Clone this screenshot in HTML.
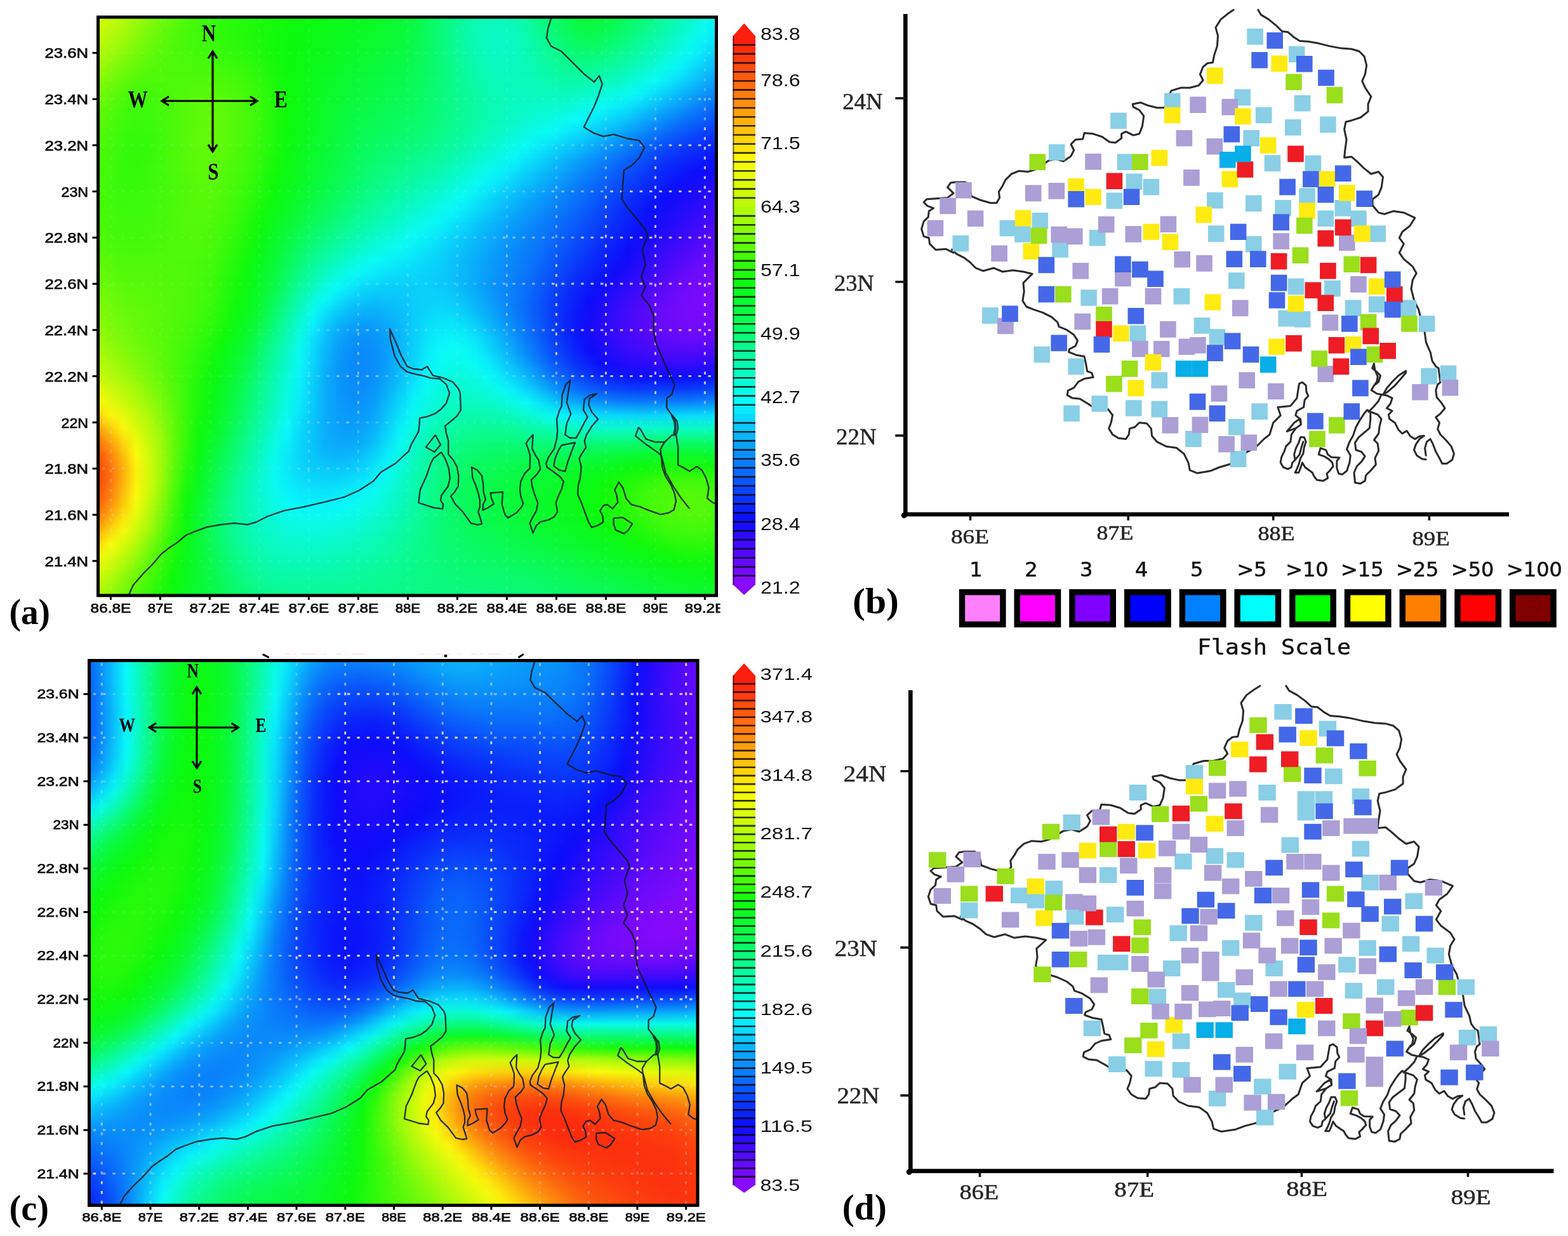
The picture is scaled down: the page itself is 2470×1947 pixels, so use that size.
<!DOCTYPE html>
<html lang="en"><head><meta charset="utf-8"><title>Figure</title>
<style>html,body{margin:0;padding:0;background:#fff}svg{display:block}</style></head>
<body>
<svg width="2470" height="1947" viewBox="0 0 2470 1947" role="img" aria-label="Four-panel figure: two shaded maps with colour bars and two flash-count maps">
<defs>
<linearGradient id="vg" x1="0" y1="0" x2="0" y2="1"><stop offset="0" stop-color="#000"/><stop offset="1" stop-color="#fff"/></linearGradient>
<mask id="vm" maskContentUnits="objectBoundingBox" x="0" y="0" width="1" height="1"><rect x="0" y="0" width="1" height="1" fill="url(#vg)"/></mask>
<linearGradient id="a0"><stop offset="0" stop-color="#d6fa0a"/><stop offset="0.061" stop-color="#a0fa0a"/><stop offset="0.102" stop-color="#70fa0a"/><stop offset="0.143" stop-color="#4efa0a"/><stop offset="0.204" stop-color="#2dfa0b"/><stop offset="0.306" stop-color="#10fa0c"/><stop offset="0.347" stop-color="#0cfa0f"/><stop offset="0.449" stop-color="#0bfa24"/><stop offset="0.49" stop-color="#0afa35"/><stop offset="0.51" stop-color="#0afa43"/><stop offset="0.592" stop-color="#0afaa0"/><stop offset="0.612" stop-color="#0afab1"/><stop offset="0.633" stop-color="#0afaba"/><stop offset="0.653" stop-color="#0afabb"/><stop offset="0.673" stop-color="#0afab1"/><stop offset="0.694" stop-color="#0afa9f"/><stop offset="0.755" stop-color="#0afa52"/><stop offset="0.776" stop-color="#0afa3f"/><stop offset="0.796" stop-color="#0afa39"/><stop offset="0.816" stop-color="#0afa3d"/><stop offset="0.837" stop-color="#0afa4b"/><stop offset="0.918" stop-color="#0afa9d"/><stop offset="1" stop-color="#0afaf9"/></linearGradient>
<linearGradient id="a1"><stop offset="0" stop-color="#cbfa0a"/><stop offset="0.041" stop-color="#a8fa0a"/><stop offset="0.102" stop-color="#65fa0a"/><stop offset="0.143" stop-color="#49fa0a"/><stop offset="0.224" stop-color="#26fa0b"/><stop offset="0.306" stop-color="#0dfa0c"/><stop offset="0.449" stop-color="#0bfa29"/><stop offset="0.49" stop-color="#0afa38"/><stop offset="0.51" stop-color="#0afa46"/><stop offset="0.551" stop-color="#0afa74"/><stop offset="0.592" stop-color="#0afaa5"/><stop offset="0.612" stop-color="#0afab7"/><stop offset="0.633" stop-color="#0afac2"/><stop offset="0.653" stop-color="#0afac4"/><stop offset="0.673" stop-color="#0afabc"/><stop offset="0.694" stop-color="#0afaaa"/><stop offset="0.755" stop-color="#0afa5f"/><stop offset="0.776" stop-color="#0afa4d"/><stop offset="0.796" stop-color="#0afa46"/><stop offset="0.816" stop-color="#0afa4c"/><stop offset="0.857" stop-color="#0afa6f"/><stop offset="0.939" stop-color="#0afac4"/><stop offset="0.98" stop-color="#0afaf4"/><stop offset="1" stop-color="#0aecfa"/></linearGradient>
<linearGradient id="a2"><stop offset="0" stop-color="#bcfa0a"/><stop offset="0.041" stop-color="#99fa0a"/><stop offset="0.082" stop-color="#6dfa0a"/><stop offset="0.122" stop-color="#50fa0a"/><stop offset="0.306" stop-color="#0cfa0c"/><stop offset="0.469" stop-color="#0afa35"/><stop offset="0.49" stop-color="#0afa3d"/><stop offset="0.51" stop-color="#0afa4a"/><stop offset="0.551" stop-color="#0afa75"/><stop offset="0.592" stop-color="#0afaa5"/><stop offset="0.612" stop-color="#0afab7"/><stop offset="0.633" stop-color="#0afac3"/><stop offset="0.653" stop-color="#0afac7"/><stop offset="0.673" stop-color="#0afac1"/><stop offset="0.694" stop-color="#0afab2"/><stop offset="0.755" stop-color="#0afa71"/><stop offset="0.776" stop-color="#0afa62"/><stop offset="0.796" stop-color="#0afa5e"/><stop offset="0.816" stop-color="#0afa64"/><stop offset="0.857" stop-color="#0afa85"/><stop offset="0.918" stop-color="#0afabf"/><stop offset="0.959" stop-color="#0afaed"/><stop offset="0.98" stop-color="#0af0fa"/><stop offset="1" stop-color="#0adcfa"/></linearGradient>
<linearGradient id="a3"><stop offset="0" stop-color="#acfa0a"/><stop offset="0.02" stop-color="#9cfa0a"/><stop offset="0.061" stop-color="#71fa0a"/><stop offset="0.102" stop-color="#55fa0a"/><stop offset="0.224" stop-color="#32fa0b"/><stop offset="0.306" stop-color="#0cfa0c"/><stop offset="0.49" stop-color="#0afa42"/><stop offset="0.531" stop-color="#0afa60"/><stop offset="0.592" stop-color="#0afaa2"/><stop offset="0.612" stop-color="#0afab4"/><stop offset="0.633" stop-color="#0afac0"/><stop offset="0.653" stop-color="#0afac5"/><stop offset="0.673" stop-color="#0afac2"/><stop offset="0.694" stop-color="#0afab6"/><stop offset="0.755" stop-color="#0afa84"/><stop offset="0.776" stop-color="#0afa7a"/><stop offset="0.796" stop-color="#0afa79"/><stop offset="0.816" stop-color="#0afa80"/><stop offset="0.857" stop-color="#0afa9c"/><stop offset="0.918" stop-color="#0afad4"/><stop offset="0.939" stop-color="#0afaea"/><stop offset="0.959" stop-color="#0af4fa"/><stop offset="1" stop-color="#0acbfa"/></linearGradient>
<linearGradient id="a4"><stop offset="0" stop-color="#9cfa0a"/><stop offset="0.041" stop-color="#72fa0a"/><stop offset="0.082" stop-color="#56fa0a"/><stop offset="0.122" stop-color="#4dfa0a"/><stop offset="0.184" stop-color="#47fa0a"/><stop offset="0.245" stop-color="#32fa0b"/><stop offset="0.306" stop-color="#0dfa0c"/><stop offset="0.429" stop-color="#0afa36"/><stop offset="0.49" stop-color="#0afa48"/><stop offset="0.531" stop-color="#0afa62"/><stop offset="0.612" stop-color="#0afaaf"/><stop offset="0.633" stop-color="#0afabb"/><stop offset="0.653" stop-color="#0afac1"/><stop offset="0.673" stop-color="#0afac0"/><stop offset="0.714" stop-color="#0afaad"/><stop offset="0.755" stop-color="#0afa97"/><stop offset="0.776" stop-color="#0afa92"/><stop offset="0.796" stop-color="#0afa93"/><stop offset="0.837" stop-color="#0afaa7"/><stop offset="0.898" stop-color="#0afad8"/><stop offset="0.918" stop-color="#0afaec"/><stop offset="0.939" stop-color="#0af3fa"/><stop offset="1" stop-color="#0ab5fa"/></linearGradient>
<linearGradient id="a5"><stop offset="0" stop-color="#87fa0a"/><stop offset="0.041" stop-color="#60fa0a"/><stop offset="0.061" stop-color="#53fa0a"/><stop offset="0.082" stop-color="#4cfa0a"/><stop offset="0.122" stop-color="#4dfa0a"/><stop offset="0.184" stop-color="#51fa0a"/><stop offset="0.224" stop-color="#45fa0a"/><stop offset="0.265" stop-color="#2dfa0b"/><stop offset="0.306" stop-color="#0efa0c"/><stop offset="0.408" stop-color="#0afa35"/><stop offset="0.49" stop-color="#0afa4d"/><stop offset="0.531" stop-color="#0afa65"/><stop offset="0.612" stop-color="#0afaaa"/><stop offset="0.653" stop-color="#0afabd"/><stop offset="0.694" stop-color="#0afabb"/><stop offset="0.755" stop-color="#0afaaa"/><stop offset="0.796" stop-color="#0afaae"/><stop offset="0.837" stop-color="#0afac3"/><stop offset="0.898" stop-color="#0afaf5"/><stop offset="0.918" stop-color="#0aedfa"/><stop offset="1" stop-color="#0a9dfa"/></linearGradient>
<linearGradient id="a6"><stop offset="0" stop-color="#75fa0a"/><stop offset="0.041" stop-color="#51fa0a"/><stop offset="0.061" stop-color="#47fa0a"/><stop offset="0.082" stop-color="#43fa0a"/><stop offset="0.163" stop-color="#59fa0a"/><stop offset="0.204" stop-color="#55fa0a"/><stop offset="0.245" stop-color="#43fa0b"/><stop offset="0.306" stop-color="#0ffa0c"/><stop offset="0.408" stop-color="#0afa39"/><stop offset="0.51" stop-color="#0afa5b"/><stop offset="0.571" stop-color="#0afa87"/><stop offset="0.633" stop-color="#0afab2"/><stop offset="0.673" stop-color="#0afabf"/><stop offset="0.755" stop-color="#0afabe"/><stop offset="0.796" stop-color="#0afacb"/><stop offset="0.857" stop-color="#0afaf2"/><stop offset="0.878" stop-color="#0af2fa"/><stop offset="0.959" stop-color="#0aa8fa"/><stop offset="1" stop-color="#0a83fa"/></linearGradient>
<linearGradient id="a7"><stop offset="0" stop-color="#67fa0a"/><stop offset="0.041" stop-color="#46fa0a"/><stop offset="0.061" stop-color="#3efa0b"/><stop offset="0.082" stop-color="#3dfa0b"/><stop offset="0.163" stop-color="#5dfa0a"/><stop offset="0.184" stop-color="#5ffa0a"/><stop offset="0.224" stop-color="#53fa0a"/><stop offset="0.265" stop-color="#35fa0b"/><stop offset="0.306" stop-color="#0ffa0c"/><stop offset="0.408" stop-color="#0afa3e"/><stop offset="0.51" stop-color="#0afa60"/><stop offset="0.571" stop-color="#0afa88"/><stop offset="0.633" stop-color="#0afab1"/><stop offset="0.673" stop-color="#0afac3"/><stop offset="0.755" stop-color="#0afad5"/><stop offset="0.816" stop-color="#0afaf6"/><stop offset="0.857" stop-color="#0ae2fa"/><stop offset="0.918" stop-color="#0aadfa"/><stop offset="0.98" stop-color="#0a78fa"/><stop offset="1" stop-color="#0a69fa"/></linearGradient>
<linearGradient id="a8"><stop offset="0" stop-color="#5dfa0a"/><stop offset="0.041" stop-color="#3ffa0b"/><stop offset="0.061" stop-color="#39fa0b"/><stop offset="0.082" stop-color="#3afa0b"/><stop offset="0.163" stop-color="#5ffa0a"/><stop offset="0.184" stop-color="#61fa0a"/><stop offset="0.204" stop-color="#5efa0a"/><stop offset="0.245" stop-color="#46fa0a"/><stop offset="0.306" stop-color="#0efa0c"/><stop offset="0.408" stop-color="#0afa44"/><stop offset="0.531" stop-color="#0afa71"/><stop offset="0.653" stop-color="#0afac0"/><stop offset="0.755" stop-color="#0afaee"/><stop offset="0.776" stop-color="#0afafa"/><stop offset="0.857" stop-color="#0ac1fa"/><stop offset="0.939" stop-color="#0a79fa"/><stop offset="1" stop-color="#0a4ffa"/></linearGradient>
<linearGradient id="a9"><stop offset="0" stop-color="#55fa0a"/><stop offset="0.041" stop-color="#3afa0b"/><stop offset="0.061" stop-color="#35fa0b"/><stop offset="0.082" stop-color="#37fa0b"/><stop offset="0.163" stop-color="#60fa0a"/><stop offset="0.184" stop-color="#62fa0a"/><stop offset="0.204" stop-color="#5efa0a"/><stop offset="0.245" stop-color="#45fa0a"/><stop offset="0.306" stop-color="#0cfa0c"/><stop offset="0.408" stop-color="#0afa4a"/><stop offset="0.469" stop-color="#0afa63"/><stop offset="0.531" stop-color="#0afa79"/><stop offset="0.612" stop-color="#0afaae"/><stop offset="0.714" stop-color="#0afaf0"/><stop offset="0.735" stop-color="#0af8fa"/><stop offset="0.816" stop-color="#0ac0fa"/><stop offset="0.918" stop-color="#0a6afa"/><stop offset="0.98" stop-color="#0a42fa"/><stop offset="1" stop-color="#0a38fa"/></linearGradient>
<linearGradient id="a10"><stop offset="0" stop-color="#50fa0a"/><stop offset="0.041" stop-color="#37fa0b"/><stop offset="0.061" stop-color="#32fa0b"/><stop offset="0.082" stop-color="#35fa0b"/><stop offset="0.143" stop-color="#58fa0a"/><stop offset="0.163" stop-color="#60fa0a"/><stop offset="0.184" stop-color="#62fa0a"/><stop offset="0.204" stop-color="#5cfa0a"/><stop offset="0.245" stop-color="#42fa0b"/><stop offset="0.306" stop-color="#0cfa0f"/><stop offset="0.429" stop-color="#0afa5c"/><stop offset="0.531" stop-color="#0afa84"/><stop offset="0.592" stop-color="#0afaab"/><stop offset="0.694" stop-color="#0afaf8"/><stop offset="0.776" stop-color="#0ac2fa"/><stop offset="0.918" stop-color="#0a4dfa"/><stop offset="0.98" stop-color="#0b2cfa"/><stop offset="1" stop-color="#0b23fa"/></linearGradient>
<linearGradient id="a11"><stop offset="0" stop-color="#4cfa0a"/><stop offset="0.041" stop-color="#36fa0b"/><stop offset="0.061" stop-color="#32fa0b"/><stop offset="0.082" stop-color="#36fa0b"/><stop offset="0.143" stop-color="#57fa0a"/><stop offset="0.163" stop-color="#5efa0a"/><stop offset="0.184" stop-color="#5ffa0a"/><stop offset="0.204" stop-color="#5afa0a"/><stop offset="0.245" stop-color="#3ffa0b"/><stop offset="0.286" stop-color="#19fa0c"/><stop offset="0.306" stop-color="#0cfa11"/><stop offset="0.429" stop-color="#0afa64"/><stop offset="0.551" stop-color="#0afa9e"/><stop offset="0.633" stop-color="#0afadc"/><stop offset="0.673" stop-color="#0af6fa"/><stop offset="0.837" stop-color="#0a75fa"/><stop offset="0.918" stop-color="#0b36fa"/><stop offset="1" stop-color="#0c12fa"/></linearGradient>
<linearGradient id="a12"><stop offset="0" stop-color="#49fa0a"/><stop offset="0.041" stop-color="#36fa0b"/><stop offset="0.061" stop-color="#34fa0b"/><stop offset="0.102" stop-color="#40fa0b"/><stop offset="0.143" stop-color="#55fa0a"/><stop offset="0.163" stop-color="#5cfa0a"/><stop offset="0.184" stop-color="#5cfa0a"/><stop offset="0.204" stop-color="#56fa0a"/><stop offset="0.245" stop-color="#3bfa0b"/><stop offset="0.286" stop-color="#15fa0c"/><stop offset="0.306" stop-color="#0cfa14"/><stop offset="0.449" stop-color="#0afa78"/><stop offset="0.551" stop-color="#0afaaf"/><stop offset="0.612" stop-color="#0afadf"/><stop offset="0.633" stop-color="#0afaf1"/><stop offset="0.653" stop-color="#0af1fa"/><stop offset="0.898" stop-color="#0b30fa"/><stop offset="0.959" stop-color="#0c12fa"/><stop offset="0.98" stop-color="#0d0cfa"/><stop offset="1" stop-color="#150cfa"/></linearGradient>
<linearGradient id="a13"><stop offset="0" stop-color="#48fa0a"/><stop offset="0.041" stop-color="#36fa0b"/><stop offset="0.061" stop-color="#35fa0b"/><stop offset="0.102" stop-color="#41fa0b"/><stop offset="0.163" stop-color="#5afa0a"/><stop offset="0.184" stop-color="#5afa0a"/><stop offset="0.204" stop-color="#52fa0a"/><stop offset="0.245" stop-color="#36fa0b"/><stop offset="0.286" stop-color="#0ffa0c"/><stop offset="0.347" stop-color="#0afa36"/><stop offset="0.449" stop-color="#0afa84"/><stop offset="0.551" stop-color="#0afac1"/><stop offset="0.612" stop-color="#0afaf4"/><stop offset="0.633" stop-color="#0aeefa"/><stop offset="0.878" stop-color="#0b30fa"/><stop offset="0.939" stop-color="#0c0ffa"/><stop offset="1" stop-color="#220bfa"/></linearGradient>
<linearGradient id="a14"><stop offset="0" stop-color="#48fa0a"/><stop offset="0.041" stop-color="#38fa0b"/><stop offset="0.082" stop-color="#3bfa0b"/><stop offset="0.143" stop-color="#53fa0a"/><stop offset="0.163" stop-color="#57fa0a"/><stop offset="0.184" stop-color="#56fa0a"/><stop offset="0.204" stop-color="#4efa0a"/><stop offset="0.245" stop-color="#30fa0b"/><stop offset="0.286" stop-color="#0cfa0f"/><stop offset="0.367" stop-color="#0afa4f"/><stop offset="0.449" stop-color="#0afa91"/><stop offset="0.571" stop-color="#0afae6"/><stop offset="0.592" stop-color="#0afaf7"/><stop offset="0.673" stop-color="#0abbfa"/><stop offset="0.796" stop-color="#0a63fa"/><stop offset="0.878" stop-color="#0b24fa"/><stop offset="0.918" stop-color="#0c0dfa"/><stop offset="1" stop-color="#2f0bfa"/></linearGradient>
<linearGradient id="a15"><stop offset="0" stop-color="#4afa0a"/><stop offset="0.041" stop-color="#3afa0b"/><stop offset="0.082" stop-color="#3efa0b"/><stop offset="0.143" stop-color="#52fa0a"/><stop offset="0.163" stop-color="#55fa0a"/><stop offset="0.184" stop-color="#52fa0a"/><stop offset="0.204" stop-color="#4afa0a"/><stop offset="0.245" stop-color="#2afa0b"/><stop offset="0.265" stop-color="#15fa0c"/><stop offset="0.286" stop-color="#0cfa16"/><stop offset="0.429" stop-color="#0afa92"/><stop offset="0.571" stop-color="#0af9fa"/><stop offset="0.694" stop-color="#0a9dfa"/><stop offset="0.776" stop-color="#0a66fa"/><stop offset="0.857" stop-color="#0b27fa"/><stop offset="0.898" stop-color="#0c0ffa"/><stop offset="1" stop-color="#3d0afa"/></linearGradient>
<linearGradient id="a16"><stop offset="0" stop-color="#4cfa0a"/><stop offset="0.041" stop-color="#3dfa0b"/><stop offset="0.082" stop-color="#41fa0b"/><stop offset="0.143" stop-color="#52fa0a"/><stop offset="0.163" stop-color="#53fa0a"/><stop offset="0.184" stop-color="#4ffa0a"/><stop offset="0.224" stop-color="#36fa0b"/><stop offset="0.265" stop-color="#0dfa0c"/><stop offset="0.429" stop-color="#0afaa4"/><stop offset="0.531" stop-color="#0afaf0"/><stop offset="0.551" stop-color="#0af6fa"/><stop offset="0.673" stop-color="#0a9dfa"/><stop offset="0.776" stop-color="#0a5afa"/><stop offset="0.857" stop-color="#0b1ffa"/><stop offset="0.878" stop-color="#0c12fa"/><stop offset="0.898" stop-color="#120cfa"/><stop offset="0.98" stop-color="#420afa"/><stop offset="1" stop-color="#4b0afa"/></linearGradient>
<linearGradient id="a17"><stop offset="0" stop-color="#50fa0a"/><stop offset="0.02" stop-color="#46fa0a"/><stop offset="0.061" stop-color="#41fa0b"/><stop offset="0.143" stop-color="#52fa0a"/><stop offset="0.163" stop-color="#51fa0a"/><stop offset="0.184" stop-color="#4cfa0a"/><stop offset="0.224" stop-color="#30fa0b"/><stop offset="0.245" stop-color="#1cfa0c"/><stop offset="0.265" stop-color="#0cfa12"/><stop offset="0.367" stop-color="#0afa80"/><stop offset="0.449" stop-color="#0afac9"/><stop offset="0.51" stop-color="#0afaf4"/><stop offset="0.531" stop-color="#0af3fa"/><stop offset="0.673" stop-color="#0a93fa"/><stop offset="0.735" stop-color="#0a6cfa"/><stop offset="0.857" stop-color="#0c17fa"/><stop offset="0.878" stop-color="#0e0cfa"/><stop offset="0.98" stop-color="#500afa"/><stop offset="1" stop-color="#590afa"/></linearGradient>
<linearGradient id="a18"><stop offset="0" stop-color="#56fa0a"/><stop offset="0.041" stop-color="#47fa0a"/><stop offset="0.082" stop-color="#48fa0a"/><stop offset="0.143" stop-color="#51fa0a"/><stop offset="0.163" stop-color="#4ffa0a"/><stop offset="0.184" stop-color="#48fa0a"/><stop offset="0.224" stop-color="#29fa0b"/><stop offset="0.245" stop-color="#14fa0c"/><stop offset="0.265" stop-color="#0cfa19"/><stop offset="0.306" stop-color="#0afa49"/><stop offset="0.347" stop-color="#0afa7f"/><stop offset="0.429" stop-color="#0afad0"/><stop offset="0.49" stop-color="#0afaf9"/><stop offset="0.592" stop-color="#0ac0fa"/><stop offset="0.673" stop-color="#0a8bfa"/><stop offset="0.714" stop-color="#0a73fa"/><stop offset="0.796" stop-color="#0b36fa"/><stop offset="0.857" stop-color="#0c0efa"/><stop offset="0.959" stop-color="#530afa"/><stop offset="1" stop-color="#650afa"/></linearGradient>
<linearGradient id="a19"><stop offset="0" stop-color="#5efa0a"/><stop offset="0.041" stop-color="#4efa0a"/><stop offset="0.102" stop-color="#4ffa0a"/><stop offset="0.143" stop-color="#50fa0a"/><stop offset="0.184" stop-color="#43fa0a"/><stop offset="0.224" stop-color="#23fa0b"/><stop offset="0.245" stop-color="#0cfa0c"/><stop offset="0.286" stop-color="#0afa38"/><stop offset="0.347" stop-color="#0afa93"/><stop offset="0.408" stop-color="#0afad8"/><stop offset="0.449" stop-color="#0afaf8"/><stop offset="0.551" stop-color="#0ad1fa"/><stop offset="0.714" stop-color="#0a6cfa"/><stop offset="0.776" stop-color="#0a3afa"/><stop offset="0.837" stop-color="#0c12fa"/><stop offset="0.857" stop-color="#140cfa"/><stop offset="0.939" stop-color="#540afa"/><stop offset="0.98" stop-color="#690afa"/><stop offset="1" stop-color="#6f0afa"/></linearGradient>
<linearGradient id="a20"><stop offset="0" stop-color="#67fa0a"/><stop offset="0.041" stop-color="#54fa0a"/><stop offset="0.102" stop-color="#52fa0a"/><stop offset="0.143" stop-color="#50fa0a"/><stop offset="0.184" stop-color="#3ffa0b"/><stop offset="0.224" stop-color="#1dfa0c"/><stop offset="0.245" stop-color="#0cfa11"/><stop offset="0.286" stop-color="#0afa41"/><stop offset="0.327" stop-color="#0afa88"/><stop offset="0.367" stop-color="#0afac5"/><stop offset="0.408" stop-color="#0afaf3"/><stop offset="0.429" stop-color="#0af2fa"/><stop offset="0.469" stop-color="#0adffa"/><stop offset="0.551" stop-color="#0acdfa"/><stop offset="0.592" stop-color="#0ab6fa"/><stop offset="0.694" stop-color="#0a74fa"/><stop offset="0.776" stop-color="#0b2ffa"/><stop offset="0.816" stop-color="#0c15fa"/><stop offset="0.837" stop-color="#110cfa"/><stop offset="0.939" stop-color="#600afa"/><stop offset="0.98" stop-color="#730afa"/><stop offset="1" stop-color="#770afa"/></linearGradient>
<linearGradient id="a21"><stop offset="0" stop-color="#70fa0a"/><stop offset="0.041" stop-color="#5bfa0a"/><stop offset="0.143" stop-color="#50fa0a"/><stop offset="0.184" stop-color="#3cfa0b"/><stop offset="0.224" stop-color="#17fa0c"/><stop offset="0.245" stop-color="#0cfa16"/><stop offset="0.265" stop-color="#0bfa2d"/><stop offset="0.286" stop-color="#0afa4c"/><stop offset="0.327" stop-color="#0afa9c"/><stop offset="0.367" stop-color="#0afadf"/><stop offset="0.388" stop-color="#0afaf9"/><stop offset="0.429" stop-color="#0adafa"/><stop offset="0.469" stop-color="#0acefa"/><stop offset="0.531" stop-color="#0ad0fa"/><stop offset="0.571" stop-color="#0ac5fa"/><stop offset="0.694" stop-color="#0a6efa"/><stop offset="0.755" stop-color="#0b35fa"/><stop offset="0.796" stop-color="#0c17fa"/><stop offset="0.816" stop-color="#0f0cfa"/><stop offset="0.918" stop-color="#5e0afa"/><stop offset="0.959" stop-color="#730afa"/><stop offset="1" stop-color="#7c0afa"/></linearGradient>
<linearGradient id="a22"><stop offset="0" stop-color="#7afa0a"/><stop offset="0.041" stop-color="#62fa0a"/><stop offset="0.143" stop-color="#4ffa0a"/><stop offset="0.184" stop-color="#39fa0b"/><stop offset="0.224" stop-color="#12fa0c"/><stop offset="0.245" stop-color="#0bfa1b"/><stop offset="0.265" stop-color="#0afa35"/><stop offset="0.286" stop-color="#0afa5a"/><stop offset="0.327" stop-color="#0afab1"/><stop offset="0.347" stop-color="#0afad9"/><stop offset="0.367" stop-color="#0af9fa"/><stop offset="0.388" stop-color="#0ae1fa"/><stop offset="0.408" stop-color="#0acffa"/><stop offset="0.429" stop-color="#0ac5fa"/><stop offset="0.449" stop-color="#0ac0fa"/><stop offset="0.49" stop-color="#0ac6fa"/><stop offset="0.531" stop-color="#0ad2fa"/><stop offset="0.551" stop-color="#0ad2fa"/><stop offset="0.571" stop-color="#0accfa"/><stop offset="0.592" stop-color="#0ac1fa"/><stop offset="0.694" stop-color="#0a6bfa"/><stop offset="0.755" stop-color="#0b2dfa"/><stop offset="0.796" stop-color="#0c0dfa"/><stop offset="0.898" stop-color="#5b0afa"/><stop offset="0.939" stop-color="#710afa"/><stop offset="0.98" stop-color="#7c0afa"/><stop offset="1" stop-color="#7d0afa"/></linearGradient>
<linearGradient id="a23"><stop offset="0" stop-color="#84fa0a"/><stop offset="0.041" stop-color="#69fa0a"/><stop offset="0.143" stop-color="#4dfa0a"/><stop offset="0.184" stop-color="#34fa0b"/><stop offset="0.224" stop-color="#0cfa0d"/><stop offset="0.245" stop-color="#0bfa23"/><stop offset="0.265" stop-color="#0afa3f"/><stop offset="0.347" stop-color="#0afaf1"/><stop offset="0.367" stop-color="#0ae1fa"/><stop offset="0.388" stop-color="#0ac9fa"/><stop offset="0.408" stop-color="#0ab8fa"/><stop offset="0.429" stop-color="#0aaefa"/><stop offset="0.449" stop-color="#0aaefa"/><stop offset="0.469" stop-color="#0ab4fa"/><stop offset="0.531" stop-color="#0ad6fa"/><stop offset="0.551" stop-color="#0adbfa"/><stop offset="0.571" stop-color="#0ad9fa"/><stop offset="0.592" stop-color="#0acffa"/><stop offset="0.633" stop-color="#0aa9fa"/><stop offset="0.714" stop-color="#0a55fa"/><stop offset="0.755" stop-color="#0b29fa"/><stop offset="0.776" stop-color="#0c17fa"/><stop offset="0.796" stop-color="#130cfa"/><stop offset="0.878" stop-color="#550afa"/><stop offset="0.918" stop-color="#6c0afa"/><stop offset="0.959" stop-color="#790afa"/><stop offset="1" stop-color="#7a0afa"/></linearGradient>
<linearGradient id="a24"><stop offset="0" stop-color="#8ffa0a"/><stop offset="0.02" stop-color="#7cfa0a"/><stop offset="0.061" stop-color="#67fa0a"/><stop offset="0.143" stop-color="#49fa0a"/><stop offset="0.184" stop-color="#2efa0b"/><stop offset="0.204" stop-color="#1afa0c"/><stop offset="0.224" stop-color="#0cfa15"/><stop offset="0.245" stop-color="#0bfa2d"/><stop offset="0.265" stop-color="#0afa4f"/><stop offset="0.327" stop-color="#0afada"/><stop offset="0.347" stop-color="#0aeffa"/><stop offset="0.367" stop-color="#0acefa"/><stop offset="0.388" stop-color="#0ab4fa"/><stop offset="0.408" stop-color="#0aa3fa"/><stop offset="0.429" stop-color="#0a9cfa"/><stop offset="0.449" stop-color="#0a9ffa"/><stop offset="0.469" stop-color="#0aa9fa"/><stop offset="0.531" stop-color="#0adcfa"/><stop offset="0.551" stop-color="#0ae6fa"/><stop offset="0.571" stop-color="#0ae8fa"/><stop offset="0.592" stop-color="#0ae0fa"/><stop offset="0.612" stop-color="#0ad0fa"/><stop offset="0.755" stop-color="#0b28fa"/><stop offset="0.776" stop-color="#0c15fa"/><stop offset="0.796" stop-color="#160cfa"/><stop offset="0.857" stop-color="#490afa"/><stop offset="0.918" stop-color="#6a0afa"/><stop offset="0.959" stop-color="#740afa"/><stop offset="1" stop-color="#720afa"/></linearGradient>
<linearGradient id="a25"><stop offset="0" stop-color="#9dfa0a"/><stop offset="0.02" stop-color="#87fa0a"/><stop offset="0.061" stop-color="#6dfa0a"/><stop offset="0.143" stop-color="#45fa0a"/><stop offset="0.184" stop-color="#25fa0b"/><stop offset="0.204" stop-color="#0ffa0c"/><stop offset="0.224" stop-color="#0bfa1f"/><stop offset="0.245" stop-color="#0afa3a"/><stop offset="0.265" stop-color="#0afa60"/><stop offset="0.327" stop-color="#0afae9"/><stop offset="0.347" stop-color="#0ae2fa"/><stop offset="0.367" stop-color="#0ac0fa"/><stop offset="0.388" stop-color="#0aa5fa"/><stop offset="0.408" stop-color="#0a95fa"/><stop offset="0.429" stop-color="#0a90fa"/><stop offset="0.449" stop-color="#0a95fa"/><stop offset="0.469" stop-color="#0aa2fa"/><stop offset="0.531" stop-color="#0ae2fa"/><stop offset="0.551" stop-color="#0af0fa"/><stop offset="0.571" stop-color="#0af6fa"/><stop offset="0.592" stop-color="#0af0fa"/><stop offset="0.612" stop-color="#0ae1fa"/><stop offset="0.633" stop-color="#0acbfa"/><stop offset="0.735" stop-color="#0a44fa"/><stop offset="0.776" stop-color="#0c18fa"/><stop offset="0.796" stop-color="#130cfa"/><stop offset="0.857" stop-color="#440afa"/><stop offset="0.918" stop-color="#600afa"/><stop offset="0.959" stop-color="#680afa"/><stop offset="1" stop-color="#620afa"/></linearGradient>
<linearGradient id="a26"><stop offset="0" stop-color="#a9fa0a"/><stop offset="0.041" stop-color="#83fa0a"/><stop offset="0.143" stop-color="#40fa0b"/><stop offset="0.184" stop-color="#1bfa0c"/><stop offset="0.204" stop-color="#0cfa13"/><stop offset="0.224" stop-color="#0bfa2a"/><stop offset="0.245" stop-color="#0afa47"/><stop offset="0.306" stop-color="#0afac8"/><stop offset="0.327" stop-color="#0afaf4"/><stop offset="0.347" stop-color="#0ad9fa"/><stop offset="0.367" stop-color="#0ab8fa"/><stop offset="0.388" stop-color="#0a9dfa"/><stop offset="0.408" stop-color="#0a8ffa"/><stop offset="0.429" stop-color="#0a8bfa"/><stop offset="0.449" stop-color="#0a90fa"/><stop offset="0.469" stop-color="#0aa0fa"/><stop offset="0.531" stop-color="#0ae8fa"/><stop offset="0.551" stop-color="#0af9fa"/><stop offset="0.571" stop-color="#0afaf3"/><stop offset="0.592" stop-color="#0afaf6"/><stop offset="0.612" stop-color="#0af0fa"/><stop offset="0.653" stop-color="#0ac1fa"/><stop offset="0.735" stop-color="#0a4efa"/><stop offset="0.776" stop-color="#0b20fa"/><stop offset="0.796" stop-color="#0c0dfa"/><stop offset="0.857" stop-color="#370bfa"/><stop offset="0.918" stop-color="#4f0afa"/><stop offset="0.959" stop-color="#530afa"/><stop offset="1" stop-color="#4b0afa"/></linearGradient>
<linearGradient id="a27"><stop offset="0" stop-color="#b8fa0a"/><stop offset="0.082" stop-color="#70fa0a"/><stop offset="0.163" stop-color="#28fa0b"/><stop offset="0.184" stop-color="#11fa0c"/><stop offset="0.204" stop-color="#0bfa1c"/><stop offset="0.224" stop-color="#0bfa33"/><stop offset="0.245" stop-color="#0afa54"/><stop offset="0.327" stop-color="#0af7fa"/><stop offset="0.367" stop-color="#0ab3fa"/><stop offset="0.388" stop-color="#0a9afa"/><stop offset="0.408" stop-color="#0a8cfa"/><stop offset="0.429" stop-color="#0a89fa"/><stop offset="0.449" stop-color="#0a90fa"/><stop offset="0.469" stop-color="#0aa1fa"/><stop offset="0.531" stop-color="#0aeefa"/><stop offset="0.551" stop-color="#0afaf3"/><stop offset="0.571" stop-color="#0afae9"/><stop offset="0.592" stop-color="#0afaea"/><stop offset="0.612" stop-color="#0afaf6"/><stop offset="0.633" stop-color="#0aebfa"/><stop offset="0.673" stop-color="#0abafa"/><stop offset="0.735" stop-color="#0a5ffa"/><stop offset="0.755" stop-color="#0a45fa"/><stop offset="0.796" stop-color="#0b1dfa"/><stop offset="0.816" stop-color="#0c0dfa"/><stop offset="0.857" stop-color="#230bfa"/><stop offset="0.918" stop-color="#330bfa"/><stop offset="0.959" stop-color="#350bfa"/><stop offset="1" stop-color="#2a0bfa"/></linearGradient>
<linearGradient id="a28"><stop offset="0" stop-color="#cbfa0a"/><stop offset="0.102" stop-color="#65fa0a"/><stop offset="0.184" stop-color="#0cfa0e"/><stop offset="0.224" stop-color="#0afa3c"/><stop offset="0.245" stop-color="#0afa5f"/><stop offset="0.306" stop-color="#0afadb"/><stop offset="0.327" stop-color="#0af1fa"/><stop offset="0.367" stop-color="#0ab0fa"/><stop offset="0.388" stop-color="#0a99fa"/><stop offset="0.408" stop-color="#0a8dfa"/><stop offset="0.429" stop-color="#0a8afa"/><stop offset="0.449" stop-color="#0a93fa"/><stop offset="0.469" stop-color="#0aa7fa"/><stop offset="0.531" stop-color="#0af6fa"/><stop offset="0.571" stop-color="#0afadf"/><stop offset="0.592" stop-color="#0afade"/><stop offset="0.612" stop-color="#0afae6"/><stop offset="0.633" stop-color="#0afaf7"/><stop offset="0.673" stop-color="#0ad1fa"/><stop offset="0.694" stop-color="#0ab8fa"/><stop offset="0.735" stop-color="#0a78fa"/><stop offset="0.776" stop-color="#0a49fa"/><stop offset="0.816" stop-color="#0b28fa"/><stop offset="0.857" stop-color="#0c14fa"/><stop offset="0.918" stop-color="#0c0cfa"/><stop offset="0.98" stop-color="#0c11fa"/><stop offset="1" stop-color="#0c18fa"/></linearGradient>
<linearGradient id="a29"><stop offset="0" stop-color="#e3fa0b"/><stop offset="0.061" stop-color="#a4fa0a"/><stop offset="0.163" stop-color="#1efa0c"/><stop offset="0.184" stop-color="#0cfa13"/><stop offset="0.224" stop-color="#0afa44"/><stop offset="0.306" stop-color="#0afae0"/><stop offset="0.327" stop-color="#0aedfa"/><stop offset="0.367" stop-color="#0aaefa"/><stop offset="0.388" stop-color="#0a99fa"/><stop offset="0.408" stop-color="#0a8efa"/><stop offset="0.429" stop-color="#0a8efa"/><stop offset="0.449" stop-color="#0a99fa"/><stop offset="0.469" stop-color="#0ab0fa"/><stop offset="0.51" stop-color="#0ae8fa"/><stop offset="0.531" stop-color="#0afaf4"/><stop offset="0.551" stop-color="#0afae0"/><stop offset="0.571" stop-color="#0afad4"/><stop offset="0.592" stop-color="#0afad1"/><stop offset="0.612" stop-color="#0afad5"/><stop offset="0.633" stop-color="#0afae2"/><stop offset="0.653" stop-color="#0afaf3"/><stop offset="0.673" stop-color="#0aedfa"/><stop offset="0.714" stop-color="#0abdfa"/><stop offset="0.735" stop-color="#0a9efa"/><stop offset="0.755" stop-color="#0a84fa"/><stop offset="0.796" stop-color="#0a60fa"/><stop offset="0.837" stop-color="#0a48fa"/><stop offset="0.878" stop-color="#0a3ffa"/><stop offset="0.959" stop-color="#0a40fa"/><stop offset="1" stop-color="#0a4cfa"/></linearGradient>
<linearGradient id="a30"><stop offset="0" stop-color="#fcf70c"/><stop offset="0.061" stop-color="#b5fa0a"/><stop offset="0.082" stop-color="#9bfa0a"/><stop offset="0.143" stop-color="#38fa0b"/><stop offset="0.163" stop-color="#1bfa0c"/><stop offset="0.184" stop-color="#0cfa18"/><stop offset="0.204" stop-color="#0bfa30"/><stop offset="0.224" stop-color="#0afa4d"/><stop offset="0.306" stop-color="#0afae6"/><stop offset="0.327" stop-color="#0ae8fa"/><stop offset="0.367" stop-color="#0aaefa"/><stop offset="0.388" stop-color="#0a9bfa"/><stop offset="0.408" stop-color="#0a92fa"/><stop offset="0.429" stop-color="#0a93fa"/><stop offset="0.449" stop-color="#0aa0fa"/><stop offset="0.51" stop-color="#0af5fa"/><stop offset="0.551" stop-color="#0afad3"/><stop offset="0.571" stop-color="#0afac6"/><stop offset="0.592" stop-color="#0afac1"/><stop offset="0.612" stop-color="#0afac2"/><stop offset="0.653" stop-color="#0afad5"/><stop offset="0.694" stop-color="#0afaf8"/><stop offset="0.755" stop-color="#0abafa"/><stop offset="0.796" stop-color="#0a9bfa"/><stop offset="0.837" stop-color="#0a86fa"/><stop offset="0.878" stop-color="#0a80fa"/><stop offset="0.959" stop-color="#0a85fa"/><stop offset="1" stop-color="#0a8ffa"/></linearGradient>
<linearGradient id="a31"><stop offset="0" stop-color="#fcd00c"/><stop offset="0.02" stop-color="#fcf30c"/><stop offset="0.041" stop-color="#e6fa0b"/><stop offset="0.082" stop-color="#abfa0a"/><stop offset="0.143" stop-color="#39fa0b"/><stop offset="0.163" stop-color="#17fa0c"/><stop offset="0.184" stop-color="#0bfa1c"/><stop offset="0.204" stop-color="#0afa36"/><stop offset="0.224" stop-color="#0afa56"/><stop offset="0.306" stop-color="#0afaf2"/><stop offset="0.327" stop-color="#0ae1fa"/><stop offset="0.367" stop-color="#0aaefa"/><stop offset="0.388" stop-color="#0a9ffa"/><stop offset="0.408" stop-color="#0a98fa"/><stop offset="0.429" stop-color="#0a9bfa"/><stop offset="0.449" stop-color="#0aaafa"/><stop offset="0.49" stop-color="#0ae5fa"/><stop offset="0.51" stop-color="#0afaf0"/><stop offset="0.531" stop-color="#0afad6"/><stop offset="0.551" stop-color="#0afac3"/><stop offset="0.571" stop-color="#0afab6"/><stop offset="0.592" stop-color="#0afaae"/><stop offset="0.612" stop-color="#0afaac"/><stop offset="0.653" stop-color="#0afab6"/><stop offset="0.694" stop-color="#0aface"/><stop offset="0.735" stop-color="#0afaf2"/><stop offset="0.755" stop-color="#0af3fa"/><stop offset="0.816" stop-color="#0adbfa"/><stop offset="0.878" stop-color="#0ad5fa"/><stop offset="1" stop-color="#0adffa"/></linearGradient>
<linearGradient id="a32"><stop offset="0" stop-color="#fca30d"/><stop offset="0.041" stop-color="#fcf70c"/><stop offset="0.082" stop-color="#b9fa0a"/><stop offset="0.102" stop-color="#92fa0a"/><stop offset="0.122" stop-color="#62fa0a"/><stop offset="0.163" stop-color="#12fa0c"/><stop offset="0.184" stop-color="#0bfa22"/><stop offset="0.204" stop-color="#0afa3e"/><stop offset="0.286" stop-color="#0afad8"/><stop offset="0.306" stop-color="#0af8fa"/><stop offset="0.327" stop-color="#0adafa"/><stop offset="0.367" stop-color="#0aaffa"/><stop offset="0.388" stop-color="#0aa2fa"/><stop offset="0.408" stop-color="#0a9efa"/><stop offset="0.429" stop-color="#0aa4fa"/><stop offset="0.449" stop-color="#0ab5fa"/><stop offset="0.469" stop-color="#0ad1fa"/><stop offset="0.49" stop-color="#0af2fa"/><stop offset="0.51" stop-color="#0afae1"/><stop offset="0.531" stop-color="#0afac6"/><stop offset="0.551" stop-color="#0afab1"/><stop offset="0.571" stop-color="#0afaa3"/><stop offset="0.612" stop-color="#0afa95"/><stop offset="0.653" stop-color="#0afa97"/><stop offset="0.714" stop-color="#0afaad"/><stop offset="0.755" stop-color="#0afac1"/><stop offset="0.796" stop-color="#0afaca"/><stop offset="0.857" stop-color="#0afacc"/><stop offset="0.939" stop-color="#0afac4"/><stop offset="1" stop-color="#0afac4"/></linearGradient>
<linearGradient id="a33"><stop offset="0" stop-color="#fc770e"/><stop offset="0.02" stop-color="#fca30d"/><stop offset="0.041" stop-color="#fcd80c"/><stop offset="0.061" stop-color="#eefa0b"/><stop offset="0.102" stop-color="#9dfa0a"/><stop offset="0.122" stop-color="#65fa0a"/><stop offset="0.143" stop-color="#35fa0b"/><stop offset="0.163" stop-color="#0cfa0d"/><stop offset="0.204" stop-color="#0afa49"/><stop offset="0.286" stop-color="#0afae3"/><stop offset="0.306" stop-color="#0af0fa"/><stop offset="0.327" stop-color="#0ad6fa"/><stop offset="0.367" stop-color="#0ab0fa"/><stop offset="0.388" stop-color="#0aa7fa"/><stop offset="0.408" stop-color="#0aa6fa"/><stop offset="0.429" stop-color="#0aaffa"/><stop offset="0.449" stop-color="#0ac3fa"/><stop offset="0.469" stop-color="#0adefa"/><stop offset="0.49" stop-color="#0afaf3"/><stop offset="0.51" stop-color="#0afad1"/><stop offset="0.531" stop-color="#0afab6"/><stop offset="0.551" stop-color="#0afaa1"/><stop offset="0.592" stop-color="#0afa86"/><stop offset="0.633" stop-color="#0afa7b"/><stop offset="0.694" stop-color="#0afa7e"/><stop offset="0.776" stop-color="#0afa88"/><stop offset="0.878" stop-color="#0afa77"/><stop offset="0.898" stop-color="#0afa70"/><stop offset="0.98" stop-color="#0afa6f"/><stop offset="1" stop-color="#0afa76"/></linearGradient>
<linearGradient id="a34"><stop offset="0" stop-color="#fc570e"/><stop offset="0.02" stop-color="#fc830e"/><stop offset="0.061" stop-color="#fcfa0c"/><stop offset="0.102" stop-color="#a2fa0a"/><stop offset="0.122" stop-color="#65fa0a"/><stop offset="0.143" stop-color="#30fa0b"/><stop offset="0.163" stop-color="#0cfa13"/><stop offset="0.204" stop-color="#0afa56"/><stop offset="0.286" stop-color="#0afaec"/><stop offset="0.306" stop-color="#0aeafa"/><stop offset="0.327" stop-color="#0ad4fa"/><stop offset="0.367" stop-color="#0ab8fa"/><stop offset="0.388" stop-color="#0ab3fa"/><stop offset="0.408" stop-color="#0ab5fa"/><stop offset="0.429" stop-color="#0ac0fa"/><stop offset="0.449" stop-color="#0ad3fa"/><stop offset="0.469" stop-color="#0aedfa"/><stop offset="0.49" stop-color="#0afae5"/><stop offset="0.51" stop-color="#0afac4"/><stop offset="0.531" stop-color="#0afaa9"/><stop offset="0.551" stop-color="#0afa93"/><stop offset="0.592" stop-color="#0afa75"/><stop offset="0.633" stop-color="#0afa66"/><stop offset="0.776" stop-color="#0afa53"/><stop offset="0.837" stop-color="#0afa3f"/><stop offset="0.918" stop-color="#0bfa2c"/><stop offset="0.98" stop-color="#0bfa2e"/><stop offset="1" stop-color="#0afa36"/></linearGradient>
<linearGradient id="a35"><stop offset="0" stop-color="#fc470e"/><stop offset="0.02" stop-color="#fc720e"/><stop offset="0.061" stop-color="#fcf00c"/><stop offset="0.082" stop-color="#d5fa0a"/><stop offset="0.102" stop-color="#a2fa0a"/><stop offset="0.122" stop-color="#60fa0a"/><stop offset="0.143" stop-color="#28fa0b"/><stop offset="0.163" stop-color="#0bfa1b"/><stop offset="0.184" stop-color="#0afa3c"/><stop offset="0.265" stop-color="#0afad1"/><stop offset="0.286" stop-color="#0afaf2"/><stop offset="0.306" stop-color="#0ae8fa"/><stop offset="0.327" stop-color="#0ad6fa"/><stop offset="0.347" stop-color="#0acbfa"/><stop offset="0.388" stop-color="#0ac5fa"/><stop offset="0.408" stop-color="#0ac9fa"/><stop offset="0.429" stop-color="#0ad3fa"/><stop offset="0.469" stop-color="#0afaf7"/><stop offset="0.531" stop-color="#0afaa0"/><stop offset="0.571" stop-color="#0afa76"/><stop offset="0.612" stop-color="#0afa5e"/><stop offset="0.735" stop-color="#0afa3d"/><stop offset="0.816" stop-color="#0bfa22"/><stop offset="0.878" stop-color="#0cfa0e"/><stop offset="0.918" stop-color="#19fa0c"/><stop offset="0.959" stop-color="#1bfa0c"/><stop offset="0.98" stop-color="#16fa0c"/><stop offset="1" stop-color="#0cfa0e"/></linearGradient>
<linearGradient id="a36"><stop offset="0" stop-color="#fc470e"/><stop offset="0.02" stop-color="#fc720e"/><stop offset="0.061" stop-color="#fcf00c"/><stop offset="0.082" stop-color="#d3fa0a"/><stop offset="0.102" stop-color="#9efa0a"/><stop offset="0.122" stop-color="#59fa0a"/><stop offset="0.143" stop-color="#20fa0b"/><stop offset="0.163" stop-color="#0bfa22"/><stop offset="0.184" stop-color="#0afa45"/><stop offset="0.224" stop-color="#0afa92"/><stop offset="0.265" stop-color="#0afad6"/><stop offset="0.286" stop-color="#0afaf3"/><stop offset="0.306" stop-color="#0aecfa"/><stop offset="0.327" stop-color="#0adefa"/><stop offset="0.347" stop-color="#0ad6fa"/><stop offset="0.388" stop-color="#0ad5fa"/><stop offset="0.429" stop-color="#0ae5fa"/><stop offset="0.449" stop-color="#0af5fa"/><stop offset="0.469" stop-color="#0afae9"/><stop offset="0.531" stop-color="#0afa99"/><stop offset="0.571" stop-color="#0afa6f"/><stop offset="0.612" stop-color="#0afa55"/><stop offset="0.714" stop-color="#0afa35"/><stop offset="0.816" stop-color="#0cfa10"/><stop offset="0.857" stop-color="#1efa0b"/><stop offset="0.918" stop-color="#3bfa0b"/><stop offset="0.959" stop-color="#40fa0b"/><stop offset="0.98" stop-color="#3bfa0b"/><stop offset="1" stop-color="#2efa0b"/></linearGradient>
<linearGradient id="a37"><stop offset="0" stop-color="#fc520e"/><stop offset="0.02" stop-color="#fc7e0e"/><stop offset="0.061" stop-color="#fcf90c"/><stop offset="0.082" stop-color="#ccfa0a"/><stop offset="0.102" stop-color="#94fa0a"/><stop offset="0.122" stop-color="#50fa0a"/><stop offset="0.143" stop-color="#17fa0c"/><stop offset="0.163" stop-color="#0bfa29"/><stop offset="0.224" stop-color="#0afa9a"/><stop offset="0.265" stop-color="#0afad6"/><stop offset="0.286" stop-color="#0afaee"/><stop offset="0.306" stop-color="#0af4fa"/><stop offset="0.327" stop-color="#0ae9fa"/><stop offset="0.367" stop-color="#0ae3fa"/><stop offset="0.408" stop-color="#0aedfa"/><stop offset="0.429" stop-color="#0af6fa"/><stop offset="0.449" stop-color="#0afaef"/><stop offset="0.49" stop-color="#0afac4"/><stop offset="0.551" stop-color="#0afa7e"/><stop offset="0.592" stop-color="#0afa5c"/><stop offset="0.653" stop-color="#0afa41"/><stop offset="0.776" stop-color="#0cfa19"/><stop offset="0.796" stop-color="#0cfa11"/><stop offset="0.816" stop-color="#11fa0c"/><stop offset="0.898" stop-color="#43fa0a"/><stop offset="0.939" stop-color="#52fa0a"/><stop offset="0.959" stop-color="#54fa0a"/><stop offset="0.98" stop-color="#50fa0a"/><stop offset="1" stop-color="#44fa0a"/></linearGradient>
<linearGradient id="a38"><stop offset="0" stop-color="#fc670e"/><stop offset="0.02" stop-color="#fc930e"/><stop offset="0.041" stop-color="#fccd0c"/><stop offset="0.061" stop-color="#f1fa0b"/><stop offset="0.082" stop-color="#c1fa0a"/><stop offset="0.102" stop-color="#86fa0a"/><stop offset="0.122" stop-color="#45fa0a"/><stop offset="0.143" stop-color="#0efa0c"/><stop offset="0.184" stop-color="#0afa55"/><stop offset="0.204" stop-color="#0afa7c"/><stop offset="0.245" stop-color="#0afaba"/><stop offset="0.286" stop-color="#0afae6"/><stop offset="0.306" stop-color="#0afaf5"/><stop offset="0.327" stop-color="#0af7fa"/><stop offset="0.367" stop-color="#0af4fa"/><stop offset="0.408" stop-color="#0afaf6"/><stop offset="0.449" stop-color="#0afae0"/><stop offset="0.49" stop-color="#0afabb"/><stop offset="0.551" stop-color="#0afa7c"/><stop offset="0.592" stop-color="#0afa5c"/><stop offset="0.653" stop-color="#0afa41"/><stop offset="0.776" stop-color="#0cfa18"/><stop offset="0.796" stop-color="#0cfa10"/><stop offset="0.816" stop-color="#12fa0c"/><stop offset="0.898" stop-color="#45fa0a"/><stop offset="0.939" stop-color="#56fa0a"/><stop offset="0.959" stop-color="#59fa0a"/><stop offset="0.98" stop-color="#55fa0a"/><stop offset="1" stop-color="#4bfa0a"/></linearGradient>
<linearGradient id="a39"><stop offset="0" stop-color="#fc840e"/><stop offset="0.02" stop-color="#fcb20d"/><stop offset="0.041" stop-color="#fce70c"/><stop offset="0.061" stop-color="#e1fa0b"/><stop offset="0.082" stop-color="#b2fa0a"/><stop offset="0.122" stop-color="#3bfa0b"/><stop offset="0.143" stop-color="#0cfa10"/><stop offset="0.204" stop-color="#0afa7d"/><stop offset="0.245" stop-color="#0afab7"/><stop offset="0.265" stop-color="#0afacc"/><stop offset="0.306" stop-color="#0afae7"/><stop offset="0.347" stop-color="#0afaef"/><stop offset="0.388" stop-color="#0afaeb"/><stop offset="0.429" stop-color="#0afadc"/><stop offset="0.469" stop-color="#0afac2"/><stop offset="0.571" stop-color="#0afa6a"/><stop offset="0.633" stop-color="#0afa4c"/><stop offset="0.816" stop-color="#0cfa0d"/><stop offset="0.918" stop-color="#47fa0a"/><stop offset="0.959" stop-color="#51fa0a"/><stop offset="0.98" stop-color="#4ffa0a"/><stop offset="1" stop-color="#47fa0a"/></linearGradient>
<linearGradient id="a40"><stop offset="0" stop-color="#fcad0d"/><stop offset="0.02" stop-color="#fcd80c"/><stop offset="0.041" stop-color="#f2fa0c"/><stop offset="0.061" stop-color="#ccfa0a"/><stop offset="0.082" stop-color="#a0fa0a"/><stop offset="0.102" stop-color="#64fa0a"/><stop offset="0.122" stop-color="#2ffa0b"/><stop offset="0.143" stop-color="#0cfa14"/><stop offset="0.204" stop-color="#0afa7c"/><stop offset="0.224" stop-color="#0afa99"/><stop offset="0.245" stop-color="#0afab1"/><stop offset="0.265" stop-color="#0afac4"/><stop offset="0.306" stop-color="#0afada"/><stop offset="0.347" stop-color="#0afadf"/><stop offset="0.408" stop-color="#0afad3"/><stop offset="0.449" stop-color="#0afac1"/><stop offset="0.571" stop-color="#0afa6c"/><stop offset="0.633" stop-color="#0afa52"/><stop offset="0.816" stop-color="#0cfa16"/><stop offset="0.837" stop-color="#0cfa0d"/><stop offset="0.918" stop-color="#38fa0b"/><stop offset="0.959" stop-color="#42fa0b"/><stop offset="1" stop-color="#3bfa0b"/></linearGradient>
<linearGradient id="a41"><stop offset="0" stop-color="#fcd80c"/><stop offset="0.02" stop-color="#f8fa0c"/><stop offset="0.041" stop-color="#d8fa0a"/><stop offset="0.061" stop-color="#b3fa0a"/><stop offset="0.102" stop-color="#51fa0a"/><stop offset="0.122" stop-color="#24fa0b"/><stop offset="0.143" stop-color="#0cfa18"/><stop offset="0.204" stop-color="#0afa76"/><stop offset="0.224" stop-color="#0afa92"/><stop offset="0.245" stop-color="#0afaa9"/><stop offset="0.265" stop-color="#0afaba"/><stop offset="0.306" stop-color="#0afacc"/><stop offset="0.347" stop-color="#0afacf"/><stop offset="0.408" stop-color="#0afac4"/><stop offset="0.469" stop-color="#0afaa8"/><stop offset="0.571" stop-color="#0afa6f"/><stop offset="0.837" stop-color="#0bfa1a"/><stop offset="0.878" stop-color="#10fa0c"/><stop offset="0.939" stop-color="#2afa0b"/><stop offset="0.98" stop-color="#2dfa0b"/><stop offset="1" stop-color="#2afa0b"/></linearGradient>
<linearGradient id="a42"><stop offset="0" stop-color="#f8fa0c"/><stop offset="0.041" stop-color="#bcfa0a"/><stop offset="0.061" stop-color="#97fa0a"/><stop offset="0.102" stop-color="#3ffa0b"/><stop offset="0.122" stop-color="#1bfa0c"/><stop offset="0.143" stop-color="#0bfa1a"/><stop offset="0.184" stop-color="#0afa50"/><stop offset="0.224" stop-color="#0afa89"/><stop offset="0.265" stop-color="#0afaaf"/><stop offset="0.306" stop-color="#0afabf"/><stop offset="0.367" stop-color="#0afabe"/><stop offset="0.429" stop-color="#0afaae"/><stop offset="0.571" stop-color="#0afa72"/><stop offset="0.735" stop-color="#0afa49"/><stop offset="0.918" stop-color="#0cfa0c"/><stop offset="0.959" stop-color="#17fa0c"/><stop offset="1" stop-color="#16fa0c"/></linearGradient>
<linearGradient id="a43"><stop offset="0" stop-color="#dcfa0a"/><stop offset="0.041" stop-color="#a2fa0a"/><stop offset="0.082" stop-color="#53fa0a"/><stop offset="0.122" stop-color="#13fa0c"/><stop offset="0.143" stop-color="#0bfa1c"/><stop offset="0.224" stop-color="#0afa80"/><stop offset="0.265" stop-color="#0afaa1"/><stop offset="0.306" stop-color="#0afab0"/><stop offset="0.367" stop-color="#0afaaf"/><stop offset="0.449" stop-color="#0afa9c"/><stop offset="0.571" stop-color="#0afa77"/><stop offset="0.714" stop-color="#0afa5d"/><stop offset="0.939" stop-color="#0cfa18"/><stop offset="1" stop-color="#0cfa14"/></linearGradient>
<linearGradient id="a44"><stop offset="0" stop-color="#c3fa0a"/><stop offset="0.02" stop-color="#a7fa0a"/><stop offset="0.082" stop-color="#42fa0b"/><stop offset="0.122" stop-color="#0cfa0c"/><stop offset="0.184" stop-color="#0afa48"/><stop offset="0.224" stop-color="#0afa76"/><stop offset="0.265" stop-color="#0afa94"/><stop offset="0.306" stop-color="#0afaa1"/><stop offset="0.388" stop-color="#0afa9f"/><stop offset="0.571" stop-color="#0afa7c"/><stop offset="0.694" stop-color="#0afa6e"/><stop offset="0.816" stop-color="#0afa4f"/><stop offset="0.918" stop-color="#0bfa2e"/><stop offset="0.98" stop-color="#0bfa23"/><stop offset="1" stop-color="#0bfa22"/></linearGradient>
<linearGradient id="a45"><stop offset="0" stop-color="#adfa0a"/><stop offset="0.061" stop-color="#4ffa0a"/><stop offset="0.102" stop-color="#1cfa0c"/><stop offset="0.122" stop-color="#0cfa11"/><stop offset="0.184" stop-color="#0afa45"/><stop offset="0.224" stop-color="#0afa6d"/><stop offset="0.265" stop-color="#0afa87"/><stop offset="0.306" stop-color="#0afa94"/><stop offset="0.388" stop-color="#0afa94"/><stop offset="0.551" stop-color="#0afa81"/><stop offset="0.673" stop-color="#0afa7d"/><stop offset="0.816" stop-color="#0afa5f"/><stop offset="0.939" stop-color="#0afa38"/><stop offset="1" stop-color="#0bfa30"/></linearGradient>
<clipPath id="cxa"><rect x="0" y="0" width="1134.5" height="1947"/></clipPath>
<linearGradient id="c0"><stop offset="0" stop-color="#0a67fa"/><stop offset="0.02" stop-color="#0a92fa"/><stop offset="0.061" stop-color="#0afafa"/><stop offset="0.102" stop-color="#0afa86"/><stop offset="0.122" stop-color="#0afa52"/><stop offset="0.143" stop-color="#0bfa31"/><stop offset="0.163" stop-color="#0bfa20"/><stop offset="0.184" stop-color="#0bfa1d"/><stop offset="0.204" stop-color="#0bfa25"/><stop offset="0.224" stop-color="#0afa37"/><stop offset="0.245" stop-color="#0afa56"/><stop offset="0.286" stop-color="#0afaae"/><stop offset="0.306" stop-color="#0afae0"/><stop offset="0.327" stop-color="#0ae6fa"/><stop offset="0.347" stop-color="#0ac0fa"/><stop offset="0.367" stop-color="#0aa2fa"/><stop offset="0.388" stop-color="#0a8ffa"/><stop offset="0.408" stop-color="#0a84fa"/><stop offset="0.449" stop-color="#0a80fa"/><stop offset="0.51" stop-color="#0a91fa"/><stop offset="0.592" stop-color="#0ab1fa"/><stop offset="0.633" stop-color="#0ab2fa"/><stop offset="0.776" stop-color="#0a8ffa"/><stop offset="0.816" stop-color="#0a77fa"/><stop offset="0.857" stop-color="#0a4afa"/><stop offset="0.898" stop-color="#0c16fa"/><stop offset="0.918" stop-color="#1b0cfa"/><stop offset="0.959" stop-color="#460afa"/><stop offset="1" stop-color="#630afa"/></linearGradient>
<linearGradient id="c1"><stop offset="0" stop-color="#0a63fa"/><stop offset="0.02" stop-color="#0a8ffa"/><stop offset="0.061" stop-color="#0afafa"/><stop offset="0.102" stop-color="#0afa81"/><stop offset="0.122" stop-color="#0afa4a"/><stop offset="0.143" stop-color="#0bfa29"/><stop offset="0.163" stop-color="#0cfa17"/><stop offset="0.184" stop-color="#0cfa15"/><stop offset="0.204" stop-color="#0bfa1e"/><stop offset="0.224" stop-color="#0bfa32"/><stop offset="0.245" stop-color="#0afa52"/><stop offset="0.286" stop-color="#0afab2"/><stop offset="0.306" stop-color="#0afae7"/><stop offset="0.327" stop-color="#0adcfa"/><stop offset="0.347" stop-color="#0ab1fa"/><stop offset="0.367" stop-color="#0a90fa"/><stop offset="0.388" stop-color="#0a7cfa"/><stop offset="0.408" stop-color="#0a71fa"/><stop offset="0.449" stop-color="#0a6cfa"/><stop offset="0.49" stop-color="#0a75fa"/><stop offset="0.592" stop-color="#0aa5fa"/><stop offset="0.633" stop-color="#0aa7fa"/><stop offset="0.776" stop-color="#0a8bfa"/><stop offset="0.816" stop-color="#0a75fa"/><stop offset="0.857" stop-color="#0a47fa"/><stop offset="0.898" stop-color="#0c13fa"/><stop offset="0.918" stop-color="#1f0bfa"/><stop offset="0.959" stop-color="#480afa"/><stop offset="1" stop-color="#640afa"/></linearGradient>
<linearGradient id="c2"><stop offset="0" stop-color="#0a60fa"/><stop offset="0.02" stop-color="#0a8dfa"/><stop offset="0.061" stop-color="#0af9fa"/><stop offset="0.102" stop-color="#0afa7f"/><stop offset="0.122" stop-color="#0afa47"/><stop offset="0.143" stop-color="#0bfa25"/><stop offset="0.163" stop-color="#0cfa13"/><stop offset="0.184" stop-color="#0cfa10"/><stop offset="0.204" stop-color="#0bfa1b"/><stop offset="0.224" stop-color="#0bfa30"/><stop offset="0.245" stop-color="#0afa52"/><stop offset="0.286" stop-color="#0afab7"/><stop offset="0.306" stop-color="#0afaef"/><stop offset="0.327" stop-color="#0ad3fa"/><stop offset="0.347" stop-color="#0aa5fa"/><stop offset="0.367" stop-color="#0a81fa"/><stop offset="0.388" stop-color="#0a6bfa"/><stop offset="0.408" stop-color="#0a5ffa"/><stop offset="0.449" stop-color="#0a57fa"/><stop offset="0.49" stop-color="#0a60fa"/><stop offset="0.592" stop-color="#0a95fa"/><stop offset="0.633" stop-color="#0a9afa"/><stop offset="0.776" stop-color="#0a86fa"/><stop offset="0.796" stop-color="#0a7efa"/><stop offset="0.816" stop-color="#0a70fa"/><stop offset="0.857" stop-color="#0a43fa"/><stop offset="0.898" stop-color="#0c0ffa"/><stop offset="0.959" stop-color="#480afa"/><stop offset="1" stop-color="#630afa"/></linearGradient>
<linearGradient id="c3"><stop offset="0" stop-color="#0a5ffa"/><stop offset="0.02" stop-color="#0a8afa"/><stop offset="0.061" stop-color="#0af7fa"/><stop offset="0.102" stop-color="#0afa7f"/><stop offset="0.122" stop-color="#0afa45"/><stop offset="0.143" stop-color="#0bfa23"/><stop offset="0.163" stop-color="#0cfa11"/><stop offset="0.184" stop-color="#0cfa0f"/><stop offset="0.204" stop-color="#0bfa1a"/><stop offset="0.224" stop-color="#0bfa30"/><stop offset="0.245" stop-color="#0afa54"/><stop offset="0.286" stop-color="#0afabd"/><stop offset="0.306" stop-color="#0afaf7"/><stop offset="0.347" stop-color="#0a98fa"/><stop offset="0.367" stop-color="#0a73fa"/><stop offset="0.388" stop-color="#0a5cfa"/><stop offset="0.408" stop-color="#0a4dfa"/><stop offset="0.429" stop-color="#0a46fa"/><stop offset="0.469" stop-color="#0a44fa"/><stop offset="0.51" stop-color="#0a53fa"/><stop offset="0.571" stop-color="#0a79fa"/><stop offset="0.612" stop-color="#0a88fa"/><stop offset="0.673" stop-color="#0a89fa"/><stop offset="0.776" stop-color="#0a7efa"/><stop offset="0.796" stop-color="#0a77fa"/><stop offset="0.816" stop-color="#0a6afa"/><stop offset="0.857" stop-color="#0a3ffa"/><stop offset="0.898" stop-color="#0c0dfa"/><stop offset="0.939" stop-color="#370bfa"/><stop offset="0.98" stop-color="#560afa"/><stop offset="1" stop-color="#620afa"/></linearGradient>
<linearGradient id="c4"><stop offset="0" stop-color="#0a5dfa"/><stop offset="0.02" stop-color="#0a88fa"/><stop offset="0.061" stop-color="#0af5fa"/><stop offset="0.082" stop-color="#0afabf"/><stop offset="0.102" stop-color="#0afa7f"/><stop offset="0.122" stop-color="#0afa45"/><stop offset="0.143" stop-color="#0bfa22"/><stop offset="0.163" stop-color="#0cfa10"/><stop offset="0.184" stop-color="#0cfa0e"/><stop offset="0.204" stop-color="#0bfa1a"/><stop offset="0.224" stop-color="#0bfa31"/><stop offset="0.245" stop-color="#0afa57"/><stop offset="0.286" stop-color="#0afac3"/><stop offset="0.306" stop-color="#0af5fa"/><stop offset="0.347" stop-color="#0a8bfa"/><stop offset="0.367" stop-color="#0a66fa"/><stop offset="0.388" stop-color="#0a4dfa"/><stop offset="0.408" stop-color="#0a3efa"/><stop offset="0.429" stop-color="#0b35fa"/><stop offset="0.469" stop-color="#0b31fa"/><stop offset="0.51" stop-color="#0a3efa"/><stop offset="0.592" stop-color="#0a70fa"/><stop offset="0.633" stop-color="#0a79fa"/><stop offset="0.755" stop-color="#0a78fa"/><stop offset="0.796" stop-color="#0a6efa"/><stop offset="0.816" stop-color="#0a62fa"/><stop offset="0.857" stop-color="#0a3afa"/><stop offset="0.898" stop-color="#0d0cfa"/><stop offset="0.939" stop-color="#360bfa"/><stop offset="1" stop-color="#600afa"/></linearGradient>
<linearGradient id="c5"><stop offset="0" stop-color="#0a5cfa"/><stop offset="0.02" stop-color="#0a87fa"/><stop offset="0.061" stop-color="#0af5fa"/><stop offset="0.082" stop-color="#0afac0"/><stop offset="0.102" stop-color="#0afa80"/><stop offset="0.122" stop-color="#0afa45"/><stop offset="0.143" stop-color="#0bfa23"/><stop offset="0.163" stop-color="#0cfa11"/><stop offset="0.184" stop-color="#0cfa0e"/><stop offset="0.204" stop-color="#0bfa1a"/><stop offset="0.224" stop-color="#0bfa32"/><stop offset="0.245" stop-color="#0afa59"/><stop offset="0.265" stop-color="#0afa8f"/><stop offset="0.286" stop-color="#0afaca"/><stop offset="0.306" stop-color="#0aedfa"/><stop offset="0.347" stop-color="#0a7ffa"/><stop offset="0.367" stop-color="#0a59fa"/><stop offset="0.388" stop-color="#0a40fa"/><stop offset="0.408" stop-color="#0b2ffa"/><stop offset="0.429" stop-color="#0b25fa"/><stop offset="0.469" stop-color="#0b20fa"/><stop offset="0.51" stop-color="#0b2cfa"/><stop offset="0.592" stop-color="#0a5cfa"/><stop offset="0.653" stop-color="#0a6bfa"/><stop offset="0.755" stop-color="#0a6cfa"/><stop offset="0.796" stop-color="#0a64fa"/><stop offset="0.816" stop-color="#0a5afa"/><stop offset="0.857" stop-color="#0b35fa"/><stop offset="0.898" stop-color="#0f0cfa"/><stop offset="0.939" stop-color="#360bfa"/><stop offset="1" stop-color="#5e0afa"/></linearGradient>
<linearGradient id="c6"><stop offset="0" stop-color="#0a5efa"/><stop offset="0.02" stop-color="#0a87fa"/><stop offset="0.061" stop-color="#0af5fa"/><stop offset="0.082" stop-color="#0afabf"/><stop offset="0.102" stop-color="#0afa7e"/><stop offset="0.122" stop-color="#0afa44"/><stop offset="0.143" stop-color="#0bfa22"/><stop offset="0.163" stop-color="#0cfa10"/><stop offset="0.184" stop-color="#0cfa0f"/><stop offset="0.204" stop-color="#0bfa1b"/><stop offset="0.224" stop-color="#0bfa33"/><stop offset="0.245" stop-color="#0afa5b"/><stop offset="0.265" stop-color="#0afa92"/><stop offset="0.286" stop-color="#0afacf"/><stop offset="0.306" stop-color="#0ae6fa"/><stop offset="0.327" stop-color="#0aaafa"/><stop offset="0.347" stop-color="#0a75fa"/><stop offset="0.367" stop-color="#0a4efa"/><stop offset="0.388" stop-color="#0b34fa"/><stop offset="0.408" stop-color="#0b23fa"/><stop offset="0.429" stop-color="#0c18fa"/><stop offset="0.469" stop-color="#0c12fa"/><stop offset="0.51" stop-color="#0b1dfa"/><stop offset="0.592" stop-color="#0a4afa"/><stop offset="0.653" stop-color="#0a5afa"/><stop offset="0.776" stop-color="#0a5ffa"/><stop offset="0.816" stop-color="#0a52fa"/><stop offset="0.857" stop-color="#0b30fa"/><stop offset="0.878" stop-color="#0b1bfa"/><stop offset="0.898" stop-color="#130cfa"/><stop offset="0.939" stop-color="#370bfa"/><stop offset="1" stop-color="#5c0afa"/></linearGradient>
<linearGradient id="c7"><stop offset="0" stop-color="#0a64fa"/><stop offset="0.02" stop-color="#0a8cfa"/><stop offset="0.061" stop-color="#0af9fa"/><stop offset="0.102" stop-color="#0afa7a"/><stop offset="0.122" stop-color="#0afa41"/><stop offset="0.143" stop-color="#0bfa21"/><stop offset="0.163" stop-color="#0cfa10"/><stop offset="0.184" stop-color="#0cfa0f"/><stop offset="0.204" stop-color="#0bfa1b"/><stop offset="0.224" stop-color="#0afa34"/><stop offset="0.245" stop-color="#0afa5d"/><stop offset="0.265" stop-color="#0afa95"/><stop offset="0.286" stop-color="#0afad4"/><stop offset="0.306" stop-color="#0ae1fa"/><stop offset="0.327" stop-color="#0aa3fa"/><stop offset="0.347" stop-color="#0a6cfa"/><stop offset="0.367" stop-color="#0a45fa"/><stop offset="0.388" stop-color="#0b2bfa"/><stop offset="0.408" stop-color="#0c19fa"/><stop offset="0.429" stop-color="#0c0efa"/><stop offset="0.469" stop-color="#110cfa"/><stop offset="0.51" stop-color="#0c10fa"/><stop offset="0.592" stop-color="#0a39fa"/><stop offset="0.653" stop-color="#0a4afa"/><stop offset="0.776" stop-color="#0a53fa"/><stop offset="0.816" stop-color="#0a49fa"/><stop offset="0.857" stop-color="#0b2afa"/><stop offset="0.878" stop-color="#0c16fa"/><stop offset="0.898" stop-color="#160cfa"/><stop offset="0.939" stop-color="#390bfa"/><stop offset="1" stop-color="#5c0afa"/></linearGradient>
<linearGradient id="c8"><stop offset="0" stop-color="#0a6efa"/><stop offset="0.02" stop-color="#0a96fa"/><stop offset="0.041" stop-color="#0acafa"/><stop offset="0.061" stop-color="#0afaf3"/><stop offset="0.102" stop-color="#0afa72"/><stop offset="0.122" stop-color="#0afa3d"/><stop offset="0.143" stop-color="#0bfa1e"/><stop offset="0.163" stop-color="#0cfa0f"/><stop offset="0.184" stop-color="#0cfa0e"/><stop offset="0.204" stop-color="#0bfa1b"/><stop offset="0.224" stop-color="#0afa34"/><stop offset="0.245" stop-color="#0afa5e"/><stop offset="0.265" stop-color="#0afa97"/><stop offset="0.286" stop-color="#0afad6"/><stop offset="0.306" stop-color="#0addfa"/><stop offset="0.327" stop-color="#0a9efa"/><stop offset="0.347" stop-color="#0a67fa"/><stop offset="0.367" stop-color="#0a3ffa"/><stop offset="0.388" stop-color="#0b24fa"/><stop offset="0.408" stop-color="#0c12fa"/><stop offset="0.429" stop-color="#120cfa"/><stop offset="0.469" stop-color="#1a0cfa"/><stop offset="0.531" stop-color="#0c0ffa"/><stop offset="0.612" stop-color="#0b31fa"/><stop offset="0.735" stop-color="#0a45fa"/><stop offset="0.796" stop-color="#0a45fa"/><stop offset="0.816" stop-color="#0a3ffa"/><stop offset="0.857" stop-color="#0b24fa"/><stop offset="0.878" stop-color="#0c11fa"/><stop offset="0.898" stop-color="#1a0cfa"/><stop offset="0.939" stop-color="#3c0afa"/><stop offset="1" stop-color="#5e0afa"/></linearGradient>
<linearGradient id="c9"><stop offset="0" stop-color="#0a7efa"/><stop offset="0.02" stop-color="#0aa6fa"/><stop offset="0.041" stop-color="#0ad7fa"/><stop offset="0.061" stop-color="#0afae5"/><stop offset="0.102" stop-color="#0afa66"/><stop offset="0.122" stop-color="#0afa35"/><stop offset="0.143" stop-color="#0bfa1a"/><stop offset="0.163" stop-color="#0cfa0d"/><stop offset="0.184" stop-color="#0cfa0e"/><stop offset="0.204" stop-color="#0bfa1b"/><stop offset="0.224" stop-color="#0afa34"/><stop offset="0.245" stop-color="#0afa5e"/><stop offset="0.265" stop-color="#0afa97"/><stop offset="0.286" stop-color="#0afad8"/><stop offset="0.306" stop-color="#0adbfa"/><stop offset="0.327" stop-color="#0a99fa"/><stop offset="0.347" stop-color="#0a62fa"/><stop offset="0.367" stop-color="#0a3afa"/><stop offset="0.388" stop-color="#0b1ffa"/><stop offset="0.408" stop-color="#0c0cfa"/><stop offset="0.429" stop-color="#180cfa"/><stop offset="0.469" stop-color="#200bfa"/><stop offset="0.51" stop-color="#180cfa"/><stop offset="0.551" stop-color="#0c10fa"/><stop offset="0.633" stop-color="#0b29fa"/><stop offset="0.776" stop-color="#0a3dfa"/><stop offset="0.816" stop-color="#0b36fa"/><stop offset="0.857" stop-color="#0b1dfa"/><stop offset="0.878" stop-color="#0d0cfa"/><stop offset="0.939" stop-color="#410afa"/><stop offset="1" stop-color="#600afa"/></linearGradient>
<linearGradient id="c10"><stop offset="0" stop-color="#0a97fa"/><stop offset="0.041" stop-color="#0aecfa"/><stop offset="0.061" stop-color="#0aface"/><stop offset="0.102" stop-color="#0afa55"/><stop offset="0.122" stop-color="#0bfa2c"/><stop offset="0.143" stop-color="#0cfa15"/><stop offset="0.163" stop-color="#0dfa0c"/><stop offset="0.184" stop-color="#0cfa0d"/><stop offset="0.204" stop-color="#0bfa1b"/><stop offset="0.224" stop-color="#0afa34"/><stop offset="0.245" stop-color="#0afa5e"/><stop offset="0.265" stop-color="#0afa98"/><stop offset="0.286" stop-color="#0afada"/><stop offset="0.306" stop-color="#0ad8fa"/><stop offset="0.327" stop-color="#0a96fa"/><stop offset="0.347" stop-color="#0a5efa"/><stop offset="0.367" stop-color="#0b36fa"/><stop offset="0.388" stop-color="#0b1bfa"/><stop offset="0.408" stop-color="#0f0cfa"/><stop offset="0.429" stop-color="#1b0cfa"/><stop offset="0.449" stop-color="#220bfa"/><stop offset="0.49" stop-color="#210bfa"/><stop offset="0.551" stop-color="#0e0cfa"/><stop offset="0.653" stop-color="#0b23fa"/><stop offset="0.776" stop-color="#0b33fa"/><stop offset="0.816" stop-color="#0b2dfa"/><stop offset="0.857" stop-color="#0c15fa"/><stop offset="0.878" stop-color="#140cfa"/><stop offset="0.939" stop-color="#460afa"/><stop offset="1" stop-color="#630afa"/></linearGradient>
<linearGradient id="c11"><stop offset="0" stop-color="#0abafa"/><stop offset="0.02" stop-color="#0adefa"/><stop offset="0.041" stop-color="#0afae8"/><stop offset="0.082" stop-color="#0afa76"/><stop offset="0.102" stop-color="#0afa42"/><stop offset="0.122" stop-color="#0bfa22"/><stop offset="0.143" stop-color="#0cfa10"/><stop offset="0.163" stop-color="#10fa0c"/><stop offset="0.184" stop-color="#0cfa0c"/><stop offset="0.204" stop-color="#0bfa1b"/><stop offset="0.224" stop-color="#0afa34"/><stop offset="0.245" stop-color="#0afa5f"/><stop offset="0.265" stop-color="#0afa9a"/><stop offset="0.286" stop-color="#0afadc"/><stop offset="0.306" stop-color="#0ad5fa"/><stop offset="0.327" stop-color="#0a92fa"/><stop offset="0.347" stop-color="#0a5bfa"/><stop offset="0.367" stop-color="#0b34fa"/><stop offset="0.388" stop-color="#0c19fa"/><stop offset="0.408" stop-color="#100cfa"/><stop offset="0.429" stop-color="#1c0bfa"/><stop offset="0.449" stop-color="#230bfa"/><stop offset="0.49" stop-color="#210bfa"/><stop offset="0.571" stop-color="#0c0ffa"/><stop offset="0.653" stop-color="#0b1efa"/><stop offset="0.776" stop-color="#0b29fa"/><stop offset="0.816" stop-color="#0b23fa"/><stop offset="0.857" stop-color="#0c0cfa"/><stop offset="0.918" stop-color="#3e0afa"/><stop offset="0.959" stop-color="#560afa"/><stop offset="1" stop-color="#670afa"/></linearGradient>
<linearGradient id="c12"><stop offset="0" stop-color="#0ae4fa"/><stop offset="0.02" stop-color="#0afaec"/><stop offset="0.061" stop-color="#0afa8b"/><stop offset="0.082" stop-color="#0afa58"/><stop offset="0.102" stop-color="#0bfa31"/><stop offset="0.122" stop-color="#0cfa18"/><stop offset="0.143" stop-color="#0efa0c"/><stop offset="0.163" stop-color="#13fa0c"/><stop offset="0.184" stop-color="#0cfa0c"/><stop offset="0.204" stop-color="#0bfa1b"/><stop offset="0.224" stop-color="#0afa36"/><stop offset="0.245" stop-color="#0afa61"/><stop offset="0.265" stop-color="#0afa9c"/><stop offset="0.286" stop-color="#0afadf"/><stop offset="0.306" stop-color="#0ad2fa"/><stop offset="0.327" stop-color="#0a8efa"/><stop offset="0.347" stop-color="#0a58fa"/><stop offset="0.367" stop-color="#0b32fa"/><stop offset="0.388" stop-color="#0c18fa"/><stop offset="0.408" stop-color="#100cfa"/><stop offset="0.429" stop-color="#1c0cfa"/><stop offset="0.469" stop-color="#220bfa"/><stop offset="0.551" stop-color="#0c0cfa"/><stop offset="0.633" stop-color="#0b1dfa"/><stop offset="0.776" stop-color="#0b21fa"/><stop offset="0.816" stop-color="#0c19fa"/><stop offset="0.837" stop-color="#0c10fa"/><stop offset="0.857" stop-color="#160cfa"/><stop offset="0.918" stop-color="#450afa"/><stop offset="0.98" stop-color="#630afa"/><stop offset="1" stop-color="#6a0afa"/></linearGradient>
<linearGradient id="c13"><stop offset="0" stop-color="#0afadd"/><stop offset="0.041" stop-color="#0afa8f"/><stop offset="0.082" stop-color="#0afa3c"/><stop offset="0.102" stop-color="#0bfa22"/><stop offset="0.122" stop-color="#0cfa0f"/><stop offset="0.143" stop-color="#14fa0c"/><stop offset="0.163" stop-color="#15fa0c"/><stop offset="0.184" stop-color="#0cfa0c"/><stop offset="0.204" stop-color="#0bfa1d"/><stop offset="0.224" stop-color="#0afa38"/><stop offset="0.245" stop-color="#0afa65"/><stop offset="0.265" stop-color="#0afaa0"/><stop offset="0.286" stop-color="#0afae4"/><stop offset="0.306" stop-color="#0acefa"/><stop offset="0.327" stop-color="#0a8afa"/><stop offset="0.347" stop-color="#0a56fa"/><stop offset="0.367" stop-color="#0b31fa"/><stop offset="0.388" stop-color="#0c18fa"/><stop offset="0.408" stop-color="#0f0cfa"/><stop offset="0.429" stop-color="#190cfa"/><stop offset="0.469" stop-color="#1d0bfa"/><stop offset="0.531" stop-color="#0c0cfa"/><stop offset="0.612" stop-color="#0b20fa"/><stop offset="0.694" stop-color="#0b22fa"/><stop offset="0.796" stop-color="#0c17fa"/><stop offset="0.816" stop-color="#0c10fa"/><stop offset="0.837" stop-color="#120cfa"/><stop offset="0.918" stop-color="#4c0afa"/><stop offset="0.98" stop-color="#680afa"/><stop offset="1" stop-color="#6e0afa"/></linearGradient>
<linearGradient id="c14"><stop offset="0" stop-color="#0afaad"/><stop offset="0.061" stop-color="#0afa40"/><stop offset="0.082" stop-color="#0bfa28"/><stop offset="0.102" stop-color="#0cfa15"/><stop offset="0.122" stop-color="#12fa0c"/><stop offset="0.143" stop-color="#19fa0c"/><stop offset="0.163" stop-color="#17fa0c"/><stop offset="0.184" stop-color="#0cfa0d"/><stop offset="0.204" stop-color="#0bfa1f"/><stop offset="0.224" stop-color="#0afa3b"/><stop offset="0.245" stop-color="#0afa6a"/><stop offset="0.265" stop-color="#0afaa6"/><stop offset="0.286" stop-color="#0afae9"/><stop offset="0.306" stop-color="#0acafa"/><stop offset="0.327" stop-color="#0a87fa"/><stop offset="0.347" stop-color="#0a54fa"/><stop offset="0.367" stop-color="#0b31fa"/><stop offset="0.388" stop-color="#0c19fa"/><stop offset="0.408" stop-color="#0d0cfa"/><stop offset="0.429" stop-color="#160cfa"/><stop offset="0.469" stop-color="#170cfa"/><stop offset="0.51" stop-color="#0c0dfa"/><stop offset="0.592" stop-color="#0b26fa"/><stop offset="0.653" stop-color="#0b2bfa"/><stop offset="0.776" stop-color="#0c16fa"/><stop offset="0.816" stop-color="#100cfa"/><stop offset="0.918" stop-color="#520afa"/><stop offset="0.98" stop-color="#6c0afa"/><stop offset="1" stop-color="#710afa"/></linearGradient>
<linearGradient id="c15"><stop offset="0" stop-color="#0afa84"/><stop offset="0.041" stop-color="#0afa41"/><stop offset="0.082" stop-color="#0cfa18"/><stop offset="0.102" stop-color="#0efa0c"/><stop offset="0.122" stop-color="#19fa0c"/><stop offset="0.143" stop-color="#1dfa0c"/><stop offset="0.163" stop-color="#17fa0c"/><stop offset="0.184" stop-color="#0cfa0f"/><stop offset="0.204" stop-color="#0bfa22"/><stop offset="0.224" stop-color="#0afa40"/><stop offset="0.245" stop-color="#0afa72"/><stop offset="0.265" stop-color="#0afaad"/><stop offset="0.286" stop-color="#0afaf0"/><stop offset="0.306" stop-color="#0ac6fa"/><stop offset="0.327" stop-color="#0a85fa"/><stop offset="0.347" stop-color="#0a54fa"/><stop offset="0.367" stop-color="#0b32fa"/><stop offset="0.388" stop-color="#0b1bfa"/><stop offset="0.408" stop-color="#0c0efa"/><stop offset="0.449" stop-color="#130cfa"/><stop offset="0.49" stop-color="#0c0efa"/><stop offset="0.571" stop-color="#0b2efa"/><stop offset="0.633" stop-color="#0b35fa"/><stop offset="0.694" stop-color="#0b2bfa"/><stop offset="0.796" stop-color="#0f0cfa"/><stop offset="0.857" stop-color="#310bfa"/><stop offset="0.918" stop-color="#570afa"/><stop offset="0.98" stop-color="#6f0afa"/><stop offset="1" stop-color="#750afa"/></linearGradient>
<linearGradient id="c16"><stop offset="0" stop-color="#0afa60"/><stop offset="0.02" stop-color="#0afa41"/><stop offset="0.061" stop-color="#0bfa1a"/><stop offset="0.082" stop-color="#0cfa0d"/><stop offset="0.122" stop-color="#1ffa0b"/><stop offset="0.143" stop-color="#1efa0b"/><stop offset="0.163" stop-color="#16fa0c"/><stop offset="0.184" stop-color="#0cfa11"/><stop offset="0.204" stop-color="#0bfa26"/><stop offset="0.224" stop-color="#0afa46"/><stop offset="0.245" stop-color="#0afa7a"/><stop offset="0.265" stop-color="#0afab5"/><stop offset="0.286" stop-color="#0afaf7"/><stop offset="0.327" stop-color="#0a81fa"/><stop offset="0.347" stop-color="#0a53fa"/><stop offset="0.367" stop-color="#0b32fa"/><stop offset="0.388" stop-color="#0b1dfa"/><stop offset="0.408" stop-color="#0c11fa"/><stop offset="0.449" stop-color="#0d0cfa"/><stop offset="0.49" stop-color="#0c14fa"/><stop offset="0.571" stop-color="#0a3afa"/><stop offset="0.612" stop-color="#0a41fa"/><stop offset="0.673" stop-color="#0b37fa"/><stop offset="0.776" stop-color="#0c0dfa"/><stop offset="0.857" stop-color="#380bfa"/><stop offset="0.939" stop-color="#650afa"/><stop offset="1" stop-color="#770afa"/></linearGradient>
<linearGradient id="c17"><stop offset="0" stop-color="#0afa42"/><stop offset="0.041" stop-color="#0bfa1b"/><stop offset="0.061" stop-color="#0cfa0e"/><stop offset="0.102" stop-color="#1efa0c"/><stop offset="0.122" stop-color="#22fa0b"/><stop offset="0.143" stop-color="#1ffa0b"/><stop offset="0.163" stop-color="#14fa0c"/><stop offset="0.184" stop-color="#0cfa14"/><stop offset="0.204" stop-color="#0bfa2a"/><stop offset="0.224" stop-color="#0afa4e"/><stop offset="0.245" stop-color="#0afa82"/><stop offset="0.265" stop-color="#0afabd"/><stop offset="0.286" stop-color="#0af5fa"/><stop offset="0.327" stop-color="#0a7cfa"/><stop offset="0.347" stop-color="#0a50fa"/><stop offset="0.367" stop-color="#0b32fa"/><stop offset="0.388" stop-color="#0b1ffa"/><stop offset="0.408" stop-color="#0c14fa"/><stop offset="0.429" stop-color="#0c0ffa"/><stop offset="0.469" stop-color="#0c13fa"/><stop offset="0.51" stop-color="#0b25fa"/><stop offset="0.571" stop-color="#0a46fa"/><stop offset="0.612" stop-color="#0a4dfa"/><stop offset="0.653" stop-color="#0a46fa"/><stop offset="0.714" stop-color="#0b2afa"/><stop offset="0.755" stop-color="#0c13fa"/><stop offset="0.776" stop-color="#100cfa"/><stop offset="0.918" stop-color="#620afa"/><stop offset="0.98" stop-color="#760afa"/><stop offset="1" stop-color="#7a0afa"/></linearGradient>
<linearGradient id="c18"><stop offset="0" stop-color="#0bfa30"/><stop offset="0.041" stop-color="#0cfa0f"/><stop offset="0.082" stop-color="#1efa0c"/><stop offset="0.122" stop-color="#24fa0b"/><stop offset="0.143" stop-color="#1efa0b"/><stop offset="0.163" stop-color="#11fa0c"/><stop offset="0.184" stop-color="#0cfa18"/><stop offset="0.204" stop-color="#0bfa30"/><stop offset="0.224" stop-color="#0afa57"/><stop offset="0.245" stop-color="#0afa8d"/><stop offset="0.265" stop-color="#0afac9"/><stop offset="0.286" stop-color="#0aebfa"/><stop offset="0.327" stop-color="#0a77fa"/><stop offset="0.347" stop-color="#0a4efa"/><stop offset="0.367" stop-color="#0b32fa"/><stop offset="0.388" stop-color="#0b20fa"/><stop offset="0.408" stop-color="#0c16fa"/><stop offset="0.449" stop-color="#0c12fa"/><stop offset="0.49" stop-color="#0b20fa"/><stop offset="0.571" stop-color="#0a50fa"/><stop offset="0.612" stop-color="#0a57fa"/><stop offset="0.653" stop-color="#0a4dfa"/><stop offset="0.714" stop-color="#0b2afa"/><stop offset="0.755" stop-color="#0c0ffa"/><stop offset="0.837" stop-color="#3c0afa"/><stop offset="0.918" stop-color="#680afa"/><stop offset="0.98" stop-color="#7b0afa"/><stop offset="1" stop-color="#7d0afa"/></linearGradient>
<linearGradient id="c19"><stop offset="0" stop-color="#0bfa21"/><stop offset="0.02" stop-color="#0cfa11"/><stop offset="0.041" stop-color="#14fa0c"/><stop offset="0.082" stop-color="#24fa0b"/><stop offset="0.122" stop-color="#24fa0b"/><stop offset="0.143" stop-color="#1cfa0c"/><stop offset="0.163" stop-color="#0dfa0c"/><stop offset="0.184" stop-color="#0bfa1d"/><stop offset="0.204" stop-color="#0afa37"/><stop offset="0.224" stop-color="#0afa62"/><stop offset="0.245" stop-color="#0afa99"/><stop offset="0.265" stop-color="#0afad6"/><stop offset="0.286" stop-color="#0ae0fa"/><stop offset="0.306" stop-color="#0aa6fa"/><stop offset="0.327" stop-color="#0a72fa"/><stop offset="0.347" stop-color="#0a4bfa"/><stop offset="0.367" stop-color="#0b31fa"/><stop offset="0.388" stop-color="#0b20fa"/><stop offset="0.408" stop-color="#0c17fa"/><stop offset="0.449" stop-color="#0c14fa"/><stop offset="0.49" stop-color="#0b23fa"/><stop offset="0.571" stop-color="#0a58fa"/><stop offset="0.592" stop-color="#0a5efa"/><stop offset="0.612" stop-color="#0a5ffa"/><stop offset="0.653" stop-color="#0a51fa"/><stop offset="0.755" stop-color="#0e0cfa"/><stop offset="0.837" stop-color="#460afa"/><stop offset="0.918" stop-color="#6f0afa"/><stop offset="0.98" stop-color="#7f0afa"/><stop offset="1" stop-color="#800afa"/></linearGradient>
<linearGradient id="c20"><stop offset="0" stop-color="#0cfa16"/><stop offset="0.02" stop-color="#11fa0c"/><stop offset="0.041" stop-color="#1dfa0c"/><stop offset="0.082" stop-color="#27fa0b"/><stop offset="0.122" stop-color="#22fa0b"/><stop offset="0.163" stop-color="#0cfa10"/><stop offset="0.184" stop-color="#0bfa24"/><stop offset="0.204" stop-color="#0afa3f"/><stop offset="0.224" stop-color="#0afa6e"/><stop offset="0.245" stop-color="#0afaa6"/><stop offset="0.265" stop-color="#0afae5"/><stop offset="0.286" stop-color="#0ad4fa"/><stop offset="0.306" stop-color="#0a9afa"/><stop offset="0.327" stop-color="#0a6bfa"/><stop offset="0.347" stop-color="#0a48fa"/><stop offset="0.367" stop-color="#0b2ffa"/><stop offset="0.388" stop-color="#0b20fa"/><stop offset="0.408" stop-color="#0c17fa"/><stop offset="0.449" stop-color="#0c15fa"/><stop offset="0.49" stop-color="#0b24fa"/><stop offset="0.571" stop-color="#0a5efa"/><stop offset="0.592" stop-color="#0a64fa"/><stop offset="0.612" stop-color="#0a65fa"/><stop offset="0.653" stop-color="#0a54fa"/><stop offset="0.735" stop-color="#0c14fa"/><stop offset="0.755" stop-color="#150cfa"/><stop offset="0.816" stop-color="#440afa"/><stop offset="0.898" stop-color="#6f0afa"/><stop offset="0.959" stop-color="#810afa"/><stop offset="1" stop-color="#820afa"/></linearGradient>
<linearGradient id="c21"><stop offset="0" stop-color="#0cfa0d"/><stop offset="0.041" stop-color="#24fa0b"/><stop offset="0.082" stop-color="#28fa0b"/><stop offset="0.122" stop-color="#1efa0c"/><stop offset="0.143" stop-color="#11fa0c"/><stop offset="0.163" stop-color="#0cfa18"/><stop offset="0.184" stop-color="#0bfa2d"/><stop offset="0.204" stop-color="#0afa4d"/><stop offset="0.224" stop-color="#0afa7e"/><stop offset="0.245" stop-color="#0afab5"/><stop offset="0.265" stop-color="#0afaf4"/><stop offset="0.286" stop-color="#0ac8fa"/><stop offset="0.306" stop-color="#0a90fa"/><stop offset="0.327" stop-color="#0a65fa"/><stop offset="0.347" stop-color="#0a44fa"/><stop offset="0.367" stop-color="#0b2dfa"/><stop offset="0.388" stop-color="#0b1ffa"/><stop offset="0.429" stop-color="#0c13fa"/><stop offset="0.469" stop-color="#0b1bfa"/><stop offset="0.51" stop-color="#0b33fa"/><stop offset="0.551" stop-color="#0a55fa"/><stop offset="0.571" stop-color="#0a62fa"/><stop offset="0.592" stop-color="#0a68fa"/><stop offset="0.612" stop-color="#0a68fa"/><stop offset="0.633" stop-color="#0a61fa"/><stop offset="0.673" stop-color="#0a45fa"/><stop offset="0.735" stop-color="#0c0dfa"/><stop offset="0.796" stop-color="#410afa"/><stop offset="0.857" stop-color="#660afa"/><stop offset="0.939" stop-color="#830afa"/><stop offset="0.98" stop-color="#850afa"/><stop offset="1" stop-color="#820afa"/></linearGradient>
<linearGradient id="c22"><stop offset="0" stop-color="#14fa0c"/><stop offset="0.02" stop-color="#21fa0b"/><stop offset="0.041" stop-color="#29fa0b"/><stop offset="0.082" stop-color="#29fa0b"/><stop offset="0.122" stop-color="#17fa0c"/><stop offset="0.143" stop-color="#0cfa10"/><stop offset="0.163" stop-color="#0bfa22"/><stop offset="0.184" stop-color="#0afa3a"/><stop offset="0.204" stop-color="#0afa61"/><stop offset="0.224" stop-color="#0afa91"/><stop offset="0.245" stop-color="#0afac8"/><stop offset="0.265" stop-color="#0af2fa"/><stop offset="0.306" stop-color="#0a88fa"/><stop offset="0.327" stop-color="#0a60fa"/><stop offset="0.347" stop-color="#0a41fa"/><stop offset="0.367" stop-color="#0b2cfa"/><stop offset="0.388" stop-color="#0b1dfa"/><stop offset="0.408" stop-color="#0c15fa"/><stop offset="0.449" stop-color="#0c14fa"/><stop offset="0.49" stop-color="#0b25fa"/><stop offset="0.551" stop-color="#0a56fa"/><stop offset="0.571" stop-color="#0a63fa"/><stop offset="0.592" stop-color="#0a6afa"/><stop offset="0.612" stop-color="#0a69fa"/><stop offset="0.633" stop-color="#0a61fa"/><stop offset="0.673" stop-color="#0a42fa"/><stop offset="0.714" stop-color="#0c1afa"/><stop offset="0.735" stop-color="#140cfa"/><stop offset="0.796" stop-color="#4e0afa"/><stop offset="0.857" stop-color="#700afa"/><stop offset="0.939" stop-color="#870afa"/><stop offset="0.98" stop-color="#860afa"/><stop offset="1" stop-color="#810afa"/></linearGradient>
<linearGradient id="c23"><stop offset="0" stop-color="#1bfa0c"/><stop offset="0.02" stop-color="#26fa0b"/><stop offset="0.041" stop-color="#2cfa0b"/><stop offset="0.061" stop-color="#2cfa0b"/><stop offset="0.102" stop-color="#1dfa0c"/><stop offset="0.122" stop-color="#0ffa0c"/><stop offset="0.143" stop-color="#0bfa19"/><stop offset="0.163" stop-color="#0bfa2e"/><stop offset="0.184" stop-color="#0afa4b"/><stop offset="0.204" stop-color="#0afa75"/><stop offset="0.224" stop-color="#0afaa6"/><stop offset="0.245" stop-color="#0afadb"/><stop offset="0.265" stop-color="#0ae3fa"/><stop offset="0.306" stop-color="#0a80fa"/><stop offset="0.327" stop-color="#0a5cfa"/><stop offset="0.347" stop-color="#0a3ffa"/><stop offset="0.367" stop-color="#0b2bfa"/><stop offset="0.388" stop-color="#0b1cfa"/><stop offset="0.408" stop-color="#0c14fa"/><stop offset="0.449" stop-color="#0c13fa"/><stop offset="0.49" stop-color="#0b25fa"/><stop offset="0.551" stop-color="#0a59fa"/><stop offset="0.571" stop-color="#0a66fa"/><stop offset="0.592" stop-color="#0a6cfa"/><stop offset="0.612" stop-color="#0a6afa"/><stop offset="0.633" stop-color="#0a62fa"/><stop offset="0.673" stop-color="#0a40fa"/><stop offset="0.714" stop-color="#0c15fa"/><stop offset="0.735" stop-color="#1b0cfa"/><stop offset="0.776" stop-color="#470afa"/><stop offset="0.816" stop-color="#650afa"/><stop offset="0.878" stop-color="#7b0afa"/><stop offset="0.939" stop-color="#860afa"/><stop offset="0.98" stop-color="#820afa"/><stop offset="1" stop-color="#7b0afa"/></linearGradient>
<linearGradient id="c24"><stop offset="0" stop-color="#1ffa0b"/><stop offset="0.02" stop-color="#28fa0b"/><stop offset="0.041" stop-color="#2cfa0b"/><stop offset="0.061" stop-color="#2afa0b"/><stop offset="0.082" stop-color="#23fa0b"/><stop offset="0.102" stop-color="#16fa0c"/><stop offset="0.122" stop-color="#0cfa12"/><stop offset="0.143" stop-color="#0bfa24"/><stop offset="0.163" stop-color="#0afa3b"/><stop offset="0.184" stop-color="#0afa5d"/><stop offset="0.224" stop-color="#0afab9"/><stop offset="0.245" stop-color="#0afaee"/><stop offset="0.265" stop-color="#0ad5fa"/><stop offset="0.286" stop-color="#0aa4fa"/><stop offset="0.306" stop-color="#0a7afa"/><stop offset="0.327" stop-color="#0a59fa"/><stop offset="0.347" stop-color="#0a3ffa"/><stop offset="0.367" stop-color="#0b2cfa"/><stop offset="0.388" stop-color="#0b1efa"/><stop offset="0.408" stop-color="#0c15fa"/><stop offset="0.429" stop-color="#0c12fa"/><stop offset="0.469" stop-color="#0b1cfa"/><stop offset="0.51" stop-color="#0a38fa"/><stop offset="0.551" stop-color="#0a5efa"/><stop offset="0.571" stop-color="#0a6cfa"/><stop offset="0.592" stop-color="#0a72fa"/><stop offset="0.612" stop-color="#0a70fa"/><stop offset="0.633" stop-color="#0a66fa"/><stop offset="0.673" stop-color="#0a43fa"/><stop offset="0.714" stop-color="#0c14fa"/><stop offset="0.735" stop-color="#1d0bfa"/><stop offset="0.776" stop-color="#4b0afa"/><stop offset="0.816" stop-color="#660afa"/><stop offset="0.878" stop-color="#760afa"/><stop offset="0.939" stop-color="#7d0afa"/><stop offset="0.98" stop-color="#770afa"/><stop offset="1" stop-color="#6e0afa"/></linearGradient>
<linearGradient id="c25"><stop offset="0" stop-color="#20fa0b"/><stop offset="0.02" stop-color="#28fa0b"/><stop offset="0.041" stop-color="#2afa0b"/><stop offset="0.061" stop-color="#26fa0b"/><stop offset="0.082" stop-color="#1cfa0c"/><stop offset="0.102" stop-color="#0dfa0c"/><stop offset="0.122" stop-color="#0bfa1b"/><stop offset="0.143" stop-color="#0bfa2f"/><stop offset="0.163" stop-color="#0afa4a"/><stop offset="0.184" stop-color="#0afa70"/><stop offset="0.224" stop-color="#0afacc"/><stop offset="0.245" stop-color="#0af5fa"/><stop offset="0.286" stop-color="#0a9bfa"/><stop offset="0.306" stop-color="#0a76fa"/><stop offset="0.347" stop-color="#0a42fa"/><stop offset="0.388" stop-color="#0b21fa"/><stop offset="0.408" stop-color="#0c19fa"/><stop offset="0.429" stop-color="#0c17fa"/><stop offset="0.449" stop-color="#0c1afa"/><stop offset="0.49" stop-color="#0b2ffa"/><stop offset="0.551" stop-color="#0a68fa"/><stop offset="0.571" stop-color="#0a76fa"/><stop offset="0.592" stop-color="#0a7cfa"/><stop offset="0.612" stop-color="#0a7afa"/><stop offset="0.633" stop-color="#0a70fa"/><stop offset="0.673" stop-color="#0a4cfa"/><stop offset="0.714" stop-color="#0b1bfa"/><stop offset="0.735" stop-color="#170cfa"/><stop offset="0.776" stop-color="#430afa"/><stop offset="0.796" stop-color="#520afa"/><stop offset="0.837" stop-color="#610afa"/><stop offset="0.939" stop-color="#690afa"/><stop offset="0.98" stop-color="#620afa"/><stop offset="1" stop-color="#570afa"/></linearGradient>
<linearGradient id="c26"><stop offset="0" stop-color="#1ffa0b"/><stop offset="0.02" stop-color="#25fa0b"/><stop offset="0.041" stop-color="#25fa0b"/><stop offset="0.061" stop-color="#1ffa0b"/><stop offset="0.082" stop-color="#12fa0c"/><stop offset="0.102" stop-color="#0cfa15"/><stop offset="0.143" stop-color="#0afa3c"/><stop offset="0.163" stop-color="#0afa5c"/><stop offset="0.204" stop-color="#0afab0"/><stop offset="0.224" stop-color="#0afae0"/><stop offset="0.245" stop-color="#0ae6fa"/><stop offset="0.286" stop-color="#0a94fa"/><stop offset="0.306" stop-color="#0a75fa"/><stop offset="0.347" stop-color="#0a48fa"/><stop offset="0.388" stop-color="#0b29fa"/><stop offset="0.408" stop-color="#0b21fa"/><stop offset="0.429" stop-color="#0b20fa"/><stop offset="0.449" stop-color="#0b24fa"/><stop offset="0.49" stop-color="#0a3dfa"/><stop offset="0.551" stop-color="#0a79fa"/><stop offset="0.571" stop-color="#0a87fa"/><stop offset="0.592" stop-color="#0a8ffa"/><stop offset="0.612" stop-color="#0a8dfa"/><stop offset="0.633" stop-color="#0a84fa"/><stop offset="0.653" stop-color="#0a74fa"/><stop offset="0.694" stop-color="#0a47fa"/><stop offset="0.735" stop-color="#0c13fa"/><stop offset="0.755" stop-color="#1c0bfa"/><stop offset="0.776" stop-color="#2e0bfa"/><stop offset="0.796" stop-color="#3b0bfa"/><stop offset="0.837" stop-color="#450afa"/><stop offset="0.959" stop-color="#450afa"/><stop offset="0.98" stop-color="#3f0afa"/><stop offset="1" stop-color="#330bfa"/></linearGradient>
<linearGradient id="c27"><stop offset="0" stop-color="#1afa0c"/><stop offset="0.02" stop-color="#1ffa0b"/><stop offset="0.041" stop-color="#1dfa0c"/><stop offset="0.061" stop-color="#14fa0c"/><stop offset="0.082" stop-color="#0cfa12"/><stop offset="0.122" stop-color="#0afa36"/><stop offset="0.143" stop-color="#0afa52"/><stop offset="0.184" stop-color="#0afa9d"/><stop offset="0.224" stop-color="#0afaf7"/><stop offset="0.265" stop-color="#0aaffa"/><stop offset="0.286" stop-color="#0a8ffa"/><stop offset="0.306" stop-color="#0a76fa"/><stop offset="0.367" stop-color="#0a41fa"/><stop offset="0.388" stop-color="#0b35fa"/><stop offset="0.408" stop-color="#0b2ffa"/><stop offset="0.429" stop-color="#0b30fa"/><stop offset="0.449" stop-color="#0b37fa"/><stop offset="0.469" stop-color="#0a43fa"/><stop offset="0.51" stop-color="#0a6bfa"/><stop offset="0.551" stop-color="#0a98fa"/><stop offset="0.571" stop-color="#0aa7fa"/><stop offset="0.592" stop-color="#0aaffa"/><stop offset="0.612" stop-color="#0aaffa"/><stop offset="0.633" stop-color="#0aa7fa"/><stop offset="0.653" stop-color="#0a97fa"/><stop offset="0.694" stop-color="#0a69fa"/><stop offset="0.735" stop-color="#0b34fa"/><stop offset="0.755" stop-color="#0b20fa"/><stop offset="0.776" stop-color="#0c11fa"/><stop offset="0.796" stop-color="#100cfa"/><stop offset="0.837" stop-color="#160cfa"/><stop offset="0.98" stop-color="#0c0dfa"/><stop offset="1" stop-color="#0c18fa"/></linearGradient>
<linearGradient id="c28"><stop offset="0" stop-color="#12fa0c"/><stop offset="0.02" stop-color="#14fa0c"/><stop offset="0.041" stop-color="#0ffa0c"/><stop offset="0.061" stop-color="#0cfa13"/><stop offset="0.082" stop-color="#0bfa22"/><stop offset="0.102" stop-color="#0afa35"/><stop offset="0.122" stop-color="#0afa50"/><stop offset="0.163" stop-color="#0afa96"/><stop offset="0.204" stop-color="#0afae8"/><stop offset="0.224" stop-color="#0ae4fa"/><stop offset="0.265" stop-color="#0aa2fa"/><stop offset="0.286" stop-color="#0a8afa"/><stop offset="0.327" stop-color="#0a6afa"/><stop offset="0.367" stop-color="#0a4ffa"/><stop offset="0.388" stop-color="#0a46fa"/><stop offset="0.408" stop-color="#0a44fa"/><stop offset="0.429" stop-color="#0a48fa"/><stop offset="0.449" stop-color="#0a52fa"/><stop offset="0.469" stop-color="#0a63fa"/><stop offset="0.51" stop-color="#0a95fa"/><stop offset="0.531" stop-color="#0ab1fa"/><stop offset="0.551" stop-color="#0ac7fa"/><stop offset="0.571" stop-color="#0ad5fa"/><stop offset="0.592" stop-color="#0addfa"/><stop offset="0.612" stop-color="#0adefa"/><stop offset="0.633" stop-color="#0ad9fa"/><stop offset="0.653" stop-color="#0accfa"/><stop offset="0.673" stop-color="#0ab9fa"/><stop offset="0.735" stop-color="#0a6cfa"/><stop offset="0.755" stop-color="#0a59fa"/><stop offset="0.776" stop-color="#0a4cfa"/><stop offset="0.816" stop-color="#0a42fa"/><stop offset="0.98" stop-color="#0a4efa"/><stop offset="1" stop-color="#0a58fa"/></linearGradient>
<linearGradient id="c29"><stop offset="0" stop-color="#0cfa11"/><stop offset="0.02" stop-color="#0cfa11"/><stop offset="0.041" stop-color="#0cfa19"/><stop offset="0.061" stop-color="#0bfa25"/><stop offset="0.082" stop-color="#0afa38"/><stop offset="0.102" stop-color="#0afa53"/><stop offset="0.163" stop-color="#0afac0"/><stop offset="0.184" stop-color="#0afae7"/><stop offset="0.204" stop-color="#0ae8fa"/><stop offset="0.245" stop-color="#0aadfa"/><stop offset="0.265" stop-color="#0a97fa"/><stop offset="0.306" stop-color="#0a7cfa"/><stop offset="0.367" stop-color="#0a61fa"/><stop offset="0.388" stop-color="#0a5dfa"/><stop offset="0.408" stop-color="#0a5ffa"/><stop offset="0.429" stop-color="#0a68fa"/><stop offset="0.449" stop-color="#0a78fa"/><stop offset="0.469" stop-color="#0a90fa"/><stop offset="0.51" stop-color="#0acefa"/><stop offset="0.531" stop-color="#0ae9fa"/><stop offset="0.551" stop-color="#0afaf5"/><stop offset="0.571" stop-color="#0afae3"/><stop offset="0.592" stop-color="#0afad8"/><stop offset="0.612" stop-color="#0afad4"/><stop offset="0.633" stop-color="#0afad8"/><stop offset="0.653" stop-color="#0afae4"/><stop offset="0.673" stop-color="#0afaf6"/><stop offset="0.694" stop-color="#0aebfa"/><stop offset="0.755" stop-color="#0ab1fa"/><stop offset="0.796" stop-color="#0a9efa"/><stop offset="0.837" stop-color="#0a9dfa"/><stop offset="0.939" stop-color="#0aa6fa"/><stop offset="0.98" stop-color="#0aa8fa"/><stop offset="1" stop-color="#0ab0fa"/></linearGradient>
<linearGradient id="c30"><stop offset="0" stop-color="#0bfa1f"/><stop offset="0.02" stop-color="#0bfa23"/><stop offset="0.041" stop-color="#0bfa2e"/><stop offset="0.061" stop-color="#0afa3f"/><stop offset="0.082" stop-color="#0afa5b"/><stop offset="0.122" stop-color="#0afaa3"/><stop offset="0.163" stop-color="#0afaf0"/><stop offset="0.184" stop-color="#0ae3fa"/><stop offset="0.224" stop-color="#0aaffa"/><stop offset="0.245" stop-color="#0a9bfa"/><stop offset="0.286" stop-color="#0a86fa"/><stop offset="0.367" stop-color="#0a76fa"/><stop offset="0.388" stop-color="#0a78fa"/><stop offset="0.408" stop-color="#0a81fa"/><stop offset="0.429" stop-color="#0a93fa"/><stop offset="0.449" stop-color="#0aacfa"/><stop offset="0.49" stop-color="#0aebfa"/><stop offset="0.51" stop-color="#0afae7"/><stop offset="0.531" stop-color="#0afac6"/><stop offset="0.551" stop-color="#0afaaa"/><stop offset="0.571" stop-color="#0afa94"/><stop offset="0.592" stop-color="#0afa86"/><stop offset="0.612" stop-color="#0afa80"/><stop offset="0.633" stop-color="#0afa81"/><stop offset="0.653" stop-color="#0afa8a"/><stop offset="0.694" stop-color="#0afaa9"/><stop offset="0.735" stop-color="#0aface"/><stop offset="0.776" stop-color="#0afae4"/><stop offset="0.816" stop-color="#0afaee"/><stop offset="0.98" stop-color="#0afae8"/><stop offset="1" stop-color="#0afae3"/></linearGradient>
<linearGradient id="c31"><stop offset="0" stop-color="#0afa34"/><stop offset="0.02" stop-color="#0afa3b"/><stop offset="0.041" stop-color="#0afa4d"/><stop offset="0.061" stop-color="#0afa68"/><stop offset="0.102" stop-color="#0afaae"/><stop offset="0.143" stop-color="#0af9fa"/><stop offset="0.163" stop-color="#0adbfa"/><stop offset="0.204" stop-color="#0aa9fa"/><stop offset="0.224" stop-color="#0a99fa"/><stop offset="0.265" stop-color="#0a89fa"/><stop offset="0.327" stop-color="#0a89fa"/><stop offset="0.367" stop-color="#0a91fa"/><stop offset="0.388" stop-color="#0a9cfa"/><stop offset="0.408" stop-color="#0aaefa"/><stop offset="0.449" stop-color="#0ae4fa"/><stop offset="0.469" stop-color="#0afaec"/><stop offset="0.51" stop-color="#0afa9a"/><stop offset="0.551" stop-color="#0afa53"/><stop offset="0.571" stop-color="#0afa3a"/><stop offset="0.592" stop-color="#0bfa2a"/><stop offset="0.612" stop-color="#0bfa21"/><stop offset="0.633" stop-color="#0bfa1f"/><stop offset="0.673" stop-color="#0bfa2b"/><stop offset="0.755" stop-color="#0afa5e"/><stop offset="0.816" stop-color="#0afa73"/><stop offset="0.959" stop-color="#0afa77"/><stop offset="1" stop-color="#0afa77"/></linearGradient>
<linearGradient id="c32"><stop offset="0" stop-color="#0afa55"/><stop offset="0.02" stop-color="#0afa62"/><stop offset="0.041" stop-color="#0afa7b"/><stop offset="0.082" stop-color="#0afabc"/><stop offset="0.102" stop-color="#0afae1"/><stop offset="0.122" stop-color="#0aeffa"/><stop offset="0.163" stop-color="#0ab7fa"/><stop offset="0.184" stop-color="#0aa3fa"/><stop offset="0.204" stop-color="#0a94fa"/><stop offset="0.245" stop-color="#0a88fa"/><stop offset="0.286" stop-color="#0a8bfa"/><stop offset="0.327" stop-color="#0a9afa"/><stop offset="0.367" stop-color="#0ab4fa"/><stop offset="0.408" stop-color="#0adefa"/><stop offset="0.429" stop-color="#0afaf9"/><stop offset="0.449" stop-color="#0afad3"/><stop offset="0.51" stop-color="#0afa4b"/><stop offset="0.531" stop-color="#0bfa26"/><stop offset="0.551" stop-color="#14fa0c"/><stop offset="0.571" stop-color="#39fa0b"/><stop offset="0.592" stop-color="#55fa0a"/><stop offset="0.612" stop-color="#67fa0a"/><stop offset="0.633" stop-color="#6ffa0a"/><stop offset="0.653" stop-color="#6ffa0a"/><stop offset="0.694" stop-color="#60fa0a"/><stop offset="0.776" stop-color="#35fa0b"/><stop offset="0.857" stop-color="#1afa0c"/><stop offset="0.98" stop-color="#0dfa0c"/><stop offset="1" stop-color="#0cfa10"/></linearGradient>
<linearGradient id="c33"><stop offset="0" stop-color="#0afa82"/><stop offset="0.02" stop-color="#0afa91"/><stop offset="0.041" stop-color="#0afaab"/><stop offset="0.082" stop-color="#0afaf0"/><stop offset="0.102" stop-color="#0ae4fa"/><stop offset="0.143" stop-color="#0aaffa"/><stop offset="0.163" stop-color="#0a9cfa"/><stop offset="0.184" stop-color="#0a8ffa"/><stop offset="0.224" stop-color="#0a85fa"/><stop offset="0.265" stop-color="#0a8afa"/><stop offset="0.306" stop-color="#0a9ffa"/><stop offset="0.347" stop-color="#0ac4fa"/><stop offset="0.388" stop-color="#0af1fa"/><stop offset="0.408" stop-color="#0afae3"/><stop offset="0.449" stop-color="#0afa96"/><stop offset="0.49" stop-color="#0afa37"/><stop offset="0.51" stop-color="#0cfa0e"/><stop offset="0.551" stop-color="#74fa0a"/><stop offset="0.571" stop-color="#a1fa0a"/><stop offset="0.592" stop-color="#b8fa0a"/><stop offset="0.612" stop-color="#c9fa0a"/><stop offset="0.633" stop-color="#d2fa0a"/><stop offset="0.694" stop-color="#d4fa0a"/><stop offset="0.898" stop-color="#9dfa0a"/><stop offset="0.98" stop-color="#8cfa0a"/><stop offset="1" stop-color="#81fa0a"/></linearGradient>
<linearGradient id="c34"><stop offset="0" stop-color="#0afab1"/><stop offset="0.02" stop-color="#0afac2"/><stop offset="0.061" stop-color="#0af7fa"/><stop offset="0.122" stop-color="#0aa9fa"/><stop offset="0.143" stop-color="#0a96fa"/><stop offset="0.163" stop-color="#0a8afa"/><stop offset="0.204" stop-color="#0a81fa"/><stop offset="0.245" stop-color="#0a88fa"/><stop offset="0.286" stop-color="#0a9efa"/><stop offset="0.327" stop-color="#0ac8fa"/><stop offset="0.367" stop-color="#0afaf8"/><stop offset="0.408" stop-color="#0afab3"/><stop offset="0.429" stop-color="#0afa8c"/><stop offset="0.469" stop-color="#0bfa32"/><stop offset="0.49" stop-color="#10fa0c"/><stop offset="0.531" stop-color="#87fa0a"/><stop offset="0.551" stop-color="#b7fa0a"/><stop offset="0.571" stop-color="#d9fa0a"/><stop offset="0.592" stop-color="#f2fa0c"/><stop offset="0.612" stop-color="#fcf00c"/><stop offset="0.633" stop-color="#fce10c"/><stop offset="0.673" stop-color="#fcd20c"/><stop offset="0.714" stop-color="#fcd10c"/><stop offset="0.796" stop-color="#fce70c"/><stop offset="0.837" stop-color="#fcfa0c"/><stop offset="0.918" stop-color="#e9fa0b"/><stop offset="0.98" stop-color="#ddfa0b"/><stop offset="1" stop-color="#d4fa0a"/></linearGradient>
<linearGradient id="c35"><stop offset="0" stop-color="#0afae1"/><stop offset="0.02" stop-color="#0afaf2"/><stop offset="0.041" stop-color="#0aebfa"/><stop offset="0.102" stop-color="#0aa4fa"/><stop offset="0.122" stop-color="#0a94fa"/><stop offset="0.163" stop-color="#0a82fa"/><stop offset="0.204" stop-color="#0a81fa"/><stop offset="0.245" stop-color="#0a90fa"/><stop offset="0.265" stop-color="#0a9dfa"/><stop offset="0.306" stop-color="#0ac7fa"/><stop offset="0.347" stop-color="#0afaf7"/><stop offset="0.408" stop-color="#0afa8c"/><stop offset="0.469" stop-color="#0cfa10"/><stop offset="0.49" stop-color="#3efa0b"/><stop offset="0.51" stop-color="#7afa0a"/><stop offset="0.531" stop-color="#b0fa0a"/><stop offset="0.551" stop-color="#d9fa0a"/><stop offset="0.571" stop-color="#fbfa0c"/><stop offset="0.592" stop-color="#fcd50c"/><stop offset="0.612" stop-color="#fcb70c"/><stop offset="0.633" stop-color="#fca10d"/><stop offset="0.653" stop-color="#fc910e"/><stop offset="0.694" stop-color="#fc800e"/><stop offset="0.735" stop-color="#fc800e"/><stop offset="0.796" stop-color="#fc910e"/><stop offset="0.878" stop-color="#fcbb0c"/><stop offset="0.98" stop-color="#fcdc0c"/><stop offset="1" stop-color="#fce90c"/></linearGradient>
<linearGradient id="c36"><stop offset="0" stop-color="#0ae9fa"/><stop offset="0.041" stop-color="#0ac9fa"/><stop offset="0.082" stop-color="#0aa2fa"/><stop offset="0.122" stop-color="#0a8afa"/><stop offset="0.163" stop-color="#0a82fa"/><stop offset="0.204" stop-color="#0a88fa"/><stop offset="0.245" stop-color="#0a9efa"/><stop offset="0.286" stop-color="#0ac6fa"/><stop offset="0.327" stop-color="#0afafa"/><stop offset="0.388" stop-color="#0afa93"/><stop offset="0.429" stop-color="#0afa44"/><stop offset="0.449" stop-color="#0bfa20"/><stop offset="0.469" stop-color="#24fa0b"/><stop offset="0.51" stop-color="#95fa0a"/><stop offset="0.531" stop-color="#c2fa0a"/><stop offset="0.551" stop-color="#e9fa0b"/><stop offset="0.571" stop-color="#fce40c"/><stop offset="0.592" stop-color="#fcba0c"/><stop offset="0.612" stop-color="#fc950e"/><stop offset="0.633" stop-color="#fc7b0e"/><stop offset="0.653" stop-color="#fc680e"/><stop offset="0.694" stop-color="#fc520e"/><stop offset="0.735" stop-color="#fc4c0e"/><stop offset="0.776" stop-color="#fc510e"/><stop offset="0.878" stop-color="#fc7c0e"/><stop offset="0.98" stop-color="#fca10d"/><stop offset="1" stop-color="#fcb00d"/></linearGradient>
<linearGradient id="c37"><stop offset="0" stop-color="#0ac6fa"/><stop offset="0.082" stop-color="#0a93fa"/><stop offset="0.122" stop-color="#0a88fa"/><stop offset="0.163" stop-color="#0a89fa"/><stop offset="0.204" stop-color="#0a97fa"/><stop offset="0.224" stop-color="#0aa3fa"/><stop offset="0.265" stop-color="#0ac9fa"/><stop offset="0.306" stop-color="#0af9fa"/><stop offset="0.388" stop-color="#0afa7b"/><stop offset="0.449" stop-color="#0cfa12"/><stop offset="0.469" stop-color="#34fa0b"/><stop offset="0.49" stop-color="#66fa0a"/><stop offset="0.51" stop-color="#9efa0a"/><stop offset="0.551" stop-color="#ecfa0b"/><stop offset="0.571" stop-color="#fce00c"/><stop offset="0.612" stop-color="#fc8b0e"/><stop offset="0.633" stop-color="#fc6e0e"/><stop offset="0.653" stop-color="#fc580e"/><stop offset="0.673" stop-color="#fc490e"/><stop offset="0.714" stop-color="#fc380e"/><stop offset="0.755" stop-color="#fc340e"/><stop offset="0.816" stop-color="#fc400e"/><stop offset="0.98" stop-color="#fc750e"/><stop offset="1" stop-color="#fc830e"/></linearGradient>
<linearGradient id="c38"><stop offset="0" stop-color="#0aa6fa"/><stop offset="0.082" stop-color="#0a8dfa"/><stop offset="0.122" stop-color="#0a8efa"/><stop offset="0.163" stop-color="#0a99fa"/><stop offset="0.204" stop-color="#0ab0fa"/><stop offset="0.265" stop-color="#0ae6fa"/><stop offset="0.286" stop-color="#0afaf7"/><stop offset="0.367" stop-color="#0afa86"/><stop offset="0.429" stop-color="#0bfa29"/><stop offset="0.449" stop-color="#0efa0c"/><stop offset="0.49" stop-color="#68fa0a"/><stop offset="0.51" stop-color="#9bfa0a"/><stop offset="0.551" stop-color="#e6fa0b"/><stop offset="0.571" stop-color="#fcea0c"/><stop offset="0.612" stop-color="#fc950e"/><stop offset="0.633" stop-color="#fc750e"/><stop offset="0.653" stop-color="#fc5d0e"/><stop offset="0.673" stop-color="#fc4a0e"/><stop offset="0.714" stop-color="#fc340e"/><stop offset="0.755" stop-color="#fc2b0e"/><stop offset="0.796" stop-color="#fc2c0e"/><stop offset="0.959" stop-color="#fc510e"/><stop offset="1" stop-color="#fc660e"/></linearGradient>
<linearGradient id="c39"><stop offset="0" stop-color="#0a8bfa"/><stop offset="0.082" stop-color="#0a8efa"/><stop offset="0.122" stop-color="#0a9bfa"/><stop offset="0.163" stop-color="#0ab2fa"/><stop offset="0.245" stop-color="#0af4fa"/><stop offset="0.265" stop-color="#0afaeb"/><stop offset="0.347" stop-color="#0afa8c"/><stop offset="0.429" stop-color="#0bfa22"/><stop offset="0.449" stop-color="#12fa0c"/><stop offset="0.49" stop-color="#61fa0a"/><stop offset="0.51" stop-color="#8ffa0a"/><stop offset="0.551" stop-color="#d9fa0a"/><stop offset="0.571" stop-color="#f8fa0c"/><stop offset="0.633" stop-color="#fc8b0e"/><stop offset="0.653" stop-color="#fc6f0e"/><stop offset="0.673" stop-color="#fc590e"/><stop offset="0.714" stop-color="#fc3c0e"/><stop offset="0.755" stop-color="#fc2d0e"/><stop offset="0.796" stop-color="#fc2a0e"/><stop offset="0.959" stop-color="#fc410e"/><stop offset="1" stop-color="#fc520e"/></linearGradient>
<linearGradient id="c40"><stop offset="0" stop-color="#0a74fa"/><stop offset="0.061" stop-color="#0a88fa"/><stop offset="0.102" stop-color="#0a9ffa"/><stop offset="0.204" stop-color="#0af7fa"/><stop offset="0.265" stop-color="#0afac4"/><stop offset="0.347" stop-color="#0afa76"/><stop offset="0.429" stop-color="#0bfa1e"/><stop offset="0.449" stop-color="#13fa0c"/><stop offset="0.49" stop-color="#58fa0a"/><stop offset="0.531" stop-color="#a8fa0a"/><stop offset="0.571" stop-color="#e5fa0b"/><stop offset="0.592" stop-color="#fcf30c"/><stop offset="0.633" stop-color="#fcab0d"/><stop offset="0.653" stop-color="#fc8b0e"/><stop offset="0.694" stop-color="#fc5c0e"/><stop offset="0.735" stop-color="#fc400e"/><stop offset="0.776" stop-color="#fc320e"/><stop offset="0.857" stop-color="#fc2f0e"/><stop offset="0.959" stop-color="#fc380e"/><stop offset="1" stop-color="#fc460e"/></linearGradient>
<linearGradient id="c41"><stop offset="0" stop-color="#0a60fa"/><stop offset="0.041" stop-color="#0a76fa"/><stop offset="0.082" stop-color="#0a98fa"/><stop offset="0.163" stop-color="#0af2fa"/><stop offset="0.184" stop-color="#0afaea"/><stop offset="0.245" stop-color="#0afaaf"/><stop offset="0.327" stop-color="#0afa74"/><stop offset="0.429" stop-color="#0bfa1a"/><stop offset="0.449" stop-color="#14fa0c"/><stop offset="0.49" stop-color="#4ffa0a"/><stop offset="0.531" stop-color="#95fa0a"/><stop offset="0.592" stop-color="#eafa0b"/><stop offset="0.612" stop-color="#fcef0c"/><stop offset="0.673" stop-color="#fc8f0e"/><stop offset="0.714" stop-color="#fc620e"/><stop offset="0.755" stop-color="#fc460e"/><stop offset="0.796" stop-color="#fc390e"/><stop offset="0.878" stop-color="#fc310e"/><stop offset="0.959" stop-color="#fc340e"/><stop offset="1" stop-color="#fc3e0e"/></linearGradient>
<linearGradient id="c42"><stop offset="0" stop-color="#0a4dfa"/><stop offset="0.041" stop-color="#0a6dfa"/><stop offset="0.061" stop-color="#0a83fa"/><stop offset="0.143" stop-color="#0af5fa"/><stop offset="0.184" stop-color="#0afac6"/><stop offset="0.224" stop-color="#0afa9d"/><stop offset="0.286" stop-color="#0afa76"/><stop offset="0.347" stop-color="#0afa53"/><stop offset="0.429" stop-color="#0cfa16"/><stop offset="0.449" stop-color="#16fa0c"/><stop offset="0.51" stop-color="#64fa0a"/><stop offset="0.551" stop-color="#a3fa0a"/><stop offset="0.612" stop-color="#edfa0b"/><stop offset="0.633" stop-color="#fced0c"/><stop offset="0.694" stop-color="#fc940e"/><stop offset="0.735" stop-color="#fc690e"/><stop offset="0.776" stop-color="#fc4d0e"/><stop offset="0.837" stop-color="#fc3a0e"/><stop offset="0.939" stop-color="#fc310e"/><stop offset="1" stop-color="#fc390e"/></linearGradient>
<linearGradient id="c43"><stop offset="0" stop-color="#0a3cfa"/><stop offset="0.02" stop-color="#0a4dfa"/><stop offset="0.061" stop-color="#0a80fa"/><stop offset="0.122" stop-color="#0aebfa"/><stop offset="0.143" stop-color="#0afae6"/><stop offset="0.163" stop-color="#0afac5"/><stop offset="0.184" stop-color="#0afaa9"/><stop offset="0.224" stop-color="#0afa82"/><stop offset="0.265" stop-color="#0afa69"/><stop offset="0.347" stop-color="#0afa45"/><stop offset="0.429" stop-color="#0cfa12"/><stop offset="0.449" stop-color="#18fa0c"/><stop offset="0.531" stop-color="#74fa0a"/><stop offset="0.592" stop-color="#c1fa0a"/><stop offset="0.633" stop-color="#f0fa0b"/><stop offset="0.653" stop-color="#fced0c"/><stop offset="0.714" stop-color="#fc980d"/><stop offset="0.755" stop-color="#fc6e0e"/><stop offset="0.796" stop-color="#fc530e"/><stop offset="0.857" stop-color="#fc3d0e"/><stop offset="0.939" stop-color="#fc330e"/><stop offset="1" stop-color="#fc360e"/></linearGradient>
<linearGradient id="c44"><stop offset="0" stop-color="#0b2ffa"/><stop offset="0.02" stop-color="#0a42fa"/><stop offset="0.041" stop-color="#0a5dfa"/><stop offset="0.061" stop-color="#0a7efa"/><stop offset="0.122" stop-color="#0afafa"/><stop offset="0.143" stop-color="#0afad2"/><stop offset="0.163" stop-color="#0afab0"/><stop offset="0.184" stop-color="#0afa95"/><stop offset="0.224" stop-color="#0afa6e"/><stop offset="0.265" stop-color="#0afa58"/><stop offset="0.367" stop-color="#0bfa32"/><stop offset="0.429" stop-color="#0cfa0e"/><stop offset="0.469" stop-color="#2efa0b"/><stop offset="0.551" stop-color="#7ffa0a"/><stop offset="0.612" stop-color="#c6fa0a"/><stop offset="0.653" stop-color="#f2fa0c"/><stop offset="0.673" stop-color="#fceb0c"/><stop offset="0.735" stop-color="#fc990d"/><stop offset="0.776" stop-color="#fc710e"/><stop offset="0.816" stop-color="#fc560e"/><stop offset="0.878" stop-color="#fc400e"/><stop offset="0.959" stop-color="#fc340e"/><stop offset="1" stop-color="#fc350e"/></linearGradient>
<linearGradient id="c45"><stop offset="0" stop-color="#0b27fa"/><stop offset="0.02" stop-color="#0a3cfa"/><stop offset="0.041" stop-color="#0a59fa"/><stop offset="0.061" stop-color="#0a7efa"/><stop offset="0.102" stop-color="#0ad9fa"/><stop offset="0.122" stop-color="#0afaef"/><stop offset="0.143" stop-color="#0afac6"/><stop offset="0.163" stop-color="#0afaa4"/><stop offset="0.184" stop-color="#0afa88"/><stop offset="0.224" stop-color="#0afa62"/><stop offset="0.265" stop-color="#0afa4c"/><stop offset="0.367" stop-color="#0bfa2c"/><stop offset="0.429" stop-color="#0dfa0c"/><stop offset="0.551" stop-color="#72fa0a"/><stop offset="0.612" stop-color="#b7fa0a"/><stop offset="0.673" stop-color="#f7fa0c"/><stop offset="0.694" stop-color="#fce50c"/><stop offset="0.755" stop-color="#fc980d"/><stop offset="0.796" stop-color="#fc710e"/><stop offset="0.837" stop-color="#fc570e"/><stop offset="0.898" stop-color="#fc410e"/><stop offset="0.98" stop-color="#fc350e"/><stop offset="1" stop-color="#fc350e"/></linearGradient>
</defs>
<rect width="2470" height="1947" fill="#fff"/>
<g shape-rendering="crispEdges">
<rect x="154.5" y="27" width="974" height="20.8" fill="url(#a0)"/>
<rect x="154.5" y="27" width="974" height="20.8" fill="url(#a1)" mask="url(#vm)"/>
<rect x="154.5" y="47.2" width="974" height="20.8" fill="url(#a1)"/>
<rect x="154.5" y="47.2" width="974" height="20.8" fill="url(#a2)" mask="url(#vm)"/>
<rect x="154.5" y="67.5" width="974" height="20.8" fill="url(#a2)"/>
<rect x="154.5" y="67.5" width="974" height="20.8" fill="url(#a3)" mask="url(#vm)"/>
<rect x="154.5" y="87.7" width="974" height="20.8" fill="url(#a3)"/>
<rect x="154.5" y="87.7" width="974" height="20.8" fill="url(#a4)" mask="url(#vm)"/>
<rect x="154.5" y="108" width="974" height="20.8" fill="url(#a4)"/>
<rect x="154.5" y="108" width="974" height="20.8" fill="url(#a5)" mask="url(#vm)"/>
<rect x="154.5" y="128.2" width="974" height="20.8" fill="url(#a5)"/>
<rect x="154.5" y="128.2" width="974" height="20.8" fill="url(#a6)" mask="url(#vm)"/>
<rect x="154.5" y="148.5" width="974" height="20.8" fill="url(#a6)"/>
<rect x="154.5" y="148.5" width="974" height="20.8" fill="url(#a7)" mask="url(#vm)"/>
<rect x="154.5" y="168.7" width="974" height="20.8" fill="url(#a7)"/>
<rect x="154.5" y="168.7" width="974" height="20.8" fill="url(#a8)" mask="url(#vm)"/>
<rect x="154.5" y="189" width="974" height="20.8" fill="url(#a8)"/>
<rect x="154.5" y="189" width="974" height="20.8" fill="url(#a9)" mask="url(#vm)"/>
<rect x="154.5" y="209.2" width="974" height="20.8" fill="url(#a9)"/>
<rect x="154.5" y="209.2" width="974" height="20.8" fill="url(#a10)" mask="url(#vm)"/>
<rect x="154.5" y="229.4" width="974" height="20.8" fill="url(#a10)"/>
<rect x="154.5" y="229.4" width="974" height="20.8" fill="url(#a11)" mask="url(#vm)"/>
<rect x="154.5" y="249.7" width="974" height="20.8" fill="url(#a11)"/>
<rect x="154.5" y="249.7" width="974" height="20.8" fill="url(#a12)" mask="url(#vm)"/>
<rect x="154.5" y="269.9" width="974" height="20.8" fill="url(#a12)"/>
<rect x="154.5" y="269.9" width="974" height="20.8" fill="url(#a13)" mask="url(#vm)"/>
<rect x="154.5" y="290.2" width="974" height="20.8" fill="url(#a13)"/>
<rect x="154.5" y="290.2" width="974" height="20.8" fill="url(#a14)" mask="url(#vm)"/>
<rect x="154.5" y="310.4" width="974" height="20.8" fill="url(#a14)"/>
<rect x="154.5" y="310.4" width="974" height="20.8" fill="url(#a15)" mask="url(#vm)"/>
<rect x="154.5" y="330.7" width="974" height="20.8" fill="url(#a15)"/>
<rect x="154.5" y="330.7" width="974" height="20.8" fill="url(#a16)" mask="url(#vm)"/>
<rect x="154.5" y="350.9" width="974" height="20.8" fill="url(#a16)"/>
<rect x="154.5" y="350.9" width="974" height="20.8" fill="url(#a17)" mask="url(#vm)"/>
<rect x="154.5" y="371.2" width="974" height="20.8" fill="url(#a17)"/>
<rect x="154.5" y="371.2" width="974" height="20.8" fill="url(#a18)" mask="url(#vm)"/>
<rect x="154.5" y="391.4" width="974" height="20.8" fill="url(#a18)"/>
<rect x="154.5" y="391.4" width="974" height="20.8" fill="url(#a19)" mask="url(#vm)"/>
<rect x="154.5" y="411.6" width="974" height="20.8" fill="url(#a19)"/>
<rect x="154.5" y="411.6" width="974" height="20.8" fill="url(#a20)" mask="url(#vm)"/>
<rect x="154.5" y="431.9" width="974" height="20.8" fill="url(#a20)"/>
<rect x="154.5" y="431.9" width="974" height="20.8" fill="url(#a21)" mask="url(#vm)"/>
<rect x="154.5" y="452.1" width="974" height="20.8" fill="url(#a21)"/>
<rect x="154.5" y="452.1" width="974" height="20.8" fill="url(#a22)" mask="url(#vm)"/>
<rect x="154.5" y="472.4" width="974" height="20.8" fill="url(#a22)"/>
<rect x="154.5" y="472.4" width="974" height="20.8" fill="url(#a23)" mask="url(#vm)"/>
<rect x="154.5" y="492.6" width="974" height="20.8" fill="url(#a23)"/>
<rect x="154.5" y="492.6" width="974" height="20.8" fill="url(#a24)" mask="url(#vm)"/>
<rect x="154.5" y="512.9" width="974" height="20.8" fill="url(#a24)"/>
<rect x="154.5" y="512.9" width="974" height="20.8" fill="url(#a25)" mask="url(#vm)"/>
<rect x="154.5" y="533.1" width="974" height="20.8" fill="url(#a25)"/>
<rect x="154.5" y="533.1" width="974" height="20.8" fill="url(#a26)" mask="url(#vm)"/>
<rect x="154.5" y="553.4" width="974" height="20.8" fill="url(#a26)"/>
<rect x="154.5" y="553.4" width="974" height="20.8" fill="url(#a27)" mask="url(#vm)"/>
<rect x="154.5" y="573.6" width="974" height="20.8" fill="url(#a27)"/>
<rect x="154.5" y="573.6" width="974" height="20.8" fill="url(#a28)" mask="url(#vm)"/>
<rect x="154.5" y="593.8" width="974" height="20.8" fill="url(#a28)"/>
<rect x="154.5" y="593.8" width="974" height="20.8" fill="url(#a29)" mask="url(#vm)"/>
<rect x="154.5" y="614.1" width="974" height="20.8" fill="url(#a29)"/>
<rect x="154.5" y="614.1" width="974" height="20.8" fill="url(#a30)" mask="url(#vm)"/>
<rect x="154.5" y="634.3" width="974" height="20.8" fill="url(#a30)"/>
<rect x="154.5" y="634.3" width="974" height="20.8" fill="url(#a31)" mask="url(#vm)"/>
<rect x="154.5" y="654.6" width="974" height="20.8" fill="url(#a31)"/>
<rect x="154.5" y="654.6" width="974" height="20.8" fill="url(#a32)" mask="url(#vm)"/>
<rect x="154.5" y="674.8" width="974" height="20.8" fill="url(#a32)"/>
<rect x="154.5" y="674.8" width="974" height="20.8" fill="url(#a33)" mask="url(#vm)"/>
<rect x="154.5" y="695.1" width="974" height="20.8" fill="url(#a33)"/>
<rect x="154.5" y="695.1" width="974" height="20.8" fill="url(#a34)" mask="url(#vm)"/>
<rect x="154.5" y="715.3" width="974" height="20.8" fill="url(#a34)"/>
<rect x="154.5" y="715.3" width="974" height="20.8" fill="url(#a35)" mask="url(#vm)"/>
<rect x="154.5" y="735.6" width="974" height="20.8" fill="url(#a35)"/>
<rect x="154.5" y="735.6" width="974" height="20.8" fill="url(#a36)" mask="url(#vm)"/>
<rect x="154.5" y="755.8" width="974" height="20.8" fill="url(#a36)"/>
<rect x="154.5" y="755.8" width="974" height="20.8" fill="url(#a37)" mask="url(#vm)"/>
<rect x="154.5" y="776" width="974" height="20.8" fill="url(#a37)"/>
<rect x="154.5" y="776" width="974" height="20.8" fill="url(#a38)" mask="url(#vm)"/>
<rect x="154.5" y="796.3" width="974" height="20.8" fill="url(#a38)"/>
<rect x="154.5" y="796.3" width="974" height="20.8" fill="url(#a39)" mask="url(#vm)"/>
<rect x="154.5" y="816.5" width="974" height="20.8" fill="url(#a39)"/>
<rect x="154.5" y="816.5" width="974" height="20.8" fill="url(#a40)" mask="url(#vm)"/>
<rect x="154.5" y="836.8" width="974" height="20.8" fill="url(#a40)"/>
<rect x="154.5" y="836.8" width="974" height="20.8" fill="url(#a41)" mask="url(#vm)"/>
<rect x="154.5" y="857" width="974" height="20.8" fill="url(#a41)"/>
<rect x="154.5" y="857" width="974" height="20.8" fill="url(#a42)" mask="url(#vm)"/>
<rect x="154.5" y="877.3" width="974" height="20.8" fill="url(#a42)"/>
<rect x="154.5" y="877.3" width="974" height="20.8" fill="url(#a43)" mask="url(#vm)"/>
<rect x="154.5" y="897.5" width="974" height="20.8" fill="url(#a43)"/>
<rect x="154.5" y="897.5" width="974" height="20.8" fill="url(#a44)" mask="url(#vm)"/>
<rect x="154.5" y="917.8" width="974" height="20.8" fill="url(#a44)"/>
<rect x="154.5" y="917.8" width="974" height="20.8" fill="url(#a45)" mask="url(#vm)"/>
</g>
<g stroke="#f3e4ff" stroke-width="3" fill="none">
<path d="M876.4 416v4.6M876.4 431.4v4.6M876.4 446.8v4.6M876.4 462.2v4.6M876.4 477.6v4.6M876.4 493v4.6M876.4 508.4v4.6M876.4 523.8v4.6M876.4 539.2v4.6M876.4 554.6v4.6M954.4 308.2v4.6M954.4 323.6v4.6M954.4 339v4.6M954.4 354.4v4.6M954.4 369.8v4.6M954.4 385.2v4.6M954.4 400.6v4.6M954.4 416v4.6M954.4 431.4v4.6M954.4 446.8v4.6M954.4 462.2v4.6M954.4 477.6v4.6M954.4 493v4.6M954.4 508.4v4.6M954.4 523.8v4.6M954.4 539.2v4.6M954.4 554.6v4.6M954.4 570v4.6M954.4 585.4v4.6M954.4 600.8v4.6M1032.4 246.6v4.6M1032.4 262v4.6M1032.4 277.4v4.6M1032.4 292.8v4.6M1032.4 308.2v4.6M1032.4 323.6v4.6M1032.4 339v4.6M1032.4 354.4v4.6M1032.4 369.8v4.6M1032.4 385.2v4.6M1032.4 400.6v4.6M1032.4 416v4.6M1032.4 431.4v4.6M1032.4 446.8v4.6M1032.4 462.2v4.6M1032.4 477.6v4.6M1032.4 493v4.6M1032.4 508.4v4.6M1032.4 523.8v4.6M1032.4 539.2v4.6M1032.4 554.6v4.6M1032.4 570v4.6M1032.4 585.4v4.6M1032.4 600.8v4.6M1032.4 616.2v4.6M1110.4 200.4v4.6M1110.4 215.8v4.6M1110.4 231.2v4.6M1110.4 246.6v4.6M1110.4 262v4.6M1110.4 277.4v4.6M1110.4 292.8v4.6M1110.4 308.2v4.6M1110.4 323.6v4.6M1110.4 339v4.6M1110.4 354.4v4.6M1110.4 369.8v4.6M1110.4 385.2v4.6M1110.4 400.6v4.6M1110.4 416v4.6M1110.4 431.4v4.6M1110.4 446.8v4.6M1110.4 462.2v4.6M1110.4 477.6v4.6M1110.4 493v4.6M1110.4 508.4v4.6M1110.4 523.8v4.6M1110.4 539.2v4.6M1110.4 554.6v4.6M1110.4 570v4.6M1110.4 585.4v4.6M1110.4 600.8v4.6M1110.4 616.2v4.6M1053.7 228.8h4.6M1069.1 228.8h4.6M1084.5 228.8h4.6M1099.9 228.8h4.6M1115.3 228.8h4.6M961.3 301.6h4.6M976.7 301.6h4.6M992.1 301.6h4.6M1007.5 301.6h4.6M1022.9 301.6h4.6M1038.3 301.6h4.6M1053.7 301.6h4.6M1069.1 301.6h4.6M1084.5 301.6h4.6M1099.9 301.6h4.6M1115.3 301.6h4.6M915.1 374.3h4.6M930.5 374.3h4.6M945.9 374.3h4.6M961.3 374.3h4.6M976.7 374.3h4.6M992.1 374.3h4.6M1007.5 374.3h4.6M1022.9 374.3h4.6M1038.3 374.3h4.6M1053.7 374.3h4.6M1069.1 374.3h4.6M1084.5 374.3h4.6M1099.9 374.3h4.6M1115.3 374.3h4.6M868.9 447.1h4.6M884.3 447.1h4.6M899.7 447.1h4.6M915.1 447.1h4.6M930.5 447.1h4.6M945.9 447.1h4.6M961.3 447.1h4.6M976.7 447.1h4.6M992.1 447.1h4.6M1007.5 447.1h4.6M1022.9 447.1h4.6M1038.3 447.1h4.6M1053.7 447.1h4.6M1069.1 447.1h4.6M1084.5 447.1h4.6M1099.9 447.1h4.6M1115.3 447.1h4.6M868.9 519.9h4.6M884.3 519.9h4.6M899.7 519.9h4.6M915.1 519.9h4.6M930.5 519.9h4.6M945.9 519.9h4.6M961.3 519.9h4.6M976.7 519.9h4.6M992.1 519.9h4.6M1007.5 519.9h4.6M1022.9 519.9h4.6M1038.3 519.9h4.6M1053.7 519.9h4.6M1069.1 519.9h4.6M1084.5 519.9h4.6M1099.9 519.9h4.6M1115.3 519.9h4.6M899.7 592.6h4.6M915.1 592.6h4.6M930.5 592.6h4.6M945.9 592.6h4.6M961.3 592.6h4.6M976.7 592.6h4.6M992.1 592.6h4.6M1007.5 592.6h4.6M1022.9 592.6h4.6M1038.3 592.6h4.6M1053.7 592.6h4.6M1069.1 592.6h4.6M1084.5 592.6h4.6M1099.9 592.6h4.6M1115.3 592.6h4.6" opacity="0.80"/>
<path d="M564.4 523.8v4.6M564.4 539.2v4.6M564.4 554.6v4.6M564.4 570v4.6M564.4 585.4v4.6M564.4 600.8v4.6M564.4 616.2v4.6M564.4 631.6v4.6M564.4 647v4.6M798.4 369.8v4.6M798.4 385.2v4.6M798.4 400.6v4.6M798.4 416v4.6M798.4 431.4v4.6M798.4 446.8v4.6M798.4 462.2v4.6M798.4 477.6v4.6M798.4 493v4.6M798.4 508.4v4.6M876.4 292.8v4.6M876.4 308.2v4.6M876.4 323.6v4.6M876.4 339v4.6M876.4 354.4v4.6M876.4 369.8v4.6M876.4 385.2v4.6M876.4 400.6v4.6M876.4 570v4.6M876.4 585.4v4.6M876.4 600.8v4.6M954.4 231.2v4.6M954.4 246.6v4.6M954.4 262v4.6M954.4 277.4v4.6M954.4 292.8v4.6M954.4 616.2v4.6M954.4 631.6v4.6M1032.4 185v4.6M1032.4 200.4v4.6M1032.4 215.8v4.6M1032.4 231.2v4.6M1032.4 631.6v4.6M1110.4 154.2v4.6M1110.4 169.6v4.6M1110.4 185v4.6M1110.4 631.6v4.6M1099.9 156.1h4.6M1115.3 156.1h4.6M961.3 228.8h4.6M976.7 228.8h4.6M992.1 228.8h4.6M1007.5 228.8h4.6M1022.9 228.8h4.6M1038.3 228.8h4.6M868.9 301.6h4.6M884.3 301.6h4.6M899.7 301.6h4.6M915.1 301.6h4.6M930.5 301.6h4.6M945.9 301.6h4.6M791.9 374.3h4.6M807.3 374.3h4.6M822.7 374.3h4.6M838.1 374.3h4.6M853.5 374.3h4.6M868.9 374.3h4.6M884.3 374.3h4.6M899.7 374.3h4.6M776.5 447.1h4.6M791.9 447.1h4.6M807.3 447.1h4.6M822.7 447.1h4.6M838.1 447.1h4.6M853.5 447.1h4.6M560.9 519.9h4.6M576.3 519.9h4.6M591.7 519.9h4.6M807.3 519.9h4.6M822.7 519.9h4.6M838.1 519.9h4.6M853.5 519.9h4.6M530.1 592.6h4.6M545.5 592.6h4.6M560.9 592.6h4.6M576.3 592.6h4.6M591.7 592.6h4.6M853.5 592.6h4.6M868.9 592.6h4.6M884.3 592.6h4.6M545.5 665.4h4.6" opacity="0.50"/>
<path d="M174.4 677.8v4.6M174.4 693.2v4.6M174.4 708.6v4.6M174.4 724v4.6M174.4 739.4v4.6M174.4 754.8v4.6M174.4 770.2v4.6M174.4 785.6v4.6M174.4 801v4.6M174.4 816.4v4.6M174.4 831.8v4.6M486.4 570v4.6M486.4 585.4v4.6M486.4 600.8v4.6M486.4 616.2v4.6M486.4 631.6v4.6M486.4 647v4.6M486.4 662.4v4.6M486.4 677.8v4.6M486.4 693.2v4.6M486.4 708.6v4.6M486.4 724v4.6M486.4 739.4v4.6M486.4 754.8v4.6M564.4 462.2v4.6M564.4 477.6v4.6M564.4 493v4.6M564.4 508.4v4.6M564.4 662.4v4.6M564.4 677.8v4.6M564.4 693.2v4.6M564.4 708.6v4.6M564.4 724v4.6M564.4 739.4v4.6M642.4 431.4v4.6M642.4 446.8v4.6M642.4 462.2v4.6M642.4 477.6v4.6M642.4 493v4.6M642.4 508.4v4.6M642.4 523.8v4.6M642.4 539.2v4.6M642.4 554.6v4.6M642.4 570v4.6M642.4 585.4v4.6M642.4 600.8v4.6M720.4 354.4v4.6M720.4 369.8v4.6M720.4 385.2v4.6M720.4 400.6v4.6M720.4 416v4.6M720.4 431.4v4.6M720.4 446.8v4.6M720.4 462.2v4.6M720.4 477.6v4.6M720.4 493v4.6M798.4 292.8v4.6M798.4 308.2v4.6M798.4 323.6v4.6M798.4 339v4.6M798.4 354.4v4.6M798.4 523.8v4.6M798.4 539.2v4.6M798.4 554.6v4.6M798.4 570v4.6M798.4 585.4v4.6M876.4 231.2v4.6M876.4 246.6v4.6M876.4 262v4.6M876.4 277.4v4.6M876.4 616.2v4.6M876.4 631.6v4.6M954.4 185v4.6M954.4 200.4v4.6M954.4 215.8v4.6M954.4 647v4.6M1032.4 154.2v4.6M1032.4 169.6v4.6M1032.4 647v4.6M1110.4 92.6v4.6M1110.4 108v4.6M1110.4 123.4v4.6M1110.4 138.8v4.6M1110.4 647v4.6M1115.3 83.3h4.6M1022.9 156.1h4.6M1038.3 156.1h4.6M1053.7 156.1h4.6M1069.1 156.1h4.6M1084.5 156.1h4.6M884.3 228.8h4.6M899.7 228.8h4.6M915.1 228.8h4.6M930.5 228.8h4.6M945.9 228.8h4.6M776.5 301.6h4.6M791.9 301.6h4.6M807.3 301.6h4.6M822.7 301.6h4.6M838.1 301.6h4.6M853.5 301.6h4.6M699.5 374.3h4.6M714.9 374.3h4.6M730.3 374.3h4.6M745.7 374.3h4.6M761.1 374.3h4.6M776.5 374.3h4.6M576.3 447.1h4.6M591.7 447.1h4.6M607.1 447.1h4.6M622.5 447.1h4.6M637.9 447.1h4.6M653.3 447.1h4.6M668.7 447.1h4.6M684.1 447.1h4.6M699.5 447.1h4.6M714.9 447.1h4.6M730.3 447.1h4.6M745.7 447.1h4.6M761.1 447.1h4.6M499.3 519.9h4.6M514.7 519.9h4.6M530.1 519.9h4.6M545.5 519.9h4.6M607.1 519.9h4.6M622.5 519.9h4.6M637.9 519.9h4.6M653.3 519.9h4.6M668.7 519.9h4.6M745.7 519.9h4.6M761.1 519.9h4.6M776.5 519.9h4.6M791.9 519.9h4.6M483.9 592.6h4.6M499.3 592.6h4.6M514.7 592.6h4.6M607.1 592.6h4.6M622.5 592.6h4.6M637.9 592.6h4.6M807.3 592.6h4.6M822.7 592.6h4.6M838.1 592.6h4.6M160.5 665.4h4.6M483.9 665.4h4.6M499.3 665.4h4.6M514.7 665.4h4.6M530.1 665.4h4.6M560.9 665.4h4.6M576.3 665.4h4.6M591.7 665.4h4.6M607.1 665.4h4.6M160.5 738.1h4.6M175.9 738.1h4.6M191.3 738.1h4.6M468.5 738.1h4.6M483.9 738.1h4.6M499.3 738.1h4.6M514.7 738.1h4.6M530.1 738.1h4.6M545.5 738.1h4.6M560.9 738.1h4.6M576.3 738.1h4.6M160.5 810.9h4.6M175.9 810.9h4.6M191.3 810.9h4.6" opacity="0.26"/>
<path d="M174.4 31v4.6M174.4 46.4v4.6M174.4 61.8v4.6M174.4 77.2v4.6M174.4 92.6v4.6M174.4 108v4.6M174.4 123.4v4.6M174.4 138.8v4.6M174.4 154.2v4.6M174.4 169.6v4.6M174.4 185v4.6M174.4 200.4v4.6M174.4 215.8v4.6M174.4 231.2v4.6M174.4 246.6v4.6M174.4 262v4.6M174.4 277.4v4.6M174.4 292.8v4.6M174.4 308.2v4.6M174.4 323.6v4.6M174.4 339v4.6M174.4 354.4v4.6M174.4 369.8v4.6M174.4 385.2v4.6M174.4 400.6v4.6M174.4 416v4.6M174.4 431.4v4.6M174.4 446.8v4.6M174.4 462.2v4.6M174.4 477.6v4.6M174.4 493v4.6M174.4 508.4v4.6M174.4 523.8v4.6M174.4 539.2v4.6M174.4 554.6v4.6M174.4 570v4.6M174.4 585.4v4.6M174.4 600.8v4.6M174.4 616.2v4.6M174.4 631.6v4.6M174.4 647v4.6M174.4 662.4v4.6M174.4 847.2v4.6M174.4 862.6v4.6M174.4 878v4.6M174.4 893.4v4.6M174.4 908.8v4.6M174.4 924.2v4.6M252.4 31v4.6M252.4 46.4v4.6M252.4 61.8v4.6M252.4 77.2v4.6M252.4 92.6v4.6M252.4 108v4.6M252.4 123.4v4.6M252.4 138.8v4.6M252.4 154.2v4.6M252.4 169.6v4.6M252.4 185v4.6M252.4 200.4v4.6M252.4 215.8v4.6M252.4 231.2v4.6M252.4 246.6v4.6M252.4 262v4.6M252.4 277.4v4.6M252.4 292.8v4.6M252.4 308.2v4.6M252.4 323.6v4.6M252.4 339v4.6M252.4 354.4v4.6M252.4 369.8v4.6M252.4 385.2v4.6M252.4 400.6v4.6M252.4 416v4.6M252.4 431.4v4.6M252.4 446.8v4.6M252.4 462.2v4.6M252.4 477.6v4.6M252.4 493v4.6M252.4 508.4v4.6M252.4 523.8v4.6M252.4 539.2v4.6M252.4 554.6v4.6M252.4 570v4.6M252.4 585.4v4.6M252.4 600.8v4.6M252.4 616.2v4.6M252.4 631.6v4.6M252.4 647v4.6M252.4 662.4v4.6M252.4 677.8v4.6M252.4 693.2v4.6M252.4 708.6v4.6M252.4 724v4.6M252.4 739.4v4.6M252.4 754.8v4.6M252.4 770.2v4.6M252.4 785.6v4.6M252.4 801v4.6M252.4 816.4v4.6M252.4 831.8v4.6M252.4 847.2v4.6M252.4 862.6v4.6M252.4 878v4.6M252.4 893.4v4.6M252.4 908.8v4.6M252.4 924.2v4.6M330.4 31v4.6M330.4 46.4v4.6M330.4 61.8v4.6M330.4 77.2v4.6M330.4 92.6v4.6M330.4 108v4.6M330.4 123.4v4.6M330.4 138.8v4.6M330.4 154.2v4.6M330.4 169.6v4.6M330.4 185v4.6M330.4 200.4v4.6M330.4 215.8v4.6M330.4 231.2v4.6M330.4 246.6v4.6M330.4 262v4.6M330.4 277.4v4.6M330.4 292.8v4.6M330.4 308.2v4.6M330.4 323.6v4.6M330.4 339v4.6M330.4 354.4v4.6M330.4 369.8v4.6M330.4 385.2v4.6M330.4 400.6v4.6M330.4 416v4.6M330.4 431.4v4.6M330.4 446.8v4.6M330.4 462.2v4.6M330.4 477.6v4.6M330.4 493v4.6M330.4 508.4v4.6M330.4 523.8v4.6M330.4 539.2v4.6M330.4 554.6v4.6M330.4 570v4.6M330.4 585.4v4.6M330.4 600.8v4.6M330.4 616.2v4.6M330.4 631.6v4.6M330.4 647v4.6M330.4 662.4v4.6M330.4 677.8v4.6M330.4 693.2v4.6M330.4 708.6v4.6M330.4 724v4.6M330.4 739.4v4.6M330.4 754.8v4.6M330.4 770.2v4.6M330.4 785.6v4.6M330.4 801v4.6M330.4 816.4v4.6M330.4 831.8v4.6M330.4 847.2v4.6M330.4 862.6v4.6M330.4 878v4.6M330.4 893.4v4.6M330.4 908.8v4.6M330.4 924.2v4.6M408.4 31v4.6M408.4 46.4v4.6M408.4 61.8v4.6M408.4 77.2v4.6M408.4 92.6v4.6M408.4 108v4.6M408.4 123.4v4.6M408.4 138.8v4.6M408.4 154.2v4.6M408.4 169.6v4.6M408.4 185v4.6M408.4 200.4v4.6M408.4 215.8v4.6M408.4 231.2v4.6M408.4 246.6v4.6M408.4 262v4.6M408.4 277.4v4.6M408.4 292.8v4.6M408.4 308.2v4.6M408.4 323.6v4.6M408.4 339v4.6M408.4 354.4v4.6M408.4 369.8v4.6M408.4 385.2v4.6M408.4 400.6v4.6M408.4 416v4.6M408.4 431.4v4.6M408.4 446.8v4.6M408.4 462.2v4.6M408.4 477.6v4.6M408.4 493v4.6M408.4 508.4v4.6M408.4 523.8v4.6M408.4 539.2v4.6M408.4 554.6v4.6M408.4 570v4.6M408.4 585.4v4.6M408.4 600.8v4.6M408.4 616.2v4.6M408.4 631.6v4.6M408.4 647v4.6M408.4 662.4v4.6M408.4 677.8v4.6M408.4 693.2v4.6M408.4 708.6v4.6M408.4 724v4.6M408.4 739.4v4.6M408.4 754.8v4.6M408.4 770.2v4.6M408.4 785.6v4.6M408.4 801v4.6M408.4 816.4v4.6M408.4 831.8v4.6M408.4 847.2v4.6M408.4 862.6v4.6M408.4 878v4.6M408.4 893.4v4.6M408.4 908.8v4.6M408.4 924.2v4.6M486.4 31v4.6M486.4 46.4v4.6M486.4 61.8v4.6M486.4 77.2v4.6M486.4 92.6v4.6M486.4 108v4.6M486.4 123.4v4.6M486.4 138.8v4.6M486.4 154.2v4.6M486.4 169.6v4.6M486.4 185v4.6M486.4 200.4v4.6M486.4 215.8v4.6M486.4 231.2v4.6M486.4 246.6v4.6M486.4 262v4.6M486.4 277.4v4.6M486.4 292.8v4.6M486.4 308.2v4.6M486.4 323.6v4.6M486.4 339v4.6M486.4 354.4v4.6M486.4 369.8v4.6M486.4 385.2v4.6M486.4 400.6v4.6M486.4 416v4.6M486.4 431.4v4.6M486.4 446.8v4.6M486.4 462.2v4.6M486.4 477.6v4.6M486.4 493v4.6M486.4 508.4v4.6M486.4 523.8v4.6M486.4 539.2v4.6M486.4 554.6v4.6M486.4 770.2v4.6M486.4 785.6v4.6M486.4 801v4.6M486.4 816.4v4.6M486.4 831.8v4.6M486.4 847.2v4.6M486.4 862.6v4.6M486.4 878v4.6M486.4 893.4v4.6M486.4 908.8v4.6M486.4 924.2v4.6M564.4 31v4.6M564.4 46.4v4.6M564.4 61.8v4.6M564.4 77.2v4.6M564.4 92.6v4.6M564.4 108v4.6M564.4 123.4v4.6M564.4 138.8v4.6M564.4 154.2v4.6M564.4 169.6v4.6M564.4 185v4.6M564.4 200.4v4.6M564.4 215.8v4.6M564.4 231.2v4.6M564.4 246.6v4.6M564.4 262v4.6M564.4 277.4v4.6M564.4 292.8v4.6M564.4 308.2v4.6M564.4 323.6v4.6M564.4 339v4.6M564.4 354.4v4.6M564.4 369.8v4.6M564.4 385.2v4.6M564.4 400.6v4.6M564.4 416v4.6M564.4 431.4v4.6M564.4 446.8v4.6M564.4 754.8v4.6M564.4 770.2v4.6M564.4 785.6v4.6M564.4 801v4.6M564.4 816.4v4.6M564.4 831.8v4.6M564.4 847.2v4.6M564.4 862.6v4.6M564.4 878v4.6M564.4 893.4v4.6M564.4 908.8v4.6M564.4 924.2v4.6M642.4 31v4.6M642.4 46.4v4.6M642.4 61.8v4.6M642.4 77.2v4.6M642.4 92.6v4.6M642.4 108v4.6M642.4 123.4v4.6M642.4 138.8v4.6M642.4 154.2v4.6M642.4 169.6v4.6M642.4 185v4.6M642.4 200.4v4.6M642.4 215.8v4.6M642.4 231.2v4.6M642.4 246.6v4.6M642.4 262v4.6M642.4 277.4v4.6M642.4 292.8v4.6M642.4 308.2v4.6M642.4 323.6v4.6M642.4 339v4.6M642.4 354.4v4.6M642.4 369.8v4.6M642.4 385.2v4.6M642.4 400.6v4.6M642.4 416v4.6M642.4 616.2v4.6M642.4 631.6v4.6M642.4 647v4.6M642.4 662.4v4.6M642.4 677.8v4.6M642.4 693.2v4.6M642.4 708.6v4.6M642.4 724v4.6M642.4 739.4v4.6M642.4 754.8v4.6M642.4 770.2v4.6M642.4 785.6v4.6M642.4 801v4.6M642.4 816.4v4.6M642.4 831.8v4.6M642.4 847.2v4.6M642.4 862.6v4.6M642.4 878v4.6M642.4 893.4v4.6M642.4 908.8v4.6M642.4 924.2v4.6M720.4 31v4.6M720.4 46.4v4.6M720.4 61.8v4.6M720.4 77.2v4.6M720.4 92.6v4.6M720.4 108v4.6M720.4 123.4v4.6M720.4 138.8v4.6M720.4 154.2v4.6M720.4 169.6v4.6M720.4 185v4.6M720.4 200.4v4.6M720.4 215.8v4.6M720.4 231.2v4.6M720.4 246.6v4.6M720.4 262v4.6M720.4 277.4v4.6M720.4 292.8v4.6M720.4 308.2v4.6M720.4 323.6v4.6M720.4 339v4.6M720.4 508.4v4.6M720.4 523.8v4.6M720.4 539.2v4.6M720.4 554.6v4.6M720.4 570v4.6M720.4 585.4v4.6M720.4 600.8v4.6M720.4 616.2v4.6M720.4 631.6v4.6M720.4 647v4.6M720.4 662.4v4.6M720.4 677.8v4.6M720.4 693.2v4.6M720.4 708.6v4.6M720.4 724v4.6M720.4 739.4v4.6M720.4 754.8v4.6M720.4 770.2v4.6M720.4 785.6v4.6M720.4 801v4.6M720.4 816.4v4.6M720.4 831.8v4.6M720.4 847.2v4.6M720.4 862.6v4.6M720.4 878v4.6M720.4 893.4v4.6M720.4 908.8v4.6M720.4 924.2v4.6M798.4 31v4.6M798.4 46.4v4.6M798.4 61.8v4.6M798.4 77.2v4.6M798.4 92.6v4.6M798.4 108v4.6M798.4 123.4v4.6M798.4 138.8v4.6M798.4 154.2v4.6M798.4 169.6v4.6M798.4 185v4.6M798.4 200.4v4.6M798.4 215.8v4.6M798.4 231.2v4.6M798.4 246.6v4.6M798.4 262v4.6M798.4 277.4v4.6M798.4 600.8v4.6M798.4 616.2v4.6M798.4 631.6v4.6M798.4 647v4.6M798.4 662.4v4.6M798.4 677.8v4.6M798.4 693.2v4.6M798.4 708.6v4.6M798.4 724v4.6M798.4 739.4v4.6M798.4 754.8v4.6M798.4 770.2v4.6M798.4 785.6v4.6M798.4 801v4.6M798.4 816.4v4.6M798.4 831.8v4.6M798.4 847.2v4.6M798.4 862.6v4.6M798.4 878v4.6M798.4 893.4v4.6M798.4 908.8v4.6M798.4 924.2v4.6M876.4 31v4.6M876.4 46.4v4.6M876.4 61.8v4.6M876.4 77.2v4.6M876.4 92.6v4.6M876.4 108v4.6M876.4 123.4v4.6M876.4 138.8v4.6M876.4 154.2v4.6M876.4 169.6v4.6M876.4 185v4.6M876.4 200.4v4.6M876.4 215.8v4.6M876.4 647v4.6M876.4 662.4v4.6M876.4 677.8v4.6M876.4 693.2v4.6M876.4 708.6v4.6M876.4 724v4.6M876.4 739.4v4.6M876.4 754.8v4.6M876.4 770.2v4.6M876.4 785.6v4.6M876.4 801v4.6M876.4 816.4v4.6M876.4 831.8v4.6M876.4 847.2v4.6M876.4 862.6v4.6M876.4 878v4.6M876.4 893.4v4.6M876.4 908.8v4.6M876.4 924.2v4.6M954.4 31v4.6M954.4 46.4v4.6M954.4 61.8v4.6M954.4 77.2v4.6M954.4 92.6v4.6M954.4 108v4.6M954.4 123.4v4.6M954.4 138.8v4.6M954.4 154.2v4.6M954.4 169.6v4.6M954.4 662.4v4.6M954.4 677.8v4.6M954.4 693.2v4.6M954.4 708.6v4.6M954.4 724v4.6M954.4 739.4v4.6M954.4 754.8v4.6M954.4 770.2v4.6M954.4 785.6v4.6M954.4 801v4.6M954.4 816.4v4.6M954.4 831.8v4.6M954.4 847.2v4.6M954.4 862.6v4.6M954.4 878v4.6M954.4 893.4v4.6M954.4 908.8v4.6M954.4 924.2v4.6M1032.4 31v4.6M1032.4 46.4v4.6M1032.4 61.8v4.6M1032.4 77.2v4.6M1032.4 92.6v4.6M1032.4 108v4.6M1032.4 123.4v4.6M1032.4 138.8v4.6M1032.4 662.4v4.6M1032.4 677.8v4.6M1032.4 693.2v4.6M1032.4 708.6v4.6M1032.4 724v4.6M1032.4 739.4v4.6M1032.4 754.8v4.6M1032.4 770.2v4.6M1032.4 785.6v4.6M1032.4 801v4.6M1032.4 816.4v4.6M1032.4 831.8v4.6M1032.4 847.2v4.6M1032.4 862.6v4.6M1032.4 878v4.6M1032.4 893.4v4.6M1032.4 908.8v4.6M1032.4 924.2v4.6M1110.4 31v4.6M1110.4 46.4v4.6M1110.4 61.8v4.6M1110.4 77.2v4.6M1110.4 662.4v4.6M1110.4 677.8v4.6M1110.4 693.2v4.6M1110.4 708.6v4.6M1110.4 724v4.6M1110.4 739.4v4.6M1110.4 754.8v4.6M1110.4 770.2v4.6M1110.4 785.6v4.6M1110.4 801v4.6M1110.4 816.4v4.6M1110.4 831.8v4.6M1110.4 847.2v4.6M1110.4 862.6v4.6M1110.4 878v4.6M1110.4 893.4v4.6M1110.4 908.8v4.6M1110.4 924.2v4.6M160.5 83.3h4.6M175.9 83.3h4.6M191.3 83.3h4.6M206.7 83.3h4.6M222.1 83.3h4.6M237.5 83.3h4.6M252.9 83.3h4.6M268.3 83.3h4.6M283.7 83.3h4.6M299.1 83.3h4.6M314.5 83.3h4.6M329.9 83.3h4.6M345.3 83.3h4.6M360.7 83.3h4.6M376.1 83.3h4.6M391.5 83.3h4.6M406.9 83.3h4.6M422.3 83.3h4.6M437.7 83.3h4.6M453.1 83.3h4.6M468.5 83.3h4.6M483.9 83.3h4.6M499.3 83.3h4.6M514.7 83.3h4.6M530.1 83.3h4.6M545.5 83.3h4.6M560.9 83.3h4.6M576.3 83.3h4.6M591.7 83.3h4.6M607.1 83.3h4.6M622.5 83.3h4.6M637.9 83.3h4.6M653.3 83.3h4.6M668.7 83.3h4.6M684.1 83.3h4.6M699.5 83.3h4.6M714.9 83.3h4.6M730.3 83.3h4.6M745.7 83.3h4.6M761.1 83.3h4.6M776.5 83.3h4.6M791.9 83.3h4.6M807.3 83.3h4.6M822.7 83.3h4.6M838.1 83.3h4.6M853.5 83.3h4.6M868.9 83.3h4.6M884.3 83.3h4.6M899.7 83.3h4.6M915.1 83.3h4.6M930.5 83.3h4.6M945.9 83.3h4.6M961.3 83.3h4.6M976.7 83.3h4.6M992.1 83.3h4.6M1007.5 83.3h4.6M1022.9 83.3h4.6M1038.3 83.3h4.6M1053.7 83.3h4.6M1069.1 83.3h4.6M1084.5 83.3h4.6M1099.9 83.3h4.6M160.5 156.1h4.6M175.9 156.1h4.6M191.3 156.1h4.6M206.7 156.1h4.6M222.1 156.1h4.6M237.5 156.1h4.6M252.9 156.1h4.6M268.3 156.1h4.6M283.7 156.1h4.6M299.1 156.1h4.6M314.5 156.1h4.6M329.9 156.1h4.6M345.3 156.1h4.6M360.7 156.1h4.6M376.1 156.1h4.6M391.5 156.1h4.6M406.9 156.1h4.6M422.3 156.1h4.6M437.7 156.1h4.6M453.1 156.1h4.6M468.5 156.1h4.6M483.9 156.1h4.6M499.3 156.1h4.6M514.7 156.1h4.6M530.1 156.1h4.6M545.5 156.1h4.6M560.9 156.1h4.6M576.3 156.1h4.6M591.7 156.1h4.6M607.1 156.1h4.6M622.5 156.1h4.6M637.9 156.1h4.6M653.3 156.1h4.6M668.7 156.1h4.6M684.1 156.1h4.6M699.5 156.1h4.6M714.9 156.1h4.6M730.3 156.1h4.6M745.7 156.1h4.6M761.1 156.1h4.6M776.5 156.1h4.6M791.9 156.1h4.6M807.3 156.1h4.6M822.7 156.1h4.6M838.1 156.1h4.6M853.5 156.1h4.6M868.9 156.1h4.6M884.3 156.1h4.6M899.7 156.1h4.6M915.1 156.1h4.6M930.5 156.1h4.6M945.9 156.1h4.6M961.3 156.1h4.6M976.7 156.1h4.6M992.1 156.1h4.6M1007.5 156.1h4.6M160.5 228.8h4.6M175.9 228.8h4.6M191.3 228.8h4.6M206.7 228.8h4.6M222.1 228.8h4.6M237.5 228.8h4.6M252.9 228.8h4.6M268.3 228.8h4.6M283.7 228.8h4.6M299.1 228.8h4.6M314.5 228.8h4.6M329.9 228.8h4.6M345.3 228.8h4.6M360.7 228.8h4.6M376.1 228.8h4.6M391.5 228.8h4.6M406.9 228.8h4.6M422.3 228.8h4.6M437.7 228.8h4.6M453.1 228.8h4.6M468.5 228.8h4.6M483.9 228.8h4.6M499.3 228.8h4.6M514.7 228.8h4.6M530.1 228.8h4.6M545.5 228.8h4.6M560.9 228.8h4.6M576.3 228.8h4.6M591.7 228.8h4.6M607.1 228.8h4.6M622.5 228.8h4.6M637.9 228.8h4.6M653.3 228.8h4.6M668.7 228.8h4.6M684.1 228.8h4.6M699.5 228.8h4.6M714.9 228.8h4.6M730.3 228.8h4.6M745.7 228.8h4.6M761.1 228.8h4.6M776.5 228.8h4.6M791.9 228.8h4.6M807.3 228.8h4.6M822.7 228.8h4.6M838.1 228.8h4.6M853.5 228.8h4.6M868.9 228.8h4.6M160.5 301.6h4.6M175.9 301.6h4.6M191.3 301.6h4.6M206.7 301.6h4.6M222.1 301.6h4.6M237.5 301.6h4.6M252.9 301.6h4.6M268.3 301.6h4.6M283.7 301.6h4.6M299.1 301.6h4.6M314.5 301.6h4.6M329.9 301.6h4.6M345.3 301.6h4.6M360.7 301.6h4.6M376.1 301.6h4.6M391.5 301.6h4.6M406.9 301.6h4.6M422.3 301.6h4.6M437.7 301.6h4.6M453.1 301.6h4.6M468.5 301.6h4.6M483.9 301.6h4.6M499.3 301.6h4.6M514.7 301.6h4.6M530.1 301.6h4.6M545.5 301.6h4.6M560.9 301.6h4.6M576.3 301.6h4.6M591.7 301.6h4.6M607.1 301.6h4.6M622.5 301.6h4.6M637.9 301.6h4.6M653.3 301.6h4.6M668.7 301.6h4.6M684.1 301.6h4.6M699.5 301.6h4.6M714.9 301.6h4.6M730.3 301.6h4.6M745.7 301.6h4.6M761.1 301.6h4.6M160.5 374.3h4.6M175.9 374.3h4.6M191.3 374.3h4.6M206.7 374.3h4.6M222.1 374.3h4.6M237.5 374.3h4.6M252.9 374.3h4.6M268.3 374.3h4.6M283.7 374.3h4.6M299.1 374.3h4.6M314.5 374.3h4.6M329.9 374.3h4.6M345.3 374.3h4.6M360.7 374.3h4.6M376.1 374.3h4.6M391.5 374.3h4.6M406.9 374.3h4.6M422.3 374.3h4.6M437.7 374.3h4.6M453.1 374.3h4.6M468.5 374.3h4.6M483.9 374.3h4.6M499.3 374.3h4.6M514.7 374.3h4.6M530.1 374.3h4.6M545.5 374.3h4.6M560.9 374.3h4.6M576.3 374.3h4.6M591.7 374.3h4.6M607.1 374.3h4.6M622.5 374.3h4.6M637.9 374.3h4.6M653.3 374.3h4.6M668.7 374.3h4.6M684.1 374.3h4.6M160.5 447.1h4.6M175.9 447.1h4.6M191.3 447.1h4.6M206.7 447.1h4.6M222.1 447.1h4.6M237.5 447.1h4.6M252.9 447.1h4.6M268.3 447.1h4.6M283.7 447.1h4.6M299.1 447.1h4.6M314.5 447.1h4.6M329.9 447.1h4.6M345.3 447.1h4.6M360.7 447.1h4.6M376.1 447.1h4.6M391.5 447.1h4.6M406.9 447.1h4.6M422.3 447.1h4.6M437.7 447.1h4.6M453.1 447.1h4.6M468.5 447.1h4.6M483.9 447.1h4.6M499.3 447.1h4.6M514.7 447.1h4.6M530.1 447.1h4.6M545.5 447.1h4.6M560.9 447.1h4.6M160.5 519.9h4.6M175.9 519.9h4.6M191.3 519.9h4.6M206.7 519.9h4.6M222.1 519.9h4.6M237.5 519.9h4.6M252.9 519.9h4.6M268.3 519.9h4.6M283.7 519.9h4.6M299.1 519.9h4.6M314.5 519.9h4.6M329.9 519.9h4.6M345.3 519.9h4.6M360.7 519.9h4.6M376.1 519.9h4.6M391.5 519.9h4.6M406.9 519.9h4.6M422.3 519.9h4.6M437.7 519.9h4.6M453.1 519.9h4.6M468.5 519.9h4.6M483.9 519.9h4.6M684.1 519.9h4.6M699.5 519.9h4.6M714.9 519.9h4.6M730.3 519.9h4.6M160.5 592.6h4.6M175.9 592.6h4.6M191.3 592.6h4.6M206.7 592.6h4.6M222.1 592.6h4.6M237.5 592.6h4.6M252.9 592.6h4.6M268.3 592.6h4.6M283.7 592.6h4.6M299.1 592.6h4.6M314.5 592.6h4.6M329.9 592.6h4.6M345.3 592.6h4.6M360.7 592.6h4.6M376.1 592.6h4.6M391.5 592.6h4.6M406.9 592.6h4.6M422.3 592.6h4.6M437.7 592.6h4.6M453.1 592.6h4.6M468.5 592.6h4.6M653.3 592.6h4.6M668.7 592.6h4.6M684.1 592.6h4.6M699.5 592.6h4.6M714.9 592.6h4.6M730.3 592.6h4.6M745.7 592.6h4.6M761.1 592.6h4.6M776.5 592.6h4.6M791.9 592.6h4.6M175.9 665.4h4.6M191.3 665.4h4.6M206.7 665.4h4.6M222.1 665.4h4.6M237.5 665.4h4.6M252.9 665.4h4.6M268.3 665.4h4.6M283.7 665.4h4.6M299.1 665.4h4.6M314.5 665.4h4.6M329.9 665.4h4.6M345.3 665.4h4.6M360.7 665.4h4.6M376.1 665.4h4.6M391.5 665.4h4.6M406.9 665.4h4.6M422.3 665.4h4.6M437.7 665.4h4.6M453.1 665.4h4.6M468.5 665.4h4.6M622.5 665.4h4.6M637.9 665.4h4.6M653.3 665.4h4.6M668.7 665.4h4.6M684.1 665.4h4.6M699.5 665.4h4.6M714.9 665.4h4.6M730.3 665.4h4.6M745.7 665.4h4.6M761.1 665.4h4.6M776.5 665.4h4.6M791.9 665.4h4.6M807.3 665.4h4.6M822.7 665.4h4.6M838.1 665.4h4.6M853.5 665.4h4.6M868.9 665.4h4.6M884.3 665.4h4.6M899.7 665.4h4.6M915.1 665.4h4.6M930.5 665.4h4.6M945.9 665.4h4.6M961.3 665.4h4.6M976.7 665.4h4.6M992.1 665.4h4.6M1007.5 665.4h4.6M1022.9 665.4h4.6M1038.3 665.4h4.6M1053.7 665.4h4.6M1069.1 665.4h4.6M1084.5 665.4h4.6M1099.9 665.4h4.6M1115.3 665.4h4.6M206.7 738.1h4.6M222.1 738.1h4.6M237.5 738.1h4.6M252.9 738.1h4.6M268.3 738.1h4.6M283.7 738.1h4.6M299.1 738.1h4.6M314.5 738.1h4.6M329.9 738.1h4.6M345.3 738.1h4.6M360.7 738.1h4.6M376.1 738.1h4.6M391.5 738.1h4.6M406.9 738.1h4.6M422.3 738.1h4.6M437.7 738.1h4.6M453.1 738.1h4.6M591.7 738.1h4.6M607.1 738.1h4.6M622.5 738.1h4.6M637.9 738.1h4.6M653.3 738.1h4.6M668.7 738.1h4.6M684.1 738.1h4.6M699.5 738.1h4.6M714.9 738.1h4.6M730.3 738.1h4.6M745.7 738.1h4.6M761.1 738.1h4.6M776.5 738.1h4.6M791.9 738.1h4.6M807.3 738.1h4.6M822.7 738.1h4.6M838.1 738.1h4.6M853.5 738.1h4.6M868.9 738.1h4.6M884.3 738.1h4.6M899.7 738.1h4.6M915.1 738.1h4.6M930.5 738.1h4.6M945.9 738.1h4.6M961.3 738.1h4.6M976.7 738.1h4.6M992.1 738.1h4.6M1007.5 738.1h4.6M1022.9 738.1h4.6M1038.3 738.1h4.6M1053.7 738.1h4.6M1069.1 738.1h4.6M1084.5 738.1h4.6M1099.9 738.1h4.6M1115.3 738.1h4.6M206.7 810.9h4.6M222.1 810.9h4.6M237.5 810.9h4.6M252.9 810.9h4.6M268.3 810.9h4.6M283.7 810.9h4.6M299.1 810.9h4.6M314.5 810.9h4.6M329.9 810.9h4.6M345.3 810.9h4.6M360.7 810.9h4.6M376.1 810.9h4.6M391.5 810.9h4.6M406.9 810.9h4.6M422.3 810.9h4.6M437.7 810.9h4.6M453.1 810.9h4.6M468.5 810.9h4.6M483.9 810.9h4.6M499.3 810.9h4.6M514.7 810.9h4.6M530.1 810.9h4.6M545.5 810.9h4.6M560.9 810.9h4.6M576.3 810.9h4.6M591.7 810.9h4.6M607.1 810.9h4.6M622.5 810.9h4.6M637.9 810.9h4.6M653.3 810.9h4.6M668.7 810.9h4.6M684.1 810.9h4.6M699.5 810.9h4.6M714.9 810.9h4.6M730.3 810.9h4.6M745.7 810.9h4.6M761.1 810.9h4.6M776.5 810.9h4.6M791.9 810.9h4.6M807.3 810.9h4.6M822.7 810.9h4.6M838.1 810.9h4.6M853.5 810.9h4.6M868.9 810.9h4.6M884.3 810.9h4.6M899.7 810.9h4.6M915.1 810.9h4.6M930.5 810.9h4.6M945.9 810.9h4.6M961.3 810.9h4.6M976.7 810.9h4.6M992.1 810.9h4.6M1007.5 810.9h4.6M1022.9 810.9h4.6M1038.3 810.9h4.6M1053.7 810.9h4.6M1069.1 810.9h4.6M1084.5 810.9h4.6M1099.9 810.9h4.6M1115.3 810.9h4.6M160.5 883.7h4.6M175.9 883.7h4.6M191.3 883.7h4.6M206.7 883.7h4.6M222.1 883.7h4.6M237.5 883.7h4.6M252.9 883.7h4.6M268.3 883.7h4.6M283.7 883.7h4.6M299.1 883.7h4.6M314.5 883.7h4.6M329.9 883.7h4.6M345.3 883.7h4.6M360.7 883.7h4.6M376.1 883.7h4.6M391.5 883.7h4.6M406.9 883.7h4.6M422.3 883.7h4.6M437.7 883.7h4.6M453.1 883.7h4.6M468.5 883.7h4.6M483.9 883.7h4.6M499.3 883.7h4.6M514.7 883.7h4.6M530.1 883.7h4.6M545.5 883.7h4.6M560.9 883.7h4.6M576.3 883.7h4.6M591.7 883.7h4.6M607.1 883.7h4.6M622.5 883.7h4.6M637.9 883.7h4.6M653.3 883.7h4.6M668.7 883.7h4.6M684.1 883.7h4.6M699.5 883.7h4.6M714.9 883.7h4.6M730.3 883.7h4.6M745.7 883.7h4.6M761.1 883.7h4.6M776.5 883.7h4.6M791.9 883.7h4.6M807.3 883.7h4.6M822.7 883.7h4.6M838.1 883.7h4.6M853.5 883.7h4.6M868.9 883.7h4.6M884.3 883.7h4.6M899.7 883.7h4.6M915.1 883.7h4.6M930.5 883.7h4.6M945.9 883.7h4.6M961.3 883.7h4.6M976.7 883.7h4.6M992.1 883.7h4.6M1007.5 883.7h4.6M1022.9 883.7h4.6M1038.3 883.7h4.6M1053.7 883.7h4.6M1069.1 883.7h4.6M1084.5 883.7h4.6M1099.9 883.7h4.6M1115.3 883.7h4.6" opacity="0.10"/>
</g>
<path d="M203.1 936.5L210 921.5L226.1 903L240 889.2L253.8 873L265.4 863.8L279.2 854.6L293 843L306.9 837.3L325.4 830.4L348.4 826.4L369.2 824.1L390 826.4L403.8 822.3L422.3 813L447.6 804.3L477.6 798.7L510 791.1L542.2 783L565.3 772.7L588.4 757.7L600 743.8L623 730L638 716L643.9 710.8L647.7 700.5L654.2 688.9L659.3 679.9L660.6 669.6L661.2 658.7L673.5 656.1L685.1 651.6L694.1 645.2L703 635.2L708.2 619.4L703 605.4L692.4 596.6L678.4 595.7L667.8 592.2L655.5 589.6L641.5 586L631 577.3L622 561.5L615 535L614.2 518.4L624 540.4L632.7 561.5L641.5 577.3L650.2 580.8L664.3 582.5L673 577.3L681.9 591.3L699.4 595.7L713.5 601.9L722.3 612.4L724.9 619.4L725.8 645.8L719.8 655.5L710.8 663.2L701.2 670.9L703.1 682.5L706.3 694.1L706.3 716L713.4 723.7L719.8 735.3L722.4 749.5L721.8 766.2L716 775.2L710.2 781.7L717.3 794.5L728.9 806.1L735.3 815.1L741.7 824.2L752 826.7L759.1 825.4L755.9 813.9L753.3 806.1L755.9 798.4L755.9 788.1L753.3 776.5L749.5 764.9L744.3 752L743 735.9L752 740.5L759.1 749.5L761.1 762.3L761.7 775.2L764.9 786.8L761.1 794.5L760.4 803.6L768.8 799.7L777.8 793.9L773.9 784.2L772.6 776.5L792 775.2L790.7 794.5L795.8 811.3L800.3 815.8L813.9 807.4L821.6 798.4L824.2 793.3L820.3 781.7L819 771.4L820.3 758.5L826.7 745.6L834.5 737.9L835.1 717.3L831.9 707L828.7 698.6L833.2 691.5L839.6 685.1L839 694.1L838.3 707L843.5 717.3L848.6 725L851.2 739.2L846.1 746.9L837 755.9L838.3 766.2L842.2 779.1L847.3 792L844.8 804.8L838.3 816.4L834.5 824.2L839.6 839.6L844.8 828L851.2 822.2L864.1 819L873.1 813.9L878.2 806.1L875.7 792L879.5 781.7L884.7 770.1L887.9 758.5L882.1 750.8L871.8 743L861.5 735.9L860.2 730.1L864.1 719.8L873.1 707L877 691.5L878.2 678.6L877 660.6L880.8 647.7L884.7 640L885.4 622.6L891.1 606.2L898.5 598.9L895.2 617.7L892.8 634.1L899.3 652.1L892.8 666.9L890.3 684.9L897.7 689.8L907.5 689.8L914.1 678.4L920.7 665.2L925.6 657L919 645.6L920.7 629.2L928.9 622.6L940.3 620.2L928.9 627.5L927.2 637.4L932.1 648.9L942 660.3L932.1 671.8L923.9 684.9L920.7 694.8L923.1 704.6L915.7 716.1L912.5 722.6L915.7 735.7L914.1 752.1L910.8 765.2L910 778.4L915.7 791.5L922.3 809.5L927.2 822.6L932.1 830.8L942 827.5L950.2 822.6L949.3 812.8L945.2 804.6L950.2 796.4L956.7 794.8L964.9 801.3L973.1 791.5L971.5 780L968.2 771.8L974.8 759.5L981.3 768.5L986.2 784.9L994.4 794.8L1007.5 798L1023.9 804.6L1040.3 810.3L1053.4 807.9L1061.6 803L1064.9 789.8L1062.5 776.7L1056.7 763.6L1048.5 750.5L1043.6 737.4L1042 722.6L1040.3 707.9L1046.9 696.4L1032.1 696.4L1017.4 691.5L1009.2 676.7L1005.9 673.4L1001 686.6L1017.4 699.7L1033.8 711.1L1042 717.7L1048.5 744L1060 765.2L1073.1 784.9L1086.2 801.3M868.1 29.1L863.2 45.2L861 59.8L868.1 72.7L884.2 80.7L900.4 96.9L919.8 116.3L935.9 129.2L944 119.5L948.8 132.4L942.4 151.8L935.9 168L926.2 187.3L919.8 200.3L935.9 209.9L950.5 214.8L966.6 211.6L987.6 218L1007 221.3L1015.1 232.6L1007 248.7L994.1 261.6L982.8 268.1L981.1 290.7L979.5 313.3L987.6 326.2L1003.7 345.6L1016.7 361.8L1019.9 371.4L1011.8 394.1L1016.7 416.7L1010.2 436L1016.7 452.2L1010.2 465.1L1023.1 481.3L1029.6 497.4L1029.6 520L1033 540L1039.3 554.3L1049 576.9L1056.7 593.1L1062.5 606.2L1058.4 621L1050.2 627.5L1050.2 642.3L1058.4 653.8L1066.6 663.6L1068.2 675.1L1064.9 684.9L1068.2 704.6L1068.2 732.5L1078 737.4L1086.2 742.3L1097.7 734.9L1105.9 740.7L1112.5 753.8L1116.6 768.5L1114.1 784.9L1122.3 791.5L1127.2 793.1M1064.9 684.9L1058.4 685.5L1046.9 696.4M884.6 701.3L905.9 697.2L901 709.5L894.4 727.5L890.3 742.3L881.3 740.7L872.3 734.1L874.8 721L879.7 709.5L884.6 701.3M966.6 816.1L981.3 815.2L996.1 825.1L989.5 835.7L983 840.7L969.8 834.9L966.6 825.9L966.6 816.1M685.7 685.1L694.1 700.5L684.4 712.1L670.9 704.4L685.7 685.1M695.4 712.1L701.8 723.7L707 737.9L708.9 753.3L705.7 766.2L695.4 780.4L694.1 788.1L698 794.5L697.3 801.6L682.5 799.7L659.3 792L661.9 771.4L670.9 752L678.6 730.1L682.5 722.4L695.4 712.1" fill="none" stroke="#0a1a22" stroke-width="2.3" stroke-linejoin="round" opacity=".88"/><path d="M1058.4 653.8L1063 664L1064 675L1062 684" fill="none" stroke="#0a1a22" stroke-width="4" stroke-linejoin="round" opacity=".8"/>
<rect x="154.5" y="27" width="974" height="911" fill="none" stroke="#000" stroke-width="5"/>
<g stroke="#000" stroke-width="3">
<path d="M145.5 83.3H154.5"/>
<path d="M145.5 156.1H154.5"/>
<path d="M145.5 228.8H154.5"/>
<path d="M145.5 301.6H154.5"/>
<path d="M145.5 374.3H154.5"/>
<path d="M145.5 447.1H154.5"/>
<path d="M145.5 519.9H154.5"/>
<path d="M145.5 592.6H154.5"/>
<path d="M145.5 665.4H154.5"/>
<path d="M145.5 738.1H154.5"/>
<path d="M145.5 810.9H154.5"/>
<path d="M145.5 883.7H154.5"/>
<path d="M174.4 938V945"/>
<path d="M252.4 938V945"/>
<path d="M330.4 938V945"/>
<path d="M408.4 938V945"/>
<path d="M486.4 938V945"/>
<path d="M564.4 938V945"/>
<path d="M642.4 938V945"/>
<path d="M720.4 938V945"/>
<path d="M798.4 938V945"/>
<path d="M876.4 938V945"/>
<path d="M954.4 938V945"/>
<path d="M1032.4 938V945"/>
<path d="M1110.4 938V945"/>
</g>
<text x="139" y="91.4" font-family='"Liberation Sans", "DejaVu Sans", sans-serif' font-size="22.5" font-weight="normal" text-anchor="end" fill="#0c0c0c" textLength="68.5" lengthAdjust="spacingAndGlyphs" stroke="#0c0c0c" stroke-width=".75">23.6N</text>
<text x="139" y="164.2" font-family='"Liberation Sans", "DejaVu Sans", sans-serif' font-size="22.5" font-weight="normal" text-anchor="end" fill="#0c0c0c" textLength="68.5" lengthAdjust="spacingAndGlyphs" stroke="#0c0c0c" stroke-width=".75">23.4N</text>
<text x="139" y="236.9" font-family='"Liberation Sans", "DejaVu Sans", sans-serif' font-size="22.5" font-weight="normal" text-anchor="end" fill="#0c0c0c" textLength="68.5" lengthAdjust="spacingAndGlyphs" stroke="#0c0c0c" stroke-width=".75">23.2N</text>
<text x="139" y="309.7" font-family='"Liberation Sans", "DejaVu Sans", sans-serif' font-size="22.5" font-weight="normal" text-anchor="end" fill="#0c0c0c" textLength="42.5" lengthAdjust="spacingAndGlyphs" stroke="#0c0c0c" stroke-width=".75">23N</text>
<text x="139" y="382.4" font-family='"Liberation Sans", "DejaVu Sans", sans-serif' font-size="22.5" font-weight="normal" text-anchor="end" fill="#0c0c0c" textLength="68.5" lengthAdjust="spacingAndGlyphs" stroke="#0c0c0c" stroke-width=".75">22.8N</text>
<text x="139" y="455.2" font-family='"Liberation Sans", "DejaVu Sans", sans-serif' font-size="22.5" font-weight="normal" text-anchor="end" fill="#0c0c0c" textLength="68.5" lengthAdjust="spacingAndGlyphs" stroke="#0c0c0c" stroke-width=".75">22.6N</text>
<text x="139" y="528" font-family='"Liberation Sans", "DejaVu Sans", sans-serif' font-size="22.5" font-weight="normal" text-anchor="end" fill="#0c0c0c" textLength="68.5" lengthAdjust="spacingAndGlyphs" stroke="#0c0c0c" stroke-width=".75">22.4N</text>
<text x="139" y="600.7" font-family='"Liberation Sans", "DejaVu Sans", sans-serif' font-size="22.5" font-weight="normal" text-anchor="end" fill="#0c0c0c" textLength="68.5" lengthAdjust="spacingAndGlyphs" stroke="#0c0c0c" stroke-width=".75">22.2N</text>
<text x="139" y="673.5" font-family='"Liberation Sans", "DejaVu Sans", sans-serif' font-size="22.5" font-weight="normal" text-anchor="end" fill="#0c0c0c" textLength="42.5" lengthAdjust="spacingAndGlyphs" stroke="#0c0c0c" stroke-width=".75">22N</text>
<text x="139" y="746.2" font-family='"Liberation Sans", "DejaVu Sans", sans-serif' font-size="22.5" font-weight="normal" text-anchor="end" fill="#0c0c0c" textLength="68.5" lengthAdjust="spacingAndGlyphs" stroke="#0c0c0c" stroke-width=".75">21.8N</text>
<text x="139" y="819" font-family='"Liberation Sans", "DejaVu Sans", sans-serif' font-size="22.5" font-weight="normal" text-anchor="end" fill="#0c0c0c" textLength="68.5" lengthAdjust="spacingAndGlyphs" stroke="#0c0c0c" stroke-width=".75">21.6N</text>
<text x="139" y="891.8" font-family='"Liberation Sans", "DejaVu Sans", sans-serif' font-size="22.5" font-weight="normal" text-anchor="end" fill="#0c0c0c" textLength="68.5" lengthAdjust="spacingAndGlyphs" stroke="#0c0c0c" stroke-width=".75">21.4N</text>
<g clip-path="url(#cxa)"><text x="174.4" y="964.9" font-family='"Liberation Sans", "DejaVu Sans", sans-serif' font-size="20.5" font-weight="normal" text-anchor="middle" fill="#0c0c0c" textLength="63.6" lengthAdjust="spacingAndGlyphs" stroke="#0c0c0c" stroke-width=".75">86.8E</text>
<text x="252.4" y="964.9" font-family='"Liberation Sans", "DejaVu Sans", sans-serif' font-size="20.5" font-weight="normal" text-anchor="middle" fill="#0c0c0c" textLength="39.4" lengthAdjust="spacingAndGlyphs" stroke="#0c0c0c" stroke-width=".75">87E</text>
<text x="330.4" y="964.9" font-family='"Liberation Sans", "DejaVu Sans", sans-serif' font-size="20.5" font-weight="normal" text-anchor="middle" fill="#0c0c0c" textLength="63.6" lengthAdjust="spacingAndGlyphs" stroke="#0c0c0c" stroke-width=".75">87.2E</text>
<text x="408.4" y="964.9" font-family='"Liberation Sans", "DejaVu Sans", sans-serif' font-size="20.5" font-weight="normal" text-anchor="middle" fill="#0c0c0c" textLength="63.6" lengthAdjust="spacingAndGlyphs" stroke="#0c0c0c" stroke-width=".75">87.4E</text>
<text x="486.4" y="964.9" font-family='"Liberation Sans", "DejaVu Sans", sans-serif' font-size="20.5" font-weight="normal" text-anchor="middle" fill="#0c0c0c" textLength="63.6" lengthAdjust="spacingAndGlyphs" stroke="#0c0c0c" stroke-width=".75">87.6E</text>
<text x="564.4" y="964.9" font-family='"Liberation Sans", "DejaVu Sans", sans-serif' font-size="20.5" font-weight="normal" text-anchor="middle" fill="#0c0c0c" textLength="63.6" lengthAdjust="spacingAndGlyphs" stroke="#0c0c0c" stroke-width=".75">87.8E</text>
<text x="642.4" y="964.9" font-family='"Liberation Sans", "DejaVu Sans", sans-serif' font-size="20.5" font-weight="normal" text-anchor="middle" fill="#0c0c0c" textLength="39.4" lengthAdjust="spacingAndGlyphs" stroke="#0c0c0c" stroke-width=".75">88E</text>
<text x="720.4" y="964.9" font-family='"Liberation Sans", "DejaVu Sans", sans-serif' font-size="20.5" font-weight="normal" text-anchor="middle" fill="#0c0c0c" textLength="63.6" lengthAdjust="spacingAndGlyphs" stroke="#0c0c0c" stroke-width=".75">88.2E</text>
<text x="798.4" y="964.9" font-family='"Liberation Sans", "DejaVu Sans", sans-serif' font-size="20.5" font-weight="normal" text-anchor="middle" fill="#0c0c0c" textLength="63.6" lengthAdjust="spacingAndGlyphs" stroke="#0c0c0c" stroke-width=".75">88.4E</text>
<text x="876.4" y="964.9" font-family='"Liberation Sans", "DejaVu Sans", sans-serif' font-size="20.5" font-weight="normal" text-anchor="middle" fill="#0c0c0c" textLength="63.6" lengthAdjust="spacingAndGlyphs" stroke="#0c0c0c" stroke-width=".75">88.6E</text>
<text x="954.4" y="964.9" font-family='"Liberation Sans", "DejaVu Sans", sans-serif' font-size="20.5" font-weight="normal" text-anchor="middle" fill="#0c0c0c" textLength="63.6" lengthAdjust="spacingAndGlyphs" stroke="#0c0c0c" stroke-width=".75">88.8E</text>
<text x="1032.4" y="964.9" font-family='"Liberation Sans", "DejaVu Sans", sans-serif' font-size="20.5" font-weight="normal" text-anchor="middle" fill="#0c0c0c" textLength="39.4" lengthAdjust="spacingAndGlyphs" stroke="#0c0c0c" stroke-width=".75">89E</text>
<text x="1110.4" y="964.9" font-family='"Liberation Sans", "DejaVu Sans", sans-serif' font-size="20.5" font-weight="normal" text-anchor="middle" fill="#0c0c0c" textLength="63.6" lengthAdjust="spacingAndGlyphs" stroke="#0c0c0c" stroke-width=".75">89.2E</text></g>
<path d="M1154.5 57.1L1172.2 36.7L1190 57.1Z" fill="#fc1e0e"/>
<path d="M1154.5 920.7L1172.2 937.2L1190 920.7Z" fill="#870afa"/>
<rect x="1154.5" y="56.6" width="35.5" height="14.5" fill="#fc1e0e"/>
<rect x="1154.5" y="70.8" width="35.5" height="14.5" fill="#fc2d0e"/>
<rect x="1154.5" y="84.9" width="35.5" height="14.5" fill="#fc3c0e"/>
<rect x="1154.5" y="99.1" width="35.5" height="14.5" fill="#fc4b0e"/>
<rect x="1154.5" y="113.3" width="35.5" height="14.5" fill="#fc5b0e"/>
<rect x="1154.5" y="127.5" width="35.5" height="14.5" fill="#fc6c0e"/>
<rect x="1154.5" y="141.6" width="35.5" height="14.5" fill="#fc7c0e"/>
<rect x="1154.5" y="155.8" width="35.5" height="14.5" fill="#fc8d0e"/>
<rect x="1154.5" y="170" width="35.5" height="14.5" fill="#fc9f0d"/>
<rect x="1154.5" y="184.2" width="35.5" height="14.5" fill="#fcb10d"/>
<rect x="1154.5" y="198.3" width="35.5" height="14.5" fill="#fcc30c"/>
<rect x="1154.5" y="212.5" width="35.5" height="14.5" fill="#fcd40c"/>
<rect x="1154.5" y="226.7" width="35.5" height="14.5" fill="#fce40c"/>
<rect x="1154.5" y="240.9" width="35.5" height="14.5" fill="#fcf50c"/>
<rect x="1154.5" y="255" width="35.5" height="14.5" fill="#f4fa0c"/>
<rect x="1154.5" y="269.2" width="35.5" height="14.5" fill="#e7fa0b"/>
<rect x="1154.5" y="283.4" width="35.5" height="14.5" fill="#dafa0a"/>
<rect x="1154.5" y="297.6" width="35.5" height="14.5" fill="#cdfa0a"/>
<rect x="1154.5" y="311.7" width="35.5" height="14.5" fill="#befa0a"/>
<rect x="1154.5" y="325.9" width="35.5" height="14.5" fill="#affa0a"/>
<rect x="1154.5" y="340.1" width="35.5" height="14.5" fill="#a0fa0a"/>
<rect x="1154.5" y="354.2" width="35.5" height="14.5" fill="#8afa0a"/>
<rect x="1154.5" y="368.4" width="35.5" height="14.5" fill="#73fa0a"/>
<rect x="1154.5" y="382.6" width="35.5" height="14.5" fill="#5dfa0a"/>
<rect x="1154.5" y="396.8" width="35.5" height="14.5" fill="#46fa0a"/>
<rect x="1154.5" y="410.9" width="35.5" height="14.5" fill="#30fa0b"/>
<rect x="1154.5" y="425.1" width="35.5" height="14.5" fill="#1bfa0c"/>
<rect x="1154.5" y="439.3" width="35.5" height="14.5" fill="#0cfa11"/>
<rect x="1154.5" y="453.5" width="35.5" height="14.5" fill="#0bfa21"/>
<rect x="1154.5" y="467.6" width="35.5" height="14.5" fill="#0bfa31"/>
<rect x="1154.5" y="481.8" width="35.5" height="14.5" fill="#0afa41"/>
<rect x="1154.5" y="496" width="35.5" height="14.5" fill="#0afa55"/>
<rect x="1154.5" y="510.2" width="35.5" height="14.5" fill="#0afa68"/>
<rect x="1154.5" y="524.3" width="35.5" height="14.5" fill="#0afa7c"/>
<rect x="1154.5" y="538.5" width="35.5" height="14.5" fill="#0afa8e"/>
<rect x="1154.5" y="552.7" width="35.5" height="14.5" fill="#0afaa0"/>
<rect x="1154.5" y="566.9" width="35.5" height="14.5" fill="#0afab2"/>
<rect x="1154.5" y="581" width="35.5" height="14.5" fill="#0afac4"/>
<rect x="1154.5" y="595.2" width="35.5" height="14.5" fill="#0afad6"/>
<rect x="1154.5" y="609.4" width="35.5" height="14.5" fill="#0afae8"/>
<rect x="1154.5" y="623.6" width="35.5" height="14.5" fill="#0afafa"/>
<rect x="1154.5" y="637.7" width="35.5" height="14.5" fill="#0ae9fa"/>
<rect x="1154.5" y="651.9" width="35.5" height="14.5" fill="#0ad9fa"/>
<rect x="1154.5" y="666.1" width="35.5" height="14.5" fill="#0ac8fa"/>
<rect x="1154.5" y="680.2" width="35.5" height="14.5" fill="#0ab6fa"/>
<rect x="1154.5" y="694.4" width="35.5" height="14.5" fill="#0aa2fa"/>
<rect x="1154.5" y="708.6" width="35.5" height="14.5" fill="#0a8ffa"/>
<rect x="1154.5" y="722.8" width="35.5" height="14.5" fill="#0a7cfa"/>
<rect x="1154.5" y="736.9" width="35.5" height="14.5" fill="#0a6afa"/>
<rect x="1154.5" y="751.1" width="35.5" height="14.5" fill="#0a58fa"/>
<rect x="1154.5" y="765.3" width="35.5" height="14.5" fill="#0a46fa"/>
<rect x="1154.5" y="779.5" width="35.5" height="14.5" fill="#0b35fa"/>
<rect x="1154.5" y="793.6" width="35.5" height="14.5" fill="#0b23fa"/>
<rect x="1154.5" y="807.8" width="35.5" height="14.5" fill="#0c12fa"/>
<rect x="1154.5" y="822" width="35.5" height="14.5" fill="#190cfa"/>
<rect x="1154.5" y="836.2" width="35.5" height="14.5" fill="#2b0bfa"/>
<rect x="1154.5" y="850.3" width="35.5" height="14.5" fill="#3e0afa"/>
<rect x="1154.5" y="864.5" width="35.5" height="14.5" fill="#510afa"/>
<rect x="1154.5" y="878.7" width="35.5" height="14.5" fill="#630afa"/>
<rect x="1154.5" y="892.9" width="35.5" height="14.5" fill="#750afa"/>
<rect x="1154.5" y="907" width="35.5" height="14.5" fill="#870afa"/>
<path d="M1154.5 70.8H1190M1154.5 84.9H1190M1154.5 99.1H1190M1154.5 113.3H1190M1154.5 127.5H1190M1154.5 141.6H1190M1154.5 155.8H1190M1154.5 170H1190M1154.5 184.2H1190M1154.5 198.3H1190M1154.5 212.5H1190M1154.5 226.7H1190M1154.5 240.9H1190M1154.5 255H1190M1154.5 269.2H1190M1154.5 283.4H1190M1154.5 297.6H1190M1154.5 311.7H1190M1154.5 340.1H1190M1154.5 354.2H1190M1154.5 368.4H1190M1154.5 382.6H1190M1154.5 396.8H1190M1154.5 410.9H1190M1154.5 425.1H1190M1154.5 439.3H1190M1154.5 453.5H1190M1154.5 467.6H1190M1154.5 481.8H1190M1154.5 496H1190M1154.5 510.2H1190M1154.5 524.3H1190M1154.5 538.5H1190M1154.5 552.7H1190M1154.5 566.9H1190M1154.5 581H1190M1154.5 595.2H1190M1154.5 609.4H1190M1154.5 623.6H1190M1154.5 637.7H1190M1154.5 666.1H1190M1154.5 680.2H1190M1154.5 694.4H1190M1154.5 708.6H1190M1154.5 722.8H1190M1154.5 736.9H1190M1154.5 751.1H1190M1154.5 765.3H1190M1154.5 779.5H1190M1154.5 793.6H1190M1154.5 807.8H1190M1154.5 822H1190M1154.5 836.2H1190M1154.5 850.3H1190M1154.5 864.5H1190M1154.5 878.7H1190M1154.5 892.9H1190M1154.5 907H1190" stroke="#000" stroke-width="2.6" opacity=".8" fill="none"/>
<path d="M1155.3 56.6V921.2" stroke="#000" stroke-width="2" opacity=".55" fill="none"/>
<text x="1198" y="62.9" font-family='"Liberation Sans", "DejaVu Sans", sans-serif' font-size="27.5" font-weight="normal" text-anchor="start" fill="#111" textLength="62.5" lengthAdjust="spacingAndGlyphs">83.8</text>
<text x="1198" y="135.9" font-family='"Liberation Sans", "DejaVu Sans", sans-serif' font-size="27.5" font-weight="normal" text-anchor="start" fill="#111" textLength="62.5" lengthAdjust="spacingAndGlyphs">78.6</text>
<text x="1198" y="234.9" font-family='"Liberation Sans", "DejaVu Sans", sans-serif' font-size="27.5" font-weight="normal" text-anchor="start" fill="#111" textLength="62.5" lengthAdjust="spacingAndGlyphs">71.5</text>
<text x="1198" y="334.9" font-family='"Liberation Sans", "DejaVu Sans", sans-serif' font-size="27.5" font-weight="normal" text-anchor="start" fill="#111" textLength="62.5" lengthAdjust="spacingAndGlyphs">64.3</text>
<text x="1198" y="434.9" font-family='"Liberation Sans", "DejaVu Sans", sans-serif' font-size="27.5" font-weight="normal" text-anchor="start" fill="#111" textLength="62.5" lengthAdjust="spacingAndGlyphs">57.1</text>
<text x="1198" y="534.9" font-family='"Liberation Sans", "DejaVu Sans", sans-serif' font-size="27.5" font-weight="normal" text-anchor="start" fill="#111" textLength="62.5" lengthAdjust="spacingAndGlyphs">49.9</text>
<text x="1198" y="634.9" font-family='"Liberation Sans", "DejaVu Sans", sans-serif' font-size="27.5" font-weight="normal" text-anchor="start" fill="#111" textLength="62.5" lengthAdjust="spacingAndGlyphs">42.7</text>
<text x="1198" y="734.4" font-family='"Liberation Sans", "DejaVu Sans", sans-serif' font-size="27.5" font-weight="normal" text-anchor="start" fill="#111" textLength="62.5" lengthAdjust="spacingAndGlyphs">35.6</text>
<text x="1198" y="834.9" font-family='"Liberation Sans", "DejaVu Sans", sans-serif' font-size="27.5" font-weight="normal" text-anchor="start" fill="#111" textLength="62.5" lengthAdjust="spacingAndGlyphs">28.4</text>
<text x="1198" y="934.9" font-family='"Liberation Sans", "DejaVu Sans", sans-serif' font-size="27.5" font-weight="normal" text-anchor="start" fill="#111" textLength="62.5" lengthAdjust="spacingAndGlyphs">21.2</text>
<path d="M335 81V238.8M255 159H405M342 92L335 81L328 92M328 227.8L335 238.8L342 227.8M266 152L255 159L266 166M394 166L405 159L394 152" stroke="#000" stroke-width="3.2" fill="none" stroke-linejoin="miter"/>
<text x="329" y="64.5" font-family='"Liberation Serif", "DejaVu Serif", serif' font-size="38" font-weight="bold" text-anchor="middle" fill="#000" textLength="22.5" lengthAdjust="spacingAndGlyphs">N</text>
<text x="336" y="283" font-family='"Liberation Serif", "DejaVu Serif", serif' font-size="38" font-weight="bold" text-anchor="middle" fill="#000" textLength="17.3" lengthAdjust="spacingAndGlyphs">S</text>
<text x="217" y="169" font-family='"Liberation Serif", "DejaVu Serif", serif' font-size="38" font-weight="bold" text-anchor="middle" fill="#000" textLength="31.2" lengthAdjust="spacingAndGlyphs">W</text>
<text x="442.5" y="169" font-family='"Liberation Serif", "DejaVu Serif", serif' font-size="38" font-weight="bold" text-anchor="middle" fill="#000" textLength="20.8" lengthAdjust="spacingAndGlyphs">E</text>
<text x="14.5" y="982.5" font-family='"Liberation Serif", "DejaVu Serif", serif' font-size="57" font-weight="bold" text-anchor="start" fill="#000" textLength="64.5" lengthAdjust="spacingAndGlyphs">(a)</text>
<g shape-rendering="crispEdges">
<rect x="140.5" y="1040.5" width="958.5" height="19.7" fill="url(#c0)"/>
<rect x="140.5" y="1040.5" width="958.5" height="19.7" fill="url(#c1)" mask="url(#vm)"/>
<rect x="140.5" y="1059.6" width="958.5" height="19.7" fill="url(#c1)"/>
<rect x="140.5" y="1059.6" width="958.5" height="19.7" fill="url(#c2)" mask="url(#vm)"/>
<rect x="140.5" y="1078.6" width="958.5" height="19.7" fill="url(#c2)"/>
<rect x="140.5" y="1078.6" width="958.5" height="19.7" fill="url(#c3)" mask="url(#vm)"/>
<rect x="140.5" y="1097.7" width="958.5" height="19.7" fill="url(#c3)"/>
<rect x="140.5" y="1097.7" width="958.5" height="19.7" fill="url(#c4)" mask="url(#vm)"/>
<rect x="140.5" y="1116.8" width="958.5" height="19.7" fill="url(#c4)"/>
<rect x="140.5" y="1116.8" width="958.5" height="19.7" fill="url(#c5)" mask="url(#vm)"/>
<rect x="140.5" y="1135.9" width="958.5" height="19.7" fill="url(#c5)"/>
<rect x="140.5" y="1135.9" width="958.5" height="19.7" fill="url(#c6)" mask="url(#vm)"/>
<rect x="140.5" y="1154.9" width="958.5" height="19.7" fill="url(#c6)"/>
<rect x="140.5" y="1154.9" width="958.5" height="19.7" fill="url(#c7)" mask="url(#vm)"/>
<rect x="140.5" y="1174" width="958.5" height="19.7" fill="url(#c7)"/>
<rect x="140.5" y="1174" width="958.5" height="19.7" fill="url(#c8)" mask="url(#vm)"/>
<rect x="140.5" y="1193.1" width="958.5" height="19.7" fill="url(#c8)"/>
<rect x="140.5" y="1193.1" width="958.5" height="19.7" fill="url(#c9)" mask="url(#vm)"/>
<rect x="140.5" y="1212.1" width="958.5" height="19.7" fill="url(#c9)"/>
<rect x="140.5" y="1212.1" width="958.5" height="19.7" fill="url(#c10)" mask="url(#vm)"/>
<rect x="140.5" y="1231.2" width="958.5" height="19.7" fill="url(#c10)"/>
<rect x="140.5" y="1231.2" width="958.5" height="19.7" fill="url(#c11)" mask="url(#vm)"/>
<rect x="140.5" y="1250.3" width="958.5" height="19.7" fill="url(#c11)"/>
<rect x="140.5" y="1250.3" width="958.5" height="19.7" fill="url(#c12)" mask="url(#vm)"/>
<rect x="140.5" y="1269.4" width="958.5" height="19.7" fill="url(#c12)"/>
<rect x="140.5" y="1269.4" width="958.5" height="19.7" fill="url(#c13)" mask="url(#vm)"/>
<rect x="140.5" y="1288.4" width="958.5" height="19.7" fill="url(#c13)"/>
<rect x="140.5" y="1288.4" width="958.5" height="19.7" fill="url(#c14)" mask="url(#vm)"/>
<rect x="140.5" y="1307.5" width="958.5" height="19.7" fill="url(#c14)"/>
<rect x="140.5" y="1307.5" width="958.5" height="19.7" fill="url(#c15)" mask="url(#vm)"/>
<rect x="140.5" y="1326.6" width="958.5" height="19.7" fill="url(#c15)"/>
<rect x="140.5" y="1326.6" width="958.5" height="19.7" fill="url(#c16)" mask="url(#vm)"/>
<rect x="140.5" y="1345.6" width="958.5" height="19.7" fill="url(#c16)"/>
<rect x="140.5" y="1345.6" width="958.5" height="19.7" fill="url(#c17)" mask="url(#vm)"/>
<rect x="140.5" y="1364.7" width="958.5" height="19.7" fill="url(#c17)"/>
<rect x="140.5" y="1364.7" width="958.5" height="19.7" fill="url(#c18)" mask="url(#vm)"/>
<rect x="140.5" y="1383.8" width="958.5" height="19.7" fill="url(#c18)"/>
<rect x="140.5" y="1383.8" width="958.5" height="19.7" fill="url(#c19)" mask="url(#vm)"/>
<rect x="140.5" y="1402.9" width="958.5" height="19.7" fill="url(#c19)"/>
<rect x="140.5" y="1402.9" width="958.5" height="19.7" fill="url(#c20)" mask="url(#vm)"/>
<rect x="140.5" y="1421.9" width="958.5" height="19.7" fill="url(#c20)"/>
<rect x="140.5" y="1421.9" width="958.5" height="19.7" fill="url(#c21)" mask="url(#vm)"/>
<rect x="140.5" y="1441" width="958.5" height="19.7" fill="url(#c21)"/>
<rect x="140.5" y="1441" width="958.5" height="19.7" fill="url(#c22)" mask="url(#vm)"/>
<rect x="140.5" y="1460.1" width="958.5" height="19.7" fill="url(#c22)"/>
<rect x="140.5" y="1460.1" width="958.5" height="19.7" fill="url(#c23)" mask="url(#vm)"/>
<rect x="140.5" y="1479.1" width="958.5" height="19.7" fill="url(#c23)"/>
<rect x="140.5" y="1479.1" width="958.5" height="19.7" fill="url(#c24)" mask="url(#vm)"/>
<rect x="140.5" y="1498.2" width="958.5" height="19.7" fill="url(#c24)"/>
<rect x="140.5" y="1498.2" width="958.5" height="19.7" fill="url(#c25)" mask="url(#vm)"/>
<rect x="140.5" y="1517.3" width="958.5" height="19.7" fill="url(#c25)"/>
<rect x="140.5" y="1517.3" width="958.5" height="19.7" fill="url(#c26)" mask="url(#vm)"/>
<rect x="140.5" y="1536.3" width="958.5" height="19.7" fill="url(#c26)"/>
<rect x="140.5" y="1536.3" width="958.5" height="19.7" fill="url(#c27)" mask="url(#vm)"/>
<rect x="140.5" y="1555.4" width="958.5" height="19.7" fill="url(#c27)"/>
<rect x="140.5" y="1555.4" width="958.5" height="19.7" fill="url(#c28)" mask="url(#vm)"/>
<rect x="140.5" y="1574.5" width="958.5" height="19.7" fill="url(#c28)"/>
<rect x="140.5" y="1574.5" width="958.5" height="19.7" fill="url(#c29)" mask="url(#vm)"/>
<rect x="140.5" y="1593.6" width="958.5" height="19.7" fill="url(#c29)"/>
<rect x="140.5" y="1593.6" width="958.5" height="19.7" fill="url(#c30)" mask="url(#vm)"/>
<rect x="140.5" y="1612.6" width="958.5" height="19.7" fill="url(#c30)"/>
<rect x="140.5" y="1612.6" width="958.5" height="19.7" fill="url(#c31)" mask="url(#vm)"/>
<rect x="140.5" y="1631.7" width="958.5" height="19.7" fill="url(#c31)"/>
<rect x="140.5" y="1631.7" width="958.5" height="19.7" fill="url(#c32)" mask="url(#vm)"/>
<rect x="140.5" y="1650.8" width="958.5" height="19.7" fill="url(#c32)"/>
<rect x="140.5" y="1650.8" width="958.5" height="19.7" fill="url(#c33)" mask="url(#vm)"/>
<rect x="140.5" y="1669.8" width="958.5" height="19.7" fill="url(#c33)"/>
<rect x="140.5" y="1669.8" width="958.5" height="19.7" fill="url(#c34)" mask="url(#vm)"/>
<rect x="140.5" y="1688.9" width="958.5" height="19.7" fill="url(#c34)"/>
<rect x="140.5" y="1688.9" width="958.5" height="19.7" fill="url(#c35)" mask="url(#vm)"/>
<rect x="140.5" y="1708" width="958.5" height="19.7" fill="url(#c35)"/>
<rect x="140.5" y="1708" width="958.5" height="19.7" fill="url(#c36)" mask="url(#vm)"/>
<rect x="140.5" y="1727.1" width="958.5" height="19.7" fill="url(#c36)"/>
<rect x="140.5" y="1727.1" width="958.5" height="19.7" fill="url(#c37)" mask="url(#vm)"/>
<rect x="140.5" y="1746.1" width="958.5" height="19.7" fill="url(#c37)"/>
<rect x="140.5" y="1746.1" width="958.5" height="19.7" fill="url(#c38)" mask="url(#vm)"/>
<rect x="140.5" y="1765.2" width="958.5" height="19.7" fill="url(#c38)"/>
<rect x="140.5" y="1765.2" width="958.5" height="19.7" fill="url(#c39)" mask="url(#vm)"/>
<rect x="140.5" y="1784.3" width="958.5" height="19.7" fill="url(#c39)"/>
<rect x="140.5" y="1784.3" width="958.5" height="19.7" fill="url(#c40)" mask="url(#vm)"/>
<rect x="140.5" y="1803.3" width="958.5" height="19.7" fill="url(#c40)"/>
<rect x="140.5" y="1803.3" width="958.5" height="19.7" fill="url(#c41)" mask="url(#vm)"/>
<rect x="140.5" y="1822.4" width="958.5" height="19.7" fill="url(#c41)"/>
<rect x="140.5" y="1822.4" width="958.5" height="19.7" fill="url(#c42)" mask="url(#vm)"/>
<rect x="140.5" y="1841.5" width="958.5" height="19.7" fill="url(#c42)"/>
<rect x="140.5" y="1841.5" width="958.5" height="19.7" fill="url(#c43)" mask="url(#vm)"/>
<rect x="140.5" y="1860.6" width="958.5" height="19.7" fill="url(#c43)"/>
<rect x="140.5" y="1860.6" width="958.5" height="19.7" fill="url(#c44)" mask="url(#vm)"/>
<rect x="140.5" y="1879.6" width="958.5" height="19.7" fill="url(#c44)"/>
<rect x="140.5" y="1879.6" width="958.5" height="19.7" fill="url(#c45)" mask="url(#vm)"/>
</g>
<g stroke="#f3e4ff" stroke-width="3" fill="none">
<path d="M160.3 1860.7v4.6M160.3 1876.1v4.6M160.3 1891.5v4.6M467.1 1429.5v4.6M467.1 1444.9v4.6M467.1 1460.3v4.6M467.1 1475.7v4.6M467.1 1491.1v4.6M467.1 1506.5v4.6M467.1 1521.9v4.6M467.1 1537.3v4.6M543.8 1090.7v4.6M543.8 1106.1v4.6M543.8 1121.5v4.6M543.8 1136.9v4.6M543.8 1152.3v4.6M543.8 1167.7v4.6M543.8 1183.1v4.6M543.8 1198.5v4.6M543.8 1213.9v4.6M543.8 1229.3v4.6M543.8 1244.7v4.6M543.8 1260.1v4.6M543.8 1275.5v4.6M543.8 1290.9v4.6M543.8 1306.3v4.6M543.8 1321.7v4.6M543.8 1337.1v4.6M543.8 1352.5v4.6M543.8 1367.9v4.6M543.8 1383.3v4.6M543.8 1398.7v4.6M543.8 1414.1v4.6M543.8 1429.5v4.6M543.8 1444.9v4.6M543.8 1460.3v4.6M543.8 1475.7v4.6M543.8 1491.1v4.6M543.8 1506.5v4.6M543.8 1521.9v4.6M543.8 1537.3v4.6M543.8 1552.7v4.6M543.8 1568.1v4.6M620.5 1106.1v4.6M620.5 1121.5v4.6M620.5 1136.9v4.6M620.5 1152.3v4.6M620.5 1167.7v4.6M620.5 1183.1v4.6M620.5 1198.5v4.6M620.5 1213.9v4.6M620.5 1229.3v4.6M620.5 1244.7v4.6M620.5 1260.1v4.6M620.5 1275.5v4.6M620.5 1290.9v4.6M620.5 1306.3v4.6M620.5 1321.7v4.6M620.5 1337.1v4.6M620.5 1352.5v4.6M620.5 1367.9v4.6M620.5 1383.3v4.6M620.5 1398.7v4.6M620.5 1414.1v4.6M620.5 1429.5v4.6M620.5 1444.9v4.6M620.5 1460.3v4.6M620.5 1475.7v4.6M620.5 1491.1v4.6M620.5 1506.5v4.6M620.5 1521.9v4.6M620.5 1537.3v4.6M697.2 1152.3v4.6M697.2 1167.7v4.6M697.2 1183.1v4.6M697.2 1198.5v4.6M697.2 1213.9v4.6M697.2 1229.3v4.6M697.2 1244.7v4.6M697.2 1260.1v4.6M697.2 1275.5v4.6M697.2 1290.9v4.6M697.2 1306.3v4.6M697.2 1321.7v4.6M697.2 1337.1v4.6M697.2 1352.5v4.6M697.2 1367.9v4.6M773.9 1167.7v4.6M773.9 1183.1v4.6M773.9 1198.5v4.6M773.9 1213.9v4.6M773.9 1229.3v4.6M773.9 1244.7v4.6M773.9 1260.1v4.6M773.9 1275.5v4.6M773.9 1290.9v4.6M773.9 1306.3v4.6M773.9 1321.7v4.6M773.9 1337.1v4.6M773.9 1352.5v4.6M773.9 1367.9v4.6M773.9 1383.3v4.6M773.9 1398.7v4.6M773.9 1414.1v4.6M773.9 1429.5v4.6M773.9 1444.9v4.6M773.9 1460.3v4.6M773.9 1475.7v4.6M773.9 1491.1v4.6M850.6 1183.1v4.6M850.6 1198.5v4.6M850.6 1213.9v4.6M850.6 1229.3v4.6M850.6 1244.7v4.6M850.6 1260.1v4.6M850.6 1275.5v4.6M850.6 1290.9v4.6M850.6 1306.3v4.6M850.6 1321.7v4.6M850.6 1337.1v4.6M850.6 1352.5v4.6M850.6 1367.9v4.6M850.6 1383.3v4.6M850.6 1398.7v4.6M850.6 1414.1v4.6M850.6 1429.5v4.6M850.6 1444.9v4.6M850.6 1460.3v4.6M850.6 1475.7v4.6M850.6 1491.1v4.6M850.6 1506.5v4.6M850.6 1521.9v4.6M850.6 1537.3v4.6M850.6 1552.7v4.6M927.3 1152.3v4.6M927.3 1167.7v4.6M927.3 1183.1v4.6M927.3 1198.5v4.6M927.3 1213.9v4.6M927.3 1229.3v4.6M927.3 1244.7v4.6M927.3 1260.1v4.6M927.3 1275.5v4.6M927.3 1290.9v4.6M927.3 1306.3v4.6M927.3 1321.7v4.6M927.3 1337.1v4.6M927.3 1352.5v4.6M927.3 1367.9v4.6M927.3 1383.3v4.6M927.3 1398.7v4.6M927.3 1414.1v4.6M927.3 1429.5v4.6M927.3 1444.9v4.6M927.3 1460.3v4.6M927.3 1475.7v4.6M927.3 1491.1v4.6M927.3 1506.5v4.6M927.3 1521.9v4.6M927.3 1537.3v4.6M927.3 1552.7v4.6M927.3 1568.1v4.6M1004 1044.5v4.6M1004 1059.9v4.6M1004 1075.3v4.6M1004 1090.7v4.6M1004 1106.1v4.6M1004 1121.5v4.6M1004 1136.9v4.6M1004 1152.3v4.6M1004 1167.7v4.6M1004 1183.1v4.6M1004 1198.5v4.6M1004 1213.9v4.6M1004 1229.3v4.6M1004 1244.7v4.6M1004 1260.1v4.6M1004 1275.5v4.6M1004 1290.9v4.6M1004 1306.3v4.6M1004 1321.7v4.6M1004 1337.1v4.6M1004 1352.5v4.6M1004 1367.9v4.6M1004 1383.3v4.6M1004 1398.7v4.6M1004 1414.1v4.6M1004 1429.5v4.6M1004 1444.9v4.6M1004 1460.3v4.6M1004 1475.7v4.6M1004 1491.1v4.6M1004 1506.5v4.6M1004 1521.9v4.6M1004 1537.3v4.6M1004 1552.7v4.6M1004 1568.1v4.6M1080.7 1044.5v4.6M1080.7 1059.9v4.6M1080.7 1075.3v4.6M1080.7 1090.7v4.6M1080.7 1106.1v4.6M1080.7 1121.5v4.6M1080.7 1136.9v4.6M1080.7 1152.3v4.6M1080.7 1167.7v4.6M1080.7 1183.1v4.6M1080.7 1198.5v4.6M1080.7 1213.9v4.6M1080.7 1229.3v4.6M1080.7 1244.7v4.6M1080.7 1260.1v4.6M1080.7 1275.5v4.6M1080.7 1290.9v4.6M1080.7 1306.3v4.6M1080.7 1321.7v4.6M1080.7 1337.1v4.6M1080.7 1352.5v4.6M1080.7 1367.9v4.6M1080.7 1383.3v4.6M1080.7 1398.7v4.6M1080.7 1414.1v4.6M1080.7 1429.5v4.6M1080.7 1444.9v4.6M1080.7 1460.3v4.6M1080.7 1475.7v4.6M1080.7 1491.1v4.6M1080.7 1506.5v4.6M1080.7 1521.9v4.6M1080.7 1537.3v4.6M1080.7 1552.7v4.6M1080.7 1568.1v4.6M531.5 1093.3h4.6M546.9 1093.3h4.6M562.3 1093.3h4.6M577.7 1093.3h4.6M593.1 1093.3h4.6M608.5 1093.3h4.6M947.3 1093.3h4.6M962.7 1093.3h4.6M978.1 1093.3h4.6M993.5 1093.3h4.6M1008.9 1093.3h4.6M1024.3 1093.3h4.6M1039.7 1093.3h4.6M1055.1 1093.3h4.6M1070.5 1093.3h4.6M1085.9 1093.3h4.6M500.7 1162h4.6M516.1 1162h4.6M531.5 1162h4.6M546.9 1162h4.6M562.3 1162h4.6M577.7 1162h4.6M593.1 1162h4.6M608.5 1162h4.6M623.9 1162h4.6M639.3 1162h4.6M654.7 1162h4.6M670.1 1162h4.6M685.5 1162h4.6M700.9 1162h4.6M716.3 1162h4.6M731.7 1162h4.6M747.1 1162h4.6M916.5 1162h4.6M931.9 1162h4.6M947.3 1162h4.6M962.7 1162h4.6M978.1 1162h4.6M993.5 1162h4.6M1008.9 1162h4.6M1024.3 1162h4.6M1039.7 1162h4.6M1055.1 1162h4.6M1070.5 1162h4.6M1085.9 1162h4.6M485.3 1230.7h4.6M500.7 1230.7h4.6M516.1 1230.7h4.6M531.5 1230.7h4.6M546.9 1230.7h4.6M562.3 1230.7h4.6M577.7 1230.7h4.6M593.1 1230.7h4.6M608.5 1230.7h4.6M623.9 1230.7h4.6M639.3 1230.7h4.6M654.7 1230.7h4.6M670.1 1230.7h4.6M685.5 1230.7h4.6M700.9 1230.7h4.6M716.3 1230.7h4.6M731.7 1230.7h4.6M747.1 1230.7h4.6M762.5 1230.7h4.6M777.9 1230.7h4.6M793.3 1230.7h4.6M808.7 1230.7h4.6M824.1 1230.7h4.6M839.5 1230.7h4.6M854.9 1230.7h4.6M870.3 1230.7h4.6M885.7 1230.7h4.6M901.1 1230.7h4.6M916.5 1230.7h4.6M931.9 1230.7h4.6M947.3 1230.7h4.6M962.7 1230.7h4.6M978.1 1230.7h4.6M993.5 1230.7h4.6M1008.9 1230.7h4.6M1024.3 1230.7h4.6M1039.7 1230.7h4.6M1055.1 1230.7h4.6M1070.5 1230.7h4.6M1085.9 1230.7h4.6M485.3 1299.3h4.6M500.7 1299.3h4.6M516.1 1299.3h4.6M531.5 1299.3h4.6M546.9 1299.3h4.6M562.3 1299.3h4.6M577.7 1299.3h4.6M593.1 1299.3h4.6M608.5 1299.3h4.6M623.9 1299.3h4.6M639.3 1299.3h4.6M654.7 1299.3h4.6M670.1 1299.3h4.6M685.5 1299.3h4.6M700.9 1299.3h4.6M716.3 1299.3h4.6M731.7 1299.3h4.6M747.1 1299.3h4.6M762.5 1299.3h4.6M777.9 1299.3h4.6M793.3 1299.3h4.6M808.7 1299.3h4.6M824.1 1299.3h4.6M839.5 1299.3h4.6M854.9 1299.3h4.6M870.3 1299.3h4.6M885.7 1299.3h4.6M901.1 1299.3h4.6M916.5 1299.3h4.6M931.9 1299.3h4.6M947.3 1299.3h4.6M962.7 1299.3h4.6M978.1 1299.3h4.6M993.5 1299.3h4.6M1008.9 1299.3h4.6M1024.3 1299.3h4.6M1039.7 1299.3h4.6M1055.1 1299.3h4.6M1070.5 1299.3h4.6M1085.9 1299.3h4.6M469.9 1368h4.6M485.3 1368h4.6M500.7 1368h4.6M516.1 1368h4.6M531.5 1368h4.6M546.9 1368h4.6M562.3 1368h4.6M577.7 1368h4.6M593.1 1368h4.6M608.5 1368h4.6M623.9 1368h4.6M639.3 1368h4.6M654.7 1368h4.6M670.1 1368h4.6M685.5 1368h4.6M700.9 1368h4.6M716.3 1368h4.6M731.7 1368h4.6M747.1 1368h4.6M762.5 1368h4.6M777.9 1368h4.6M793.3 1368h4.6M808.7 1368h4.6M824.1 1368h4.6M839.5 1368h4.6M854.9 1368h4.6M870.3 1368h4.6M885.7 1368h4.6M901.1 1368h4.6M916.5 1368h4.6M931.9 1368h4.6M947.3 1368h4.6M962.7 1368h4.6M978.1 1368h4.6M993.5 1368h4.6M1008.9 1368h4.6M1024.3 1368h4.6M1039.7 1368h4.6M1055.1 1368h4.6M1070.5 1368h4.6M1085.9 1368h4.6M469.9 1436.7h4.6M485.3 1436.7h4.6M500.7 1436.7h4.6M516.1 1436.7h4.6M531.5 1436.7h4.6M546.9 1436.7h4.6M562.3 1436.7h4.6M577.7 1436.7h4.6M593.1 1436.7h4.6M608.5 1436.7h4.6M623.9 1436.7h4.6M639.3 1436.7h4.6M654.7 1436.7h4.6M777.9 1436.7h4.6M793.3 1436.7h4.6M808.7 1436.7h4.6M824.1 1436.7h4.6M839.5 1436.7h4.6M854.9 1436.7h4.6M870.3 1436.7h4.6M885.7 1436.7h4.6M901.1 1436.7h4.6M916.5 1436.7h4.6M931.9 1436.7h4.6M947.3 1436.7h4.6M962.7 1436.7h4.6M978.1 1436.7h4.6M993.5 1436.7h4.6M1008.9 1436.7h4.6M1024.3 1436.7h4.6M1039.7 1436.7h4.6M1055.1 1436.7h4.6M1070.5 1436.7h4.6M1085.9 1436.7h4.6M469.9 1505.4h4.6M485.3 1505.4h4.6M500.7 1505.4h4.6M516.1 1505.4h4.6M531.5 1505.4h4.6M546.9 1505.4h4.6M562.3 1505.4h4.6M577.7 1505.4h4.6M593.1 1505.4h4.6M608.5 1505.4h4.6M623.9 1505.4h4.6M639.3 1505.4h4.6M777.9 1505.4h4.6M793.3 1505.4h4.6M808.7 1505.4h4.6M824.1 1505.4h4.6M839.5 1505.4h4.6M854.9 1505.4h4.6M870.3 1505.4h4.6M885.7 1505.4h4.6M901.1 1505.4h4.6M916.5 1505.4h4.6M931.9 1505.4h4.6M947.3 1505.4h4.6M962.7 1505.4h4.6M978.1 1505.4h4.6M993.5 1505.4h4.6M1008.9 1505.4h4.6M1024.3 1505.4h4.6M1039.7 1505.4h4.6M1055.1 1505.4h4.6M1070.5 1505.4h4.6M1085.9 1505.4h4.6M500.7 1574.1h4.6M516.1 1574.1h4.6M531.5 1574.1h4.6M546.9 1574.1h4.6M562.3 1574.1h4.6M870.3 1574.1h4.6M885.7 1574.1h4.6M901.1 1574.1h4.6M916.5 1574.1h4.6M931.9 1574.1h4.6M947.3 1574.1h4.6M962.7 1574.1h4.6M978.1 1574.1h4.6M993.5 1574.1h4.6M1008.9 1574.1h4.6M1024.3 1574.1h4.6M1039.7 1574.1h4.6M1055.1 1574.1h4.6M1070.5 1574.1h4.6M1085.9 1574.1h4.6M146.5 1848.8h4.6" opacity="0.88"/>
<path d="M160.3 1044.5v4.6M160.3 1059.9v4.6M160.3 1075.3v4.6M160.3 1090.7v4.6M160.3 1106.1v4.6M160.3 1121.5v4.6M160.3 1136.9v4.6M160.3 1152.3v4.6M160.3 1167.7v4.6M160.3 1183.1v4.6M160.3 1768.3v4.6M160.3 1783.7v4.6M160.3 1799.1v4.6M160.3 1814.5v4.6M160.3 1829.9v4.6M160.3 1845.3v4.6M237 1722.1v4.6M237 1737.5v4.6M237 1752.9v4.6M237 1768.3v4.6M237 1783.7v4.6M313.7 1660.5v4.6M313.7 1675.9v4.6M313.7 1691.3v4.6M313.7 1706.7v4.6M313.7 1722.1v4.6M313.7 1737.5v4.6M313.7 1752.9v4.6M390.4 1598.9v4.6M390.4 1614.3v4.6M390.4 1629.7v4.6M390.4 1645.1v4.6M390.4 1660.5v4.6M390.4 1675.9v4.6M390.4 1691.3v4.6M390.4 1706.7v4.6M467.1 1121.5v4.6M467.1 1136.9v4.6M467.1 1152.3v4.6M467.1 1167.7v4.6M467.1 1183.1v4.6M467.1 1198.5v4.6M467.1 1213.9v4.6M467.1 1229.3v4.6M467.1 1244.7v4.6M467.1 1260.1v4.6M467.1 1275.5v4.6M467.1 1290.9v4.6M467.1 1306.3v4.6M467.1 1321.7v4.6M467.1 1337.1v4.6M467.1 1352.5v4.6M467.1 1367.9v4.6M467.1 1383.3v4.6M467.1 1398.7v4.6M467.1 1414.1v4.6M467.1 1552.7v4.6M467.1 1568.1v4.6M467.1 1583.5v4.6M467.1 1598.9v4.6M467.1 1614.3v4.6M467.1 1629.7v4.6M543.8 1044.5v4.6M543.8 1059.9v4.6M543.8 1075.3v4.6M543.8 1583.5v4.6M543.8 1598.9v4.6M543.8 1614.3v4.6M620.5 1044.5v4.6M620.5 1059.9v4.6M620.5 1075.3v4.6M620.5 1090.7v4.6M620.5 1552.7v4.6M620.5 1568.1v4.6M697.2 1075.3v4.6M697.2 1090.7v4.6M697.2 1106.1v4.6M697.2 1121.5v4.6M697.2 1136.9v4.6M697.2 1383.3v4.6M697.2 1398.7v4.6M697.2 1414.1v4.6M697.2 1429.5v4.6M697.2 1444.9v4.6M697.2 1460.3v4.6M697.2 1475.7v4.6M697.2 1491.1v4.6M697.2 1506.5v4.6M697.2 1521.9v4.6M697.2 1537.3v4.6M773.9 1075.3v4.6M773.9 1090.7v4.6M773.9 1106.1v4.6M773.9 1121.5v4.6M773.9 1136.9v4.6M773.9 1152.3v4.6M773.9 1506.5v4.6M773.9 1521.9v4.6M773.9 1537.3v4.6M773.9 1552.7v4.6M850.6 1044.5v4.6M850.6 1059.9v4.6M850.6 1075.3v4.6M850.6 1090.7v4.6M850.6 1106.1v4.6M850.6 1121.5v4.6M850.6 1136.9v4.6M850.6 1152.3v4.6M850.6 1167.7v4.6M850.6 1568.1v4.6M850.6 1583.5v4.6M927.3 1044.5v4.6M927.3 1059.9v4.6M927.3 1075.3v4.6M927.3 1090.7v4.6M927.3 1106.1v4.6M927.3 1121.5v4.6M927.3 1136.9v4.6M927.3 1583.5v4.6M1004 1583.5v4.6M1080.7 1583.5v4.6M146.5 1093.3h4.6M161.9 1093.3h4.6M485.3 1093.3h4.6M500.7 1093.3h4.6M516.1 1093.3h4.6M623.9 1093.3h4.6M639.3 1093.3h4.6M654.7 1093.3h4.6M670.1 1093.3h4.6M685.5 1093.3h4.6M700.9 1093.3h4.6M716.3 1093.3h4.6M731.7 1093.3h4.6M747.1 1093.3h4.6M762.5 1093.3h4.6M777.9 1093.3h4.6M793.3 1093.3h4.6M808.7 1093.3h4.6M824.1 1093.3h4.6M839.5 1093.3h4.6M854.9 1093.3h4.6M870.3 1093.3h4.6M885.7 1093.3h4.6M901.1 1093.3h4.6M916.5 1093.3h4.6M931.9 1093.3h4.6M146.5 1162h4.6M161.9 1162h4.6M469.9 1162h4.6M485.3 1162h4.6M762.5 1162h4.6M777.9 1162h4.6M793.3 1162h4.6M808.7 1162h4.6M824.1 1162h4.6M839.5 1162h4.6M854.9 1162h4.6M870.3 1162h4.6M885.7 1162h4.6M901.1 1162h4.6M454.5 1230.7h4.6M469.9 1230.7h4.6M454.5 1299.3h4.6M469.9 1299.3h4.6M454.5 1368h4.6M439.1 1436.7h4.6M454.5 1436.7h4.6M670.1 1436.7h4.6M685.5 1436.7h4.6M700.9 1436.7h4.6M716.3 1436.7h4.6M731.7 1436.7h4.6M747.1 1436.7h4.6M762.5 1436.7h4.6M423.7 1505.4h4.6M439.1 1505.4h4.6M454.5 1505.4h4.6M654.7 1505.4h4.6M670.1 1505.4h4.6M685.5 1505.4h4.6M700.9 1505.4h4.6M716.3 1505.4h4.6M731.7 1505.4h4.6M747.1 1505.4h4.6M762.5 1505.4h4.6M408.3 1574.1h4.6M423.7 1574.1h4.6M439.1 1574.1h4.6M454.5 1574.1h4.6M469.9 1574.1h4.6M485.3 1574.1h4.6M577.7 1574.1h4.6M593.1 1574.1h4.6M608.5 1574.1h4.6M623.9 1574.1h4.6M808.7 1574.1h4.6M824.1 1574.1h4.6M839.5 1574.1h4.6M854.9 1574.1h4.6M346.7 1642.7h4.6M362.1 1642.7h4.6M377.5 1642.7h4.6M392.9 1642.7h4.6M408.3 1642.7h4.6M423.7 1642.7h4.6M439.1 1642.7h4.6M454.5 1642.7h4.6M469.9 1642.7h4.6M254.3 1711.4h4.6M269.7 1711.4h4.6M285.1 1711.4h4.6M300.5 1711.4h4.6M315.9 1711.4h4.6M331.3 1711.4h4.6M346.7 1711.4h4.6M362.1 1711.4h4.6M377.5 1711.4h4.6M146.5 1780.1h4.6M161.9 1780.1h4.6M177.3 1780.1h4.6M192.7 1780.1h4.6M208.1 1780.1h4.6M223.5 1780.1h4.6M238.9 1780.1h4.6M254.3 1780.1h4.6M161.9 1848.8h4.6M177.3 1848.8h4.6M192.7 1848.8h4.6M208.1 1848.8h4.6" opacity="0.55"/>
<path d="M160.3 1198.5v4.6M160.3 1213.9v4.6M160.3 1229.3v4.6M160.3 1244.7v4.6M160.3 1737.5v4.6M160.3 1752.9v4.6M237 1675.9v4.6M237 1691.3v4.6M237 1706.7v4.6M237 1799.1v4.6M237 1814.5v4.6M237 1829.9v4.6M237 1845.3v4.6M237 1860.7v4.6M237 1876.1v4.6M237 1891.5v4.6M313.7 1629.7v4.6M313.7 1645.1v4.6M313.7 1768.3v4.6M313.7 1783.7v4.6M313.7 1799.1v4.6M390.4 1506.5v4.6M390.4 1521.9v4.6M390.4 1537.3v4.6M390.4 1552.7v4.6M390.4 1568.1v4.6M390.4 1583.5v4.6M390.4 1722.1v4.6M390.4 1737.5v4.6M390.4 1752.9v4.6M467.1 1044.5v4.6M467.1 1059.9v4.6M467.1 1075.3v4.6M467.1 1090.7v4.6M467.1 1106.1v4.6M467.1 1645.1v4.6M467.1 1660.5v4.6M467.1 1675.9v4.6M543.8 1629.7v4.6M620.5 1583.5v4.6M620.5 1598.9v4.6M697.2 1044.5v4.6M697.2 1059.9v4.6M697.2 1552.7v4.6M697.2 1568.1v4.6M697.2 1722.1v4.6M697.2 1737.5v4.6M697.2 1752.9v4.6M697.2 1768.3v4.6M773.9 1044.5v4.6M773.9 1059.9v4.6M773.9 1568.1v4.6M773.9 1691.3v4.6M773.9 1706.7v4.6M773.9 1722.1v4.6M773.9 1737.5v4.6M773.9 1752.9v4.6M773.9 1768.3v4.6M773.9 1783.7v4.6M773.9 1799.1v4.6M773.9 1814.5v4.6M773.9 1829.9v4.6M773.9 1845.3v4.6M850.6 1691.3v4.6M850.6 1706.7v4.6M850.6 1722.1v4.6M850.6 1737.5v4.6M850.6 1752.9v4.6M850.6 1768.3v4.6M850.6 1783.7v4.6M850.6 1799.1v4.6M850.6 1814.5v4.6M850.6 1829.9v4.6M850.6 1845.3v4.6M850.6 1860.7v4.6M850.6 1876.1v4.6M850.6 1891.5v4.6M927.3 1598.9v4.6M927.3 1691.3v4.6M927.3 1706.7v4.6M927.3 1722.1v4.6M927.3 1737.5v4.6M927.3 1752.9v4.6M927.3 1768.3v4.6M927.3 1783.7v4.6M927.3 1799.1v4.6M927.3 1814.5v4.6M927.3 1829.9v4.6M927.3 1845.3v4.6M927.3 1860.7v4.6M927.3 1876.1v4.6M927.3 1891.5v4.6M1004 1598.9v4.6M1004 1706.7v4.6M1004 1722.1v4.6M1004 1737.5v4.6M1004 1752.9v4.6M1004 1768.3v4.6M1004 1783.7v4.6M1004 1799.1v4.6M1004 1814.5v4.6M1004 1829.9v4.6M1004 1845.3v4.6M1004 1860.7v4.6M1004 1876.1v4.6M1004 1891.5v4.6M1080.7 1598.9v4.6M1080.7 1706.7v4.6M1080.7 1722.1v4.6M1080.7 1737.5v4.6M1080.7 1752.9v4.6M1080.7 1768.3v4.6M1080.7 1783.7v4.6M1080.7 1799.1v4.6M1080.7 1814.5v4.6M1080.7 1829.9v4.6M1080.7 1845.3v4.6M1080.7 1860.7v4.6M1080.7 1876.1v4.6M1080.7 1891.5v4.6M177.3 1093.3h4.6M454.5 1093.3h4.6M469.9 1093.3h4.6M177.3 1162h4.6M439.1 1162h4.6M454.5 1162h4.6M146.5 1230.7h4.6M161.9 1230.7h4.6M439.1 1230.7h4.6M439.1 1299.3h4.6M423.7 1368h4.6M439.1 1368h4.6M408.3 1436.7h4.6M423.7 1436.7h4.6M392.9 1505.4h4.6M408.3 1505.4h4.6M362.1 1574.1h4.6M377.5 1574.1h4.6M392.9 1574.1h4.6M639.3 1574.1h4.6M654.7 1574.1h4.6M670.1 1574.1h4.6M685.5 1574.1h4.6M700.9 1574.1h4.6M716.3 1574.1h4.6M731.7 1574.1h4.6M747.1 1574.1h4.6M762.5 1574.1h4.6M777.9 1574.1h4.6M793.3 1574.1h4.6M285.1 1642.7h4.6M300.5 1642.7h4.6M315.9 1642.7h4.6M331.3 1642.7h4.6M485.3 1642.7h4.6M500.7 1642.7h4.6M516.1 1642.7h4.6M531.5 1642.7h4.6M192.7 1711.4h4.6M208.1 1711.4h4.6M223.5 1711.4h4.6M238.9 1711.4h4.6M392.9 1711.4h4.6M408.3 1711.4h4.6M423.7 1711.4h4.6M439.1 1711.4h4.6M700.9 1711.4h4.6M716.3 1711.4h4.6M731.7 1711.4h4.6M747.1 1711.4h4.6M762.5 1711.4h4.6M777.9 1711.4h4.6M793.3 1711.4h4.6M808.7 1711.4h4.6M824.1 1711.4h4.6M839.5 1711.4h4.6M854.9 1711.4h4.6M870.3 1711.4h4.6M885.7 1711.4h4.6M901.1 1711.4h4.6M916.5 1711.4h4.6M931.9 1711.4h4.6M947.3 1711.4h4.6M962.7 1711.4h4.6M978.1 1711.4h4.6M993.5 1711.4h4.6M1008.9 1711.4h4.6M1024.3 1711.4h4.6M1039.7 1711.4h4.6M1055.1 1711.4h4.6M1070.5 1711.4h4.6M1085.9 1711.4h4.6M269.7 1780.1h4.6M285.1 1780.1h4.6M300.5 1780.1h4.6M315.9 1780.1h4.6M331.3 1780.1h4.6M346.7 1780.1h4.6M700.9 1780.1h4.6M716.3 1780.1h4.6M731.7 1780.1h4.6M747.1 1780.1h4.6M762.5 1780.1h4.6M777.9 1780.1h4.6M793.3 1780.1h4.6M808.7 1780.1h4.6M824.1 1780.1h4.6M839.5 1780.1h4.6M854.9 1780.1h4.6M870.3 1780.1h4.6M885.7 1780.1h4.6M901.1 1780.1h4.6M916.5 1780.1h4.6M931.9 1780.1h4.6M947.3 1780.1h4.6M962.7 1780.1h4.6M978.1 1780.1h4.6M993.5 1780.1h4.6M1008.9 1780.1h4.6M1024.3 1780.1h4.6M1039.7 1780.1h4.6M1055.1 1780.1h4.6M1070.5 1780.1h4.6M1085.9 1780.1h4.6M223.5 1848.8h4.6M238.9 1848.8h4.6M254.3 1848.8h4.6M762.5 1848.8h4.6M777.9 1848.8h4.6M793.3 1848.8h4.6M808.7 1848.8h4.6M824.1 1848.8h4.6M839.5 1848.8h4.6M854.9 1848.8h4.6M870.3 1848.8h4.6M885.7 1848.8h4.6M901.1 1848.8h4.6M916.5 1848.8h4.6M931.9 1848.8h4.6M947.3 1848.8h4.6M962.7 1848.8h4.6M978.1 1848.8h4.6M993.5 1848.8h4.6M1008.9 1848.8h4.6M1024.3 1848.8h4.6M1039.7 1848.8h4.6M1055.1 1848.8h4.6M1070.5 1848.8h4.6M1085.9 1848.8h4.6" opacity="0.29"/>
<path d="M160.3 1260.1v4.6M160.3 1275.5v4.6M160.3 1290.9v4.6M160.3 1306.3v4.6M160.3 1321.7v4.6M160.3 1337.1v4.6M160.3 1352.5v4.6M160.3 1367.9v4.6M160.3 1383.3v4.6M160.3 1398.7v4.6M160.3 1414.1v4.6M160.3 1429.5v4.6M160.3 1444.9v4.6M160.3 1460.3v4.6M160.3 1475.7v4.6M160.3 1491.1v4.6M160.3 1506.5v4.6M160.3 1521.9v4.6M160.3 1537.3v4.6M160.3 1552.7v4.6M160.3 1568.1v4.6M160.3 1583.5v4.6M160.3 1598.9v4.6M160.3 1614.3v4.6M160.3 1629.7v4.6M160.3 1645.1v4.6M160.3 1660.5v4.6M160.3 1675.9v4.6M160.3 1691.3v4.6M160.3 1706.7v4.6M160.3 1722.1v4.6M237 1044.5v4.6M237 1059.9v4.6M237 1075.3v4.6M237 1090.7v4.6M237 1106.1v4.6M237 1121.5v4.6M237 1136.9v4.6M237 1152.3v4.6M237 1167.7v4.6M237 1183.1v4.6M237 1198.5v4.6M237 1213.9v4.6M237 1229.3v4.6M237 1244.7v4.6M237 1260.1v4.6M237 1275.5v4.6M237 1290.9v4.6M237 1306.3v4.6M237 1321.7v4.6M237 1337.1v4.6M237 1352.5v4.6M237 1367.9v4.6M237 1383.3v4.6M237 1398.7v4.6M237 1414.1v4.6M237 1429.5v4.6M237 1444.9v4.6M237 1460.3v4.6M237 1475.7v4.6M237 1491.1v4.6M237 1506.5v4.6M237 1521.9v4.6M237 1537.3v4.6M237 1552.7v4.6M237 1568.1v4.6M237 1583.5v4.6M237 1598.9v4.6M237 1614.3v4.6M237 1629.7v4.6M237 1645.1v4.6M237 1660.5v4.6M313.7 1044.5v4.6M313.7 1059.9v4.6M313.7 1075.3v4.6M313.7 1090.7v4.6M313.7 1106.1v4.6M313.7 1121.5v4.6M313.7 1136.9v4.6M313.7 1152.3v4.6M313.7 1167.7v4.6M313.7 1183.1v4.6M313.7 1198.5v4.6M313.7 1213.9v4.6M313.7 1229.3v4.6M313.7 1244.7v4.6M313.7 1260.1v4.6M313.7 1275.5v4.6M313.7 1290.9v4.6M313.7 1306.3v4.6M313.7 1321.7v4.6M313.7 1337.1v4.6M313.7 1352.5v4.6M313.7 1367.9v4.6M313.7 1383.3v4.6M313.7 1398.7v4.6M313.7 1414.1v4.6M313.7 1429.5v4.6M313.7 1444.9v4.6M313.7 1460.3v4.6M313.7 1475.7v4.6M313.7 1491.1v4.6M313.7 1506.5v4.6M313.7 1521.9v4.6M313.7 1537.3v4.6M313.7 1552.7v4.6M313.7 1568.1v4.6M313.7 1583.5v4.6M313.7 1598.9v4.6M313.7 1614.3v4.6M313.7 1814.5v4.6M313.7 1829.9v4.6M313.7 1845.3v4.6M313.7 1860.7v4.6M313.7 1876.1v4.6M313.7 1891.5v4.6M390.4 1044.5v4.6M390.4 1059.9v4.6M390.4 1075.3v4.6M390.4 1090.7v4.6M390.4 1106.1v4.6M390.4 1121.5v4.6M390.4 1136.9v4.6M390.4 1152.3v4.6M390.4 1167.7v4.6M390.4 1183.1v4.6M390.4 1198.5v4.6M390.4 1213.9v4.6M390.4 1229.3v4.6M390.4 1244.7v4.6M390.4 1260.1v4.6M390.4 1275.5v4.6M390.4 1290.9v4.6M390.4 1306.3v4.6M390.4 1321.7v4.6M390.4 1337.1v4.6M390.4 1352.5v4.6M390.4 1367.9v4.6M390.4 1383.3v4.6M390.4 1398.7v4.6M390.4 1414.1v4.6M390.4 1429.5v4.6M390.4 1444.9v4.6M390.4 1460.3v4.6M390.4 1475.7v4.6M390.4 1491.1v4.6M390.4 1768.3v4.6M390.4 1783.7v4.6M390.4 1799.1v4.6M390.4 1814.5v4.6M390.4 1829.9v4.6M390.4 1845.3v4.6M390.4 1860.7v4.6M390.4 1876.1v4.6M390.4 1891.5v4.6M467.1 1691.3v4.6M467.1 1706.7v4.6M467.1 1722.1v4.6M467.1 1737.5v4.6M467.1 1752.9v4.6M467.1 1768.3v4.6M467.1 1783.7v4.6M467.1 1799.1v4.6M467.1 1814.5v4.6M467.1 1829.9v4.6M467.1 1845.3v4.6M467.1 1860.7v4.6M467.1 1876.1v4.6M467.1 1891.5v4.6M543.8 1645.1v4.6M543.8 1660.5v4.6M543.8 1675.9v4.6M543.8 1691.3v4.6M543.8 1706.7v4.6M543.8 1722.1v4.6M543.8 1737.5v4.6M543.8 1752.9v4.6M543.8 1768.3v4.6M543.8 1783.7v4.6M543.8 1799.1v4.6M543.8 1814.5v4.6M543.8 1829.9v4.6M543.8 1845.3v4.6M543.8 1860.7v4.6M543.8 1876.1v4.6M543.8 1891.5v4.6M620.5 1614.3v4.6M620.5 1629.7v4.6M620.5 1645.1v4.6M620.5 1660.5v4.6M620.5 1675.9v4.6M620.5 1691.3v4.6M620.5 1706.7v4.6M620.5 1722.1v4.6M620.5 1737.5v4.6M620.5 1752.9v4.6M620.5 1768.3v4.6M620.5 1783.7v4.6M620.5 1799.1v4.6M620.5 1814.5v4.6M620.5 1829.9v4.6M620.5 1845.3v4.6M620.5 1860.7v4.6M620.5 1876.1v4.6M620.5 1891.5v4.6M697.2 1583.5v4.6M697.2 1598.9v4.6M697.2 1614.3v4.6M697.2 1629.7v4.6M697.2 1645.1v4.6M697.2 1660.5v4.6M697.2 1675.9v4.6M697.2 1691.3v4.6M697.2 1706.7v4.6M697.2 1783.7v4.6M697.2 1799.1v4.6M697.2 1814.5v4.6M697.2 1829.9v4.6M697.2 1845.3v4.6M697.2 1860.7v4.6M697.2 1876.1v4.6M697.2 1891.5v4.6M773.9 1583.5v4.6M773.9 1598.9v4.6M773.9 1614.3v4.6M773.9 1629.7v4.6M773.9 1645.1v4.6M773.9 1660.5v4.6M773.9 1675.9v4.6M773.9 1860.7v4.6M773.9 1876.1v4.6M773.9 1891.5v4.6M850.6 1598.9v4.6M850.6 1614.3v4.6M850.6 1629.7v4.6M850.6 1645.1v4.6M850.6 1660.5v4.6M850.6 1675.9v4.6M927.3 1614.3v4.6M927.3 1629.7v4.6M927.3 1645.1v4.6M927.3 1660.5v4.6M927.3 1675.9v4.6M1004 1614.3v4.6M1004 1629.7v4.6M1004 1645.1v4.6M1004 1660.5v4.6M1004 1675.9v4.6M1004 1691.3v4.6M1080.7 1614.3v4.6M1080.7 1629.7v4.6M1080.7 1645.1v4.6M1080.7 1660.5v4.6M1080.7 1675.9v4.6M1080.7 1691.3v4.6M192.7 1093.3h4.6M208.1 1093.3h4.6M223.5 1093.3h4.6M238.9 1093.3h4.6M254.3 1093.3h4.6M269.7 1093.3h4.6M285.1 1093.3h4.6M300.5 1093.3h4.6M315.9 1093.3h4.6M331.3 1093.3h4.6M346.7 1093.3h4.6M362.1 1093.3h4.6M377.5 1093.3h4.6M392.9 1093.3h4.6M408.3 1093.3h4.6M423.7 1093.3h4.6M439.1 1093.3h4.6M192.7 1162h4.6M208.1 1162h4.6M223.5 1162h4.6M238.9 1162h4.6M254.3 1162h4.6M269.7 1162h4.6M285.1 1162h4.6M300.5 1162h4.6M315.9 1162h4.6M331.3 1162h4.6M346.7 1162h4.6M362.1 1162h4.6M377.5 1162h4.6M392.9 1162h4.6M408.3 1162h4.6M423.7 1162h4.6M177.3 1230.7h4.6M192.7 1230.7h4.6M208.1 1230.7h4.6M223.5 1230.7h4.6M238.9 1230.7h4.6M254.3 1230.7h4.6M269.7 1230.7h4.6M285.1 1230.7h4.6M300.5 1230.7h4.6M315.9 1230.7h4.6M331.3 1230.7h4.6M346.7 1230.7h4.6M362.1 1230.7h4.6M377.5 1230.7h4.6M392.9 1230.7h4.6M408.3 1230.7h4.6M423.7 1230.7h4.6M146.5 1299.3h4.6M161.9 1299.3h4.6M177.3 1299.3h4.6M192.7 1299.3h4.6M208.1 1299.3h4.6M223.5 1299.3h4.6M238.9 1299.3h4.6M254.3 1299.3h4.6M269.7 1299.3h4.6M285.1 1299.3h4.6M300.5 1299.3h4.6M315.9 1299.3h4.6M331.3 1299.3h4.6M346.7 1299.3h4.6M362.1 1299.3h4.6M377.5 1299.3h4.6M392.9 1299.3h4.6M408.3 1299.3h4.6M423.7 1299.3h4.6M146.5 1368h4.6M161.9 1368h4.6M177.3 1368h4.6M192.7 1368h4.6M208.1 1368h4.6M223.5 1368h4.6M238.9 1368h4.6M254.3 1368h4.6M269.7 1368h4.6M285.1 1368h4.6M300.5 1368h4.6M315.9 1368h4.6M331.3 1368h4.6M346.7 1368h4.6M362.1 1368h4.6M377.5 1368h4.6M392.9 1368h4.6M408.3 1368h4.6M146.5 1436.7h4.6M161.9 1436.7h4.6M177.3 1436.7h4.6M192.7 1436.7h4.6M208.1 1436.7h4.6M223.5 1436.7h4.6M238.9 1436.7h4.6M254.3 1436.7h4.6M269.7 1436.7h4.6M285.1 1436.7h4.6M300.5 1436.7h4.6M315.9 1436.7h4.6M331.3 1436.7h4.6M346.7 1436.7h4.6M362.1 1436.7h4.6M377.5 1436.7h4.6M392.9 1436.7h4.6M146.5 1505.4h4.6M161.9 1505.4h4.6M177.3 1505.4h4.6M192.7 1505.4h4.6M208.1 1505.4h4.6M223.5 1505.4h4.6M238.9 1505.4h4.6M254.3 1505.4h4.6M269.7 1505.4h4.6M285.1 1505.4h4.6M300.5 1505.4h4.6M315.9 1505.4h4.6M331.3 1505.4h4.6M346.7 1505.4h4.6M362.1 1505.4h4.6M377.5 1505.4h4.6M146.5 1574.1h4.6M161.9 1574.1h4.6M177.3 1574.1h4.6M192.7 1574.1h4.6M208.1 1574.1h4.6M223.5 1574.1h4.6M238.9 1574.1h4.6M254.3 1574.1h4.6M269.7 1574.1h4.6M285.1 1574.1h4.6M300.5 1574.1h4.6M315.9 1574.1h4.6M331.3 1574.1h4.6M346.7 1574.1h4.6M146.5 1642.7h4.6M161.9 1642.7h4.6M177.3 1642.7h4.6M192.7 1642.7h4.6M208.1 1642.7h4.6M223.5 1642.7h4.6M238.9 1642.7h4.6M254.3 1642.7h4.6M269.7 1642.7h4.6M546.9 1642.7h4.6M562.3 1642.7h4.6M577.7 1642.7h4.6M593.1 1642.7h4.6M608.5 1642.7h4.6M623.9 1642.7h4.6M639.3 1642.7h4.6M654.7 1642.7h4.6M670.1 1642.7h4.6M685.5 1642.7h4.6M700.9 1642.7h4.6M716.3 1642.7h4.6M731.7 1642.7h4.6M747.1 1642.7h4.6M762.5 1642.7h4.6M777.9 1642.7h4.6M793.3 1642.7h4.6M808.7 1642.7h4.6M824.1 1642.7h4.6M839.5 1642.7h4.6M854.9 1642.7h4.6M870.3 1642.7h4.6M885.7 1642.7h4.6M901.1 1642.7h4.6M916.5 1642.7h4.6M931.9 1642.7h4.6M947.3 1642.7h4.6M962.7 1642.7h4.6M978.1 1642.7h4.6M993.5 1642.7h4.6M1008.9 1642.7h4.6M1024.3 1642.7h4.6M1039.7 1642.7h4.6M1055.1 1642.7h4.6M1070.5 1642.7h4.6M1085.9 1642.7h4.6M146.5 1711.4h4.6M161.9 1711.4h4.6M177.3 1711.4h4.6M454.5 1711.4h4.6M469.9 1711.4h4.6M485.3 1711.4h4.6M500.7 1711.4h4.6M516.1 1711.4h4.6M531.5 1711.4h4.6M546.9 1711.4h4.6M562.3 1711.4h4.6M577.7 1711.4h4.6M593.1 1711.4h4.6M608.5 1711.4h4.6M623.9 1711.4h4.6M639.3 1711.4h4.6M654.7 1711.4h4.6M670.1 1711.4h4.6M685.5 1711.4h4.6M362.1 1780.1h4.6M377.5 1780.1h4.6M392.9 1780.1h4.6M408.3 1780.1h4.6M423.7 1780.1h4.6M439.1 1780.1h4.6M454.5 1780.1h4.6M469.9 1780.1h4.6M485.3 1780.1h4.6M500.7 1780.1h4.6M516.1 1780.1h4.6M531.5 1780.1h4.6M546.9 1780.1h4.6M562.3 1780.1h4.6M577.7 1780.1h4.6M593.1 1780.1h4.6M608.5 1780.1h4.6M623.9 1780.1h4.6M639.3 1780.1h4.6M654.7 1780.1h4.6M670.1 1780.1h4.6M685.5 1780.1h4.6M269.7 1848.8h4.6M285.1 1848.8h4.6M300.5 1848.8h4.6M315.9 1848.8h4.6M331.3 1848.8h4.6M346.7 1848.8h4.6M362.1 1848.8h4.6M377.5 1848.8h4.6M392.9 1848.8h4.6M408.3 1848.8h4.6M423.7 1848.8h4.6M439.1 1848.8h4.6M454.5 1848.8h4.6M469.9 1848.8h4.6M485.3 1848.8h4.6M500.7 1848.8h4.6M516.1 1848.8h4.6M531.5 1848.8h4.6M546.9 1848.8h4.6M562.3 1848.8h4.6M577.7 1848.8h4.6M593.1 1848.8h4.6M608.5 1848.8h4.6M623.9 1848.8h4.6M639.3 1848.8h4.6M654.7 1848.8h4.6M670.1 1848.8h4.6M685.5 1848.8h4.6M700.9 1848.8h4.6M716.3 1848.8h4.6M731.7 1848.8h4.6M747.1 1848.8h4.6" opacity="0.11"/>
</g>
<path d="M188.5 1898.7L195.3 1884.5L211.1 1867L224.8 1854L238.4 1838.7L249.8 1830L263.4 1821.3L276.9 1810.4L290.6 1805L308.8 1798.5L331.4 1794.7L351.9 1792.6L372.3 1794.7L385.9 1790.9L404.1 1782.1L428.9 1773.9L458.4 1768.6L490.3 1761.4L522 1753.8L544.7 1744L567.4 1729.9L578.8 1716.8L601.4 1703.7L616.2 1690.5L622 1685.6L625.7 1675.9L632.1 1664.9L637.1 1656.4L638.4 1646.7L639 1636.4L651.1 1634L662.5 1629.7L671.3 1623.7L680.1 1614.3L685.2 1599.3L680.1 1586.1L669.7 1577.8L655.9 1577L645.5 1573.7L633.4 1571.2L619.6 1567.8L609.3 1559.6L600.4 1544.7L593.6 1519.7L592.8 1504L602.4 1524.8L611 1544.7L619.6 1559.6L628.2 1562.9L642 1564.5L650.6 1559.6L659.3 1572.8L676.5 1577L690.4 1582.8L699.1 1592.7L701.6 1599.3L702.5 1624.3L696.6 1633.4L687.8 1640.7L678.3 1648L680.2 1658.9L683.3 1669.8L683.3 1690.5L690.3 1697.8L696.6 1708.7L699.2 1722.1L698.6 1737.9L692.9 1746.4L687.2 1752.5L694.2 1764.6L705.6 1775.6L711.9 1784.1L718.1 1792.7L728.3 1795L735.3 1793.8L732.1 1782.9L729.6 1775.6L732.1 1768.3L732.1 1758.6L729.6 1747.6L725.8 1736.7L720.7 1724.5L719.4 1709.3L728.3 1713.6L735.3 1722.1L737.2 1734.2L737.8 1746.4L741 1757.4L737.2 1764.6L736.5 1773.2L744.8 1769.5L753.6 1764.1L749.8 1754.9L748.5 1747.6L767.6 1746.4L766.3 1764.6L771.3 1780.5L775.8 1784.7L789.1 1776.8L796.7 1768.3L799.3 1763.5L795.4 1752.5L794.2 1742.8L795.4 1730.6L801.7 1718.5L809.4 1711.2L810 1691.7L806.8 1682L803.7 1674.1L808.1 1667.4L814.4 1661.4L813.8 1669.8L813.1 1682L818.2 1691.7L823.3 1699L825.8 1712.4L820.8 1719.7L811.9 1728.2L813.1 1737.9L817 1750.1L822 1762.3L819.5 1774.3L813.1 1785.3L809.4 1792.7L814.4 1807.2L819.5 1796.2L825.8 1790.8L838.5 1787.7L847.4 1782.9L852.4 1775.6L849.9 1762.3L853.6 1752.5L858.8 1741.6L861.9 1730.6L856.2 1723.4L846.1 1716L835.9 1709.3L834.7 1703.8L838.5 1694.1L847.4 1682L851.2 1667.4L852.4 1655.2L851.2 1638.2L854.9 1626.1L858.8 1618.8L859.5 1602.4L865.1 1586.9L872.3 1580L869.1 1597.7L866.7 1613.2L873.1 1630.2L866.7 1644.2L864.3 1661.2L871.5 1665.8L881.2 1665.8L887.7 1655L894.2 1642.6L899 1634.8L892.5 1624.1L894.2 1608.6L902.2 1602.4L913.4 1600.1L902.2 1607L900.6 1616.3L905.4 1627.2L915.1 1637.9L905.4 1648.8L897.3 1661.2L894.2 1670.5L896.5 1679.8L889.2 1690.6L886.1 1696.8L889.2 1709.1L887.7 1724.6L884.4 1737L883.6 1749.4L889.2 1761.8L895.7 1778.8L900.6 1791.1L905.4 1798.9L915.1 1795.8L923.2 1791.1L922.3 1781.9L918.3 1774.2L923.2 1766.4L929.6 1764.9L937.6 1771L945.7 1761.8L944.1 1750.9L940.9 1743.2L947.4 1731.6L953.8 1740.1L958.6 1755.6L966.6 1764.9L979.5 1767.9L995.6 1774.2L1011.8 1779.5L1024.7 1777.3L1032.7 1772.6L1036 1760.2L1033.6 1747.8L1027.9 1735.5L1019.8 1723.1L1015 1710.7L1013.4 1696.8L1011.8 1682.9L1018.3 1672L1003.7 1672L989.2 1667.4L981.2 1653.4L977.9 1650.3L973.1 1662.8L989.2 1675.1L1005.4 1685.9L1013.4 1692.1L1019.8 1717L1031.1 1737L1044 1755.6L1056.9 1771M842.4 1042.1L837.6 1057.3L835.5 1071.1L842.4 1083.3L858.3 1090.8L874.2 1106.1L893.3 1124.4L909.1 1136.6L917.1 1127.5L921.8 1139.6L915.5 1158L909.1 1173.3L899.6 1191.5L893.3 1203.7L909.1 1212.8L923.5 1217.4L939.3 1214.4L959.9 1220.4L979 1223.6L987 1234.2L979 1249.4L966.3 1261.6L955.2 1267.7L953.6 1289.1L952 1310.4L959.9 1322.6L975.8 1340.9L988.6 1356.2L991.7 1365.2L983.7 1386.7L988.6 1408L982.2 1426.2L988.6 1441.5L982.2 1453.7L994.9 1469L1001.2 1484.2L1001.2 1505.5L1004.6 1524.4L1010.8 1537.9L1020.3 1559.2L1027.9 1574.5L1033.6 1586.9L1029.6 1600.8L1021.5 1607L1021.5 1621L1029.6 1631.8L1037.6 1641.1L1039.2 1651.9L1036 1661.2L1039.2 1679.8L1039.2 1706.1L1048.8 1710.7L1056.9 1715.3L1068.2 1708.4L1076.3 1713.8L1082.8 1726.2L1086.8 1740.1L1084.3 1755.6L1092.4 1761.8L1097.2 1763.3M1036 1661.2L1029.6 1661.7L1018.3 1672M858.7 1676.6L879.6 1672.8L874.8 1684.4L868.3 1701.4L864.3 1715.3L855.4 1713.8L846.6 1707.6L849 1695.2L853.8 1684.4L858.7 1676.6M939.3 1785L953.8 1784.2L968.3 1793.5L961.8 1803.5L955.4 1808.2L942.4 1802.8L939.3 1794.3L939.3 1785M663.1 1661.4L671.3 1675.9L661.8 1686.8L648.5 1679.6L663.1 1661.4M672.6 1686.8L678.9 1697.8L684 1711.2L685.9 1725.7L682.7 1737.9L672.6 1751.3L671.3 1758.6L675.2 1764.6L674.5 1771.3L659.9 1769.5L637.1 1762.3L639.7 1742.8L648.5 1724.5L656.1 1703.8L659.9 1696.6L672.6 1686.8" fill="none" stroke="#0a1a22" stroke-width="2.3" stroke-linejoin="round" opacity=".88"/><path d="M1029.6 1631.8L1034.1 1641.4L1035.1 1651.8L1033.1 1660.3" fill="none" stroke="#0a1a22" stroke-width="4" stroke-linejoin="round" opacity=".8"/>
<rect x="140.5" y="1040.5" width="958.5" height="858.2" fill="none" stroke="#000" stroke-width="5"/>
<g stroke="#000" stroke-width="3">
<path d="M131.5 1093.3H140.5"/>
<path d="M131.5 1162H140.5"/>
<path d="M131.5 1230.7H140.5"/>
<path d="M131.5 1299.3H140.5"/>
<path d="M131.5 1368H140.5"/>
<path d="M131.5 1436.7H140.5"/>
<path d="M131.5 1505.4H140.5"/>
<path d="M131.5 1574.1H140.5"/>
<path d="M131.5 1642.7H140.5"/>
<path d="M131.5 1711.4H140.5"/>
<path d="M131.5 1780.1H140.5"/>
<path d="M131.5 1848.8H140.5"/>
<path d="M160.3 1898.7V1905.7"/>
<path d="M237 1898.7V1905.7"/>
<path d="M313.7 1898.7V1905.7"/>
<path d="M390.4 1898.7V1905.7"/>
<path d="M467.1 1898.7V1905.7"/>
<path d="M543.8 1898.7V1905.7"/>
<path d="M620.5 1898.7V1905.7"/>
<path d="M697.2 1898.7V1905.7"/>
<path d="M773.9 1898.7V1905.7"/>
<path d="M850.6 1898.7V1905.7"/>
<path d="M927.3 1898.7V1905.7"/>
<path d="M1004 1898.7V1905.7"/>
<path d="M1080.7 1898.7V1905.7"/>
</g>
<text x="124.5" y="1100.3" font-family='"Liberation Sans", "DejaVu Sans", sans-serif' font-size="19.5" font-weight="normal" text-anchor="end" fill="#0c0c0c" textLength="66" lengthAdjust="spacingAndGlyphs" stroke="#0c0c0c" stroke-width=".75">23.6N</text>
<text x="124.5" y="1169" font-family='"Liberation Sans", "DejaVu Sans", sans-serif' font-size="19.5" font-weight="normal" text-anchor="end" fill="#0c0c0c" textLength="66" lengthAdjust="spacingAndGlyphs" stroke="#0c0c0c" stroke-width=".75">23.4N</text>
<text x="124.5" y="1237.7" font-family='"Liberation Sans", "DejaVu Sans", sans-serif' font-size="19.5" font-weight="normal" text-anchor="end" fill="#0c0c0c" textLength="66" lengthAdjust="spacingAndGlyphs" stroke="#0c0c0c" stroke-width=".75">23.2N</text>
<text x="124.5" y="1306.4" font-family='"Liberation Sans", "DejaVu Sans", sans-serif' font-size="19.5" font-weight="normal" text-anchor="end" fill="#0c0c0c" textLength="40.9" lengthAdjust="spacingAndGlyphs" stroke="#0c0c0c" stroke-width=".75">23N</text>
<text x="124.5" y="1375" font-family='"Liberation Sans", "DejaVu Sans", sans-serif' font-size="19.5" font-weight="normal" text-anchor="end" fill="#0c0c0c" textLength="66" lengthAdjust="spacingAndGlyphs" stroke="#0c0c0c" stroke-width=".75">22.8N</text>
<text x="124.5" y="1443.7" font-family='"Liberation Sans", "DejaVu Sans", sans-serif' font-size="19.5" font-weight="normal" text-anchor="end" fill="#0c0c0c" textLength="66" lengthAdjust="spacingAndGlyphs" stroke="#0c0c0c" stroke-width=".75">22.6N</text>
<text x="124.5" y="1512.4" font-family='"Liberation Sans", "DejaVu Sans", sans-serif' font-size="19.5" font-weight="normal" text-anchor="end" fill="#0c0c0c" textLength="66" lengthAdjust="spacingAndGlyphs" stroke="#0c0c0c" stroke-width=".75">22.4N</text>
<text x="124.5" y="1581.1" font-family='"Liberation Sans", "DejaVu Sans", sans-serif' font-size="19.5" font-weight="normal" text-anchor="end" fill="#0c0c0c" textLength="66" lengthAdjust="spacingAndGlyphs" stroke="#0c0c0c" stroke-width=".75">22.2N</text>
<text x="124.5" y="1649.8" font-family='"Liberation Sans", "DejaVu Sans", sans-serif' font-size="19.5" font-weight="normal" text-anchor="end" fill="#0c0c0c" textLength="40.9" lengthAdjust="spacingAndGlyphs" stroke="#0c0c0c" stroke-width=".75">22N</text>
<text x="124.5" y="1718.4" font-family='"Liberation Sans", "DejaVu Sans", sans-serif' font-size="19.5" font-weight="normal" text-anchor="end" fill="#0c0c0c" textLength="66" lengthAdjust="spacingAndGlyphs" stroke="#0c0c0c" stroke-width=".75">21.8N</text>
<text x="124.5" y="1787.1" font-family='"Liberation Sans", "DejaVu Sans", sans-serif' font-size="19.5" font-weight="normal" text-anchor="end" fill="#0c0c0c" textLength="66" lengthAdjust="spacingAndGlyphs" stroke="#0c0c0c" stroke-width=".75">21.6N</text>
<text x="124.5" y="1855.8" font-family='"Liberation Sans", "DejaVu Sans", sans-serif' font-size="19.5" font-weight="normal" text-anchor="end" fill="#0c0c0c" textLength="66" lengthAdjust="spacingAndGlyphs" stroke="#0c0c0c" stroke-width=".75">21.4N</text>
<text x="160.3" y="1924.1" font-family='"Liberation Sans", "DejaVu Sans", sans-serif' font-size="19" font-weight="normal" text-anchor="middle" fill="#0c0c0c" textLength="62" lengthAdjust="spacingAndGlyphs" stroke="#0c0c0c" stroke-width=".75">86.8E</text>
<text x="237" y="1924.1" font-family='"Liberation Sans", "DejaVu Sans", sans-serif' font-size="19" font-weight="normal" text-anchor="middle" fill="#0c0c0c" textLength="38.4" lengthAdjust="spacingAndGlyphs" stroke="#0c0c0c" stroke-width=".75">87E</text>
<text x="313.7" y="1924.1" font-family='"Liberation Sans", "DejaVu Sans", sans-serif' font-size="19" font-weight="normal" text-anchor="middle" fill="#0c0c0c" textLength="62" lengthAdjust="spacingAndGlyphs" stroke="#0c0c0c" stroke-width=".75">87.2E</text>
<text x="390.4" y="1924.1" font-family='"Liberation Sans", "DejaVu Sans", sans-serif' font-size="19" font-weight="normal" text-anchor="middle" fill="#0c0c0c" textLength="62" lengthAdjust="spacingAndGlyphs" stroke="#0c0c0c" stroke-width=".75">87.4E</text>
<text x="467.1" y="1924.1" font-family='"Liberation Sans", "DejaVu Sans", sans-serif' font-size="19" font-weight="normal" text-anchor="middle" fill="#0c0c0c" textLength="62" lengthAdjust="spacingAndGlyphs" stroke="#0c0c0c" stroke-width=".75">87.6E</text>
<text x="543.8" y="1924.1" font-family='"Liberation Sans", "DejaVu Sans", sans-serif' font-size="19" font-weight="normal" text-anchor="middle" fill="#0c0c0c" textLength="62" lengthAdjust="spacingAndGlyphs" stroke="#0c0c0c" stroke-width=".75">87.8E</text>
<text x="620.5" y="1924.1" font-family='"Liberation Sans", "DejaVu Sans", sans-serif' font-size="19" font-weight="normal" text-anchor="middle" fill="#0c0c0c" textLength="38.4" lengthAdjust="spacingAndGlyphs" stroke="#0c0c0c" stroke-width=".75">88E</text>
<text x="697.2" y="1924.1" font-family='"Liberation Sans", "DejaVu Sans", sans-serif' font-size="19" font-weight="normal" text-anchor="middle" fill="#0c0c0c" textLength="62" lengthAdjust="spacingAndGlyphs" stroke="#0c0c0c" stroke-width=".75">88.2E</text>
<text x="773.9" y="1924.1" font-family='"Liberation Sans", "DejaVu Sans", sans-serif' font-size="19" font-weight="normal" text-anchor="middle" fill="#0c0c0c" textLength="62" lengthAdjust="spacingAndGlyphs" stroke="#0c0c0c" stroke-width=".75">88.4E</text>
<text x="850.6" y="1924.1" font-family='"Liberation Sans", "DejaVu Sans", sans-serif' font-size="19" font-weight="normal" text-anchor="middle" fill="#0c0c0c" textLength="62" lengthAdjust="spacingAndGlyphs" stroke="#0c0c0c" stroke-width=".75">88.6E</text>
<text x="927.3" y="1924.1" font-family='"Liberation Sans", "DejaVu Sans", sans-serif' font-size="19" font-weight="normal" text-anchor="middle" fill="#0c0c0c" textLength="62" lengthAdjust="spacingAndGlyphs" stroke="#0c0c0c" stroke-width=".75">88.8E</text>
<text x="1004" y="1924.1" font-family='"Liberation Sans", "DejaVu Sans", sans-serif' font-size="19" font-weight="normal" text-anchor="middle" fill="#0c0c0c" textLength="38.4" lengthAdjust="spacingAndGlyphs" stroke="#0c0c0c" stroke-width=".75">89E</text>
<text x="1080.7" y="1924.1" font-family='"Liberation Sans", "DejaVu Sans", sans-serif' font-size="19" font-weight="normal" text-anchor="middle" fill="#0c0c0c" textLength="62" lengthAdjust="spacingAndGlyphs" stroke="#0c0c0c" stroke-width=".75">89.2E</text>
<path d="M1154.5 1064.5L1172.2 1045L1190 1064.5Z" fill="#fc1e0e"/>
<path d="M1154.5 1866.3L1172.2 1879L1190 1866.3Z" fill="#870afa"/>
<rect x="1154.5" y="1064" width="35.5" height="13.5" fill="#fc1e0e"/>
<rect x="1154.5" y="1077.2" width="35.5" height="13.5" fill="#fc2d0e"/>
<rect x="1154.5" y="1090.3" width="35.5" height="13.5" fill="#fc3c0e"/>
<rect x="1154.5" y="1103.5" width="35.5" height="13.5" fill="#fc4b0e"/>
<rect x="1154.5" y="1116.6" width="35.5" height="13.5" fill="#fc5b0e"/>
<rect x="1154.5" y="1129.8" width="35.5" height="13.5" fill="#fc6c0e"/>
<rect x="1154.5" y="1143" width="35.5" height="13.5" fill="#fc7c0e"/>
<rect x="1154.5" y="1156.1" width="35.5" height="13.5" fill="#fc8d0e"/>
<rect x="1154.5" y="1169.3" width="35.5" height="13.5" fill="#fc9f0d"/>
<rect x="1154.5" y="1182.4" width="35.5" height="13.5" fill="#fcb10d"/>
<rect x="1154.5" y="1195.6" width="35.5" height="13.5" fill="#fcc30c"/>
<rect x="1154.5" y="1208.8" width="35.5" height="13.5" fill="#fcd40c"/>
<rect x="1154.5" y="1221.9" width="35.5" height="13.5" fill="#fce40c"/>
<rect x="1154.5" y="1235.1" width="35.5" height="13.5" fill="#fcf50c"/>
<rect x="1154.5" y="1248.2" width="35.5" height="13.5" fill="#f4fa0c"/>
<rect x="1154.5" y="1261.4" width="35.5" height="13.5" fill="#e7fa0b"/>
<rect x="1154.5" y="1274.6" width="35.5" height="13.5" fill="#dafa0a"/>
<rect x="1154.5" y="1287.7" width="35.5" height="13.5" fill="#cdfa0a"/>
<rect x="1154.5" y="1300.9" width="35.5" height="13.5" fill="#befa0a"/>
<rect x="1154.5" y="1314.1" width="35.5" height="13.5" fill="#affa0a"/>
<rect x="1154.5" y="1327.2" width="35.5" height="13.5" fill="#a0fa0a"/>
<rect x="1154.5" y="1340.4" width="35.5" height="13.5" fill="#8afa0a"/>
<rect x="1154.5" y="1353.5" width="35.5" height="13.5" fill="#73fa0a"/>
<rect x="1154.5" y="1366.7" width="35.5" height="13.5" fill="#5dfa0a"/>
<rect x="1154.5" y="1379.9" width="35.5" height="13.5" fill="#46fa0a"/>
<rect x="1154.5" y="1393" width="35.5" height="13.5" fill="#30fa0b"/>
<rect x="1154.5" y="1406.2" width="35.5" height="13.5" fill="#1bfa0c"/>
<rect x="1154.5" y="1419.3" width="35.5" height="13.5" fill="#0cfa11"/>
<rect x="1154.5" y="1432.5" width="35.5" height="13.5" fill="#0bfa21"/>
<rect x="1154.5" y="1445.7" width="35.5" height="13.5" fill="#0bfa31"/>
<rect x="1154.5" y="1458.8" width="35.5" height="13.5" fill="#0afa41"/>
<rect x="1154.5" y="1472" width="35.5" height="13.5" fill="#0afa55"/>
<rect x="1154.5" y="1485.1" width="35.5" height="13.5" fill="#0afa68"/>
<rect x="1154.5" y="1498.3" width="35.5" height="13.5" fill="#0afa7c"/>
<rect x="1154.5" y="1511.5" width="35.5" height="13.5" fill="#0afa8e"/>
<rect x="1154.5" y="1524.6" width="35.5" height="13.5" fill="#0afaa0"/>
<rect x="1154.5" y="1537.8" width="35.5" height="13.5" fill="#0afab2"/>
<rect x="1154.5" y="1550.9" width="35.5" height="13.5" fill="#0afac4"/>
<rect x="1154.5" y="1564.1" width="35.5" height="13.5" fill="#0afad6"/>
<rect x="1154.5" y="1577.3" width="35.5" height="13.5" fill="#0afae8"/>
<rect x="1154.5" y="1590.4" width="35.5" height="13.5" fill="#0afafa"/>
<rect x="1154.5" y="1603.6" width="35.5" height="13.5" fill="#0ae9fa"/>
<rect x="1154.5" y="1616.7" width="35.5" height="13.5" fill="#0ad9fa"/>
<rect x="1154.5" y="1629.9" width="35.5" height="13.5" fill="#0ac8fa"/>
<rect x="1154.5" y="1643.1" width="35.5" height="13.5" fill="#0ab6fa"/>
<rect x="1154.5" y="1656.2" width="35.5" height="13.5" fill="#0aa2fa"/>
<rect x="1154.5" y="1669.4" width="35.5" height="13.5" fill="#0a8ffa"/>
<rect x="1154.5" y="1682.6" width="35.5" height="13.5" fill="#0a7cfa"/>
<rect x="1154.5" y="1695.7" width="35.5" height="13.5" fill="#0a6afa"/>
<rect x="1154.5" y="1708.9" width="35.5" height="13.5" fill="#0a58fa"/>
<rect x="1154.5" y="1722" width="35.5" height="13.5" fill="#0a46fa"/>
<rect x="1154.5" y="1735.2" width="35.5" height="13.5" fill="#0b35fa"/>
<rect x="1154.5" y="1748.4" width="35.5" height="13.5" fill="#0b23fa"/>
<rect x="1154.5" y="1761.5" width="35.5" height="13.5" fill="#0c12fa"/>
<rect x="1154.5" y="1774.7" width="35.5" height="13.5" fill="#190cfa"/>
<rect x="1154.5" y="1787.8" width="35.5" height="13.5" fill="#2b0bfa"/>
<rect x="1154.5" y="1801" width="35.5" height="13.5" fill="#3e0afa"/>
<rect x="1154.5" y="1814.2" width="35.5" height="13.5" fill="#510afa"/>
<rect x="1154.5" y="1827.3" width="35.5" height="13.5" fill="#630afa"/>
<rect x="1154.5" y="1840.5" width="35.5" height="13.5" fill="#750afa"/>
<rect x="1154.5" y="1853.6" width="35.5" height="13.5" fill="#870afa"/>
<path d="M1154.5 1077.2H1190M1154.5 1090.3H1190M1154.5 1103.5H1190M1154.5 1116.6H1190M1154.5 1129.8H1190M1154.5 1143H1190M1154.5 1156.1H1190M1154.5 1169.3H1190M1154.5 1182.4H1190M1154.5 1195.6H1190M1154.5 1208.8H1190M1154.5 1221.9H1190M1154.5 1235.1H1190M1154.5 1248.2H1190M1154.5 1261.4H1190M1154.5 1274.6H1190M1154.5 1287.7H1190M1154.5 1300.9H1190M1154.5 1314.1H1190M1154.5 1327.2H1190M1154.5 1340.4H1190M1154.5 1353.5H1190M1154.5 1366.7H1190M1154.5 1379.9H1190M1154.5 1393H1190M1154.5 1406.2H1190M1154.5 1419.3H1190M1154.5 1432.5H1190M1154.5 1445.7H1190M1154.5 1458.8H1190M1154.5 1472H1190M1154.5 1485.1H1190M1154.5 1498.3H1190M1154.5 1511.5H1190M1154.5 1524.6H1190M1154.5 1537.8H1190M1154.5 1550.9H1190M1154.5 1564.1H1190M1154.5 1577.3H1190M1154.5 1590.4H1190M1154.5 1603.6H1190M1154.5 1616.7H1190M1154.5 1629.9H1190M1154.5 1643.1H1190M1154.5 1656.2H1190M1154.5 1669.4H1190M1154.5 1682.6H1190M1154.5 1695.7H1190M1154.5 1708.9H1190M1154.5 1722H1190M1154.5 1735.2H1190M1154.5 1748.4H1190M1154.5 1761.5H1190M1154.5 1774.7H1190M1154.5 1787.8H1190M1154.5 1801H1190M1154.5 1814.2H1190M1154.5 1827.3H1190M1154.5 1840.5H1190M1154.5 1853.6H1190" stroke="#000" stroke-width="2.6" opacity=".8" fill="none"/>
<path d="M1155.3 1064V1866.8" stroke="#000" stroke-width="2" opacity=".55" fill="none"/>
<text x="1197.5" y="1071" font-family='"Liberation Sans", "DejaVu Sans", sans-serif' font-size="25" font-weight="normal" text-anchor="start" fill="#111" textLength="82.5" lengthAdjust="spacingAndGlyphs">371.4</text>
<text x="1197.5" y="1138.2" font-family='"Liberation Sans", "DejaVu Sans", sans-serif' font-size="25" font-weight="normal" text-anchor="start" fill="#111" textLength="82.5" lengthAdjust="spacingAndGlyphs">347.8</text>
<text x="1197.5" y="1230.3" font-family='"Liberation Sans", "DejaVu Sans", sans-serif' font-size="25" font-weight="normal" text-anchor="start" fill="#111" textLength="82.5" lengthAdjust="spacingAndGlyphs">314.8</text>
<text x="1197.5" y="1321.7" font-family='"Liberation Sans", "DejaVu Sans", sans-serif' font-size="25" font-weight="normal" text-anchor="start" fill="#111" textLength="82.5" lengthAdjust="spacingAndGlyphs">281.7</text>
<text x="1197.5" y="1414.4" font-family='"Liberation Sans", "DejaVu Sans", sans-serif' font-size="25" font-weight="normal" text-anchor="start" fill="#111" textLength="82.5" lengthAdjust="spacingAndGlyphs">248.7</text>
<text x="1197.5" y="1506.5" font-family='"Liberation Sans", "DejaVu Sans", sans-serif' font-size="25" font-weight="normal" text-anchor="start" fill="#111" textLength="82.5" lengthAdjust="spacingAndGlyphs">215.6</text>
<text x="1197.5" y="1598.6" font-family='"Liberation Sans", "DejaVu Sans", sans-serif' font-size="25" font-weight="normal" text-anchor="start" fill="#111" textLength="82.5" lengthAdjust="spacingAndGlyphs">182.6</text>
<text x="1197.5" y="1691.3" font-family='"Liberation Sans", "DejaVu Sans", sans-serif' font-size="25" font-weight="normal" text-anchor="start" fill="#111" textLength="82.5" lengthAdjust="spacingAndGlyphs">149.5</text>
<text x="1197.5" y="1783.3" font-family='"Liberation Sans", "DejaVu Sans", sans-serif' font-size="25" font-weight="normal" text-anchor="start" fill="#111" textLength="82.5" lengthAdjust="spacingAndGlyphs">116.5</text>
<text x="1197.5" y="1876.4" font-family='"Liberation Sans", "DejaVu Sans", sans-serif' font-size="25" font-weight="normal" text-anchor="start" fill="#111" textLength="62.5" lengthAdjust="spacingAndGlyphs">83.5</text>
<path d="M310 1082.5V1210M235 1146H375.5M317 1093.5L310 1082.5L303 1093.5M303 1199L310 1210L317 1199M246 1139L235 1146L246 1153M364.5 1153L375.5 1146L364.5 1139" stroke="#000" stroke-width="3" fill="none" stroke-linejoin="miter"/>
<text x="303.6" y="1066.7" font-family='"Liberation Serif", "DejaVu Serif", serif' font-size="31" font-weight="bold" text-anchor="middle" fill="#000" textLength="18.4" lengthAdjust="spacingAndGlyphs">N</text>
<text x="310.7" y="1249.2" font-family='"Liberation Serif", "DejaVu Serif", serif' font-size="31" font-weight="bold" text-anchor="middle" fill="#000" textLength="14.1" lengthAdjust="spacingAndGlyphs">S</text>
<text x="200.3" y="1153.2" font-family='"Liberation Serif", "DejaVu Serif", serif' font-size="31" font-weight="bold" text-anchor="middle" fill="#000" textLength="25.4" lengthAdjust="spacingAndGlyphs">W</text>
<text x="410.9" y="1153.2" font-family='"Liberation Serif", "DejaVu Serif", serif' font-size="31" font-weight="bold" text-anchor="middle" fill="#000" textLength="17" lengthAdjust="spacingAndGlyphs">E</text>
<text x="14.5" y="1922" font-family='"Liberation Serif", "DejaVu Serif", serif' font-size="57" font-weight="bold" text-anchor="start" fill="#000" textLength="62.5" lengthAdjust="spacingAndGlyphs">(c)</text>
<rect x="1515.5" y="932.8" width="64.4" height="50.8" fill="#ff80ff" stroke="#000" stroke-width="9.4"/>
<text x="1537.5" y="908.3" font-family='"DejaVu Sans", "Liberation Sans", sans-serif' font-size="32" font-weight="normal" text-anchor="middle" fill="#111" stroke="#111" stroke-width=".55">1</text>
<rect x="1602.2" y="932.8" width="64.4" height="50.8" fill="#ff00ff" stroke="#000" stroke-width="9.4"/>
<text x="1624.4" y="908.3" font-family='"DejaVu Sans", "Liberation Sans", sans-serif' font-size="32" font-weight="normal" text-anchor="middle" fill="#111" stroke="#111" stroke-width=".55">2</text>
<rect x="1688.9" y="932.8" width="64.4" height="50.8" fill="#8000ff" stroke="#000" stroke-width="9.4"/>
<text x="1711.3" y="908.3" font-family='"DejaVu Sans", "Liberation Sans", sans-serif' font-size="32" font-weight="normal" text-anchor="middle" fill="#111" stroke="#111" stroke-width=".55">3</text>
<rect x="1775.7" y="932.8" width="64.4" height="50.8" fill="#0000ff" stroke="#000" stroke-width="9.4"/>
<text x="1798.2" y="908.3" font-family='"DejaVu Sans", "Liberation Sans", sans-serif' font-size="32" font-weight="normal" text-anchor="middle" fill="#111" stroke="#111" stroke-width=".55">4</text>
<rect x="1862.4" y="932.8" width="64.4" height="50.8" fill="#0080ff" stroke="#000" stroke-width="9.4"/>
<text x="1885.1" y="908.3" font-family='"DejaVu Sans", "Liberation Sans", sans-serif' font-size="32" font-weight="normal" text-anchor="middle" fill="#111" stroke="#111" stroke-width=".55">5</text>
<rect x="1949.1" y="932.8" width="64.4" height="50.8" fill="#00ffff" stroke="#000" stroke-width="9.4"/>
<text x="1972" y="908.3" font-family='"DejaVu Sans", "Liberation Sans", sans-serif' font-size="32" font-weight="normal" text-anchor="middle" fill="#111" stroke="#111" stroke-width=".55">&gt;5</text>
<rect x="2035.8" y="932.8" width="64.4" height="50.8" fill="#00ff00" stroke="#000" stroke-width="9.4"/>
<text x="2058.9" y="908.3" font-family='"DejaVu Sans", "Liberation Sans", sans-serif' font-size="32" font-weight="normal" text-anchor="middle" fill="#111" stroke="#111" stroke-width=".55">&gt;10</text>
<rect x="2122.5" y="932.8" width="64.4" height="50.8" fill="#ffff00" stroke="#000" stroke-width="9.4"/>
<text x="2145.8" y="908.3" font-family='"DejaVu Sans", "Liberation Sans", sans-serif' font-size="32" font-weight="normal" text-anchor="middle" fill="#111" stroke="#111" stroke-width=".55">&gt;15</text>
<rect x="2209.3" y="932.8" width="64.4" height="50.8" fill="#ff8000" stroke="#000" stroke-width="9.4"/>
<text x="2232.7" y="908.3" font-family='"DejaVu Sans", "Liberation Sans", sans-serif' font-size="32" font-weight="normal" text-anchor="middle" fill="#111" stroke="#111" stroke-width=".55">&gt;25</text>
<rect x="2296" y="932.8" width="64.4" height="50.8" fill="#ff0000" stroke="#000" stroke-width="9.4"/>
<text x="2319.6" y="908.3" font-family='"DejaVu Sans", "Liberation Sans", sans-serif' font-size="32" font-weight="normal" text-anchor="middle" fill="#111" stroke="#111" stroke-width=".55">&gt;50</text>
<rect x="2382.7" y="932.8" width="64.4" height="50.8" fill="#800000" stroke="#000" stroke-width="9.4"/>
<text x="2417" y="908.3" font-family='"DejaVu Sans", "Liberation Sans", sans-serif' font-size="32" font-weight="normal" text-anchor="middle" fill="#111" stroke="#111" stroke-width=".55">&gt;100</text>
<text x="1886" y="1031" font-family='"DejaVu Sans Mono", "Liberation Mono", monospace' font-size="33" font-weight="normal" text-anchor="start" fill="#111" textLength="242" lengthAdjust="spacingAndGlyphs" stroke="#111" stroke-width=".5">Flash Scale</text>
<text x="1343" y="965.5" font-family='"Liberation Serif", "DejaVu Serif", serif' font-size="57" font-weight="bold" text-anchor="start" fill="#000" textLength="73" lengthAdjust="spacingAndGlyphs">(b)</text>
<text x="1326.8" y="1921.2" font-family='"Liberation Serif", "DejaVu Serif", serif' font-size="57" font-weight="bold" text-anchor="start" fill="#000" textLength="70" lengthAdjust="spacingAndGlyphs">(d)</text>
<path d="M414.8 1031.2L422.4 1035.2M817.6 1035.2L823.8 1031" stroke="#000" stroke-width="3" stroke-linecap="round" fill="none"/><circle cx="702" cy="1033.2" r="2.4" fill="#000"/><path d="M449 1030.4H574M661 1030.4H811" stroke="#f7c4e2" stroke-width="1.6" stroke-dasharray="9 6 3 8 22 12 5 16" opacity=".55" fill="none"/>
<path d="M1943.1 15.5L1934.9 21.1L1923.2 30.4L1915 43.3L1918.5 56.2L1917.4 72.6L1912.7 86.7L1910.4 98.4L1902.2 99.5L1895.1 105.4L1890.4 117.1L1895.1 126.5L1888.1 134.7L1874.1 138.2L1860.3 138.2L1845.1 142.9L1839.2 154.6L1834.5 169.8L1822.8 169.8L1808.8 166.3L1797 161.6L1784.2 163.9L1785.3 168.6L1794.7 173.3L1801.7 182.7L1799.4 199.1L1794.7 210.8L1785.3 213.1L1773.6 207.3L1766.6 210.8L1766.6 217.8L1757.2 224.8L1747.9 223.7L1736.2 215.5L1722.1 210.8L1708.1 209.6L1705.7 219L1694 220.1L1687 227.2L1691.7 236.5L1687 245.9L1675.3 254.1L1663.6 250.6L1651.9 252.9L1630.8 267L1619.1 270.5L1605 269.3L1593.3 274L1583.9 283.4L1579.3 292.7L1573.4 302.1L1574.6 311.5L1569.9 319.7L1560.5 319.7L1544.1 315L1530.1 309.1L1527.7 295.1L1520.7 286.9L1504.3 286.9L1497.3 288.1L1492.6 295.1L1502 304.4L1492.6 311.5L1478.5 312.6L1459.8 313.8L1455.1 318.5L1461 324.4L1470.4 327.9L1463.3 332.6L1462.2 341.9L1455.1 348.9L1451.6 360.7L1455.1 372.4L1463.3 374.7L1464.5 384.1L1473.9 393.4L1490.3 392.3L1502 398.1L1499.6 392.9L1506.7 399.9L1518.4 405.8L1527.7 412.8L1537.1 422.2L1548.8 426.8L1565.2 422.2L1579.3 428L1595.6 425.7L1612 428L1626.1 431.5L1619.1 438.5L1612 445.6L1613.2 459.6L1610.9 473.7L1616.7 483L1628.4 487.7L1642.5 492.4L1656.5 499.4L1665.9 507.6L1668.2 514.7L1680 519.3L1691.7 527.5L1697.5 536.9L1694 545.1L1684.6 549.8L1683.5 554.5L1695.2 559.2L1708.1 561.5L1710.4 572L1712.7 584.9L1719.8 587.3L1722.1 594.3L1708.1 596.6L1698.7 601.3L1691.7 610.7L1682.3 615.4L1681.1 622.4L1689.3 627.1L1701 628.2L1712.7 635.3L1719.8 640L1745.5 644.6L1752.6 654L1750.2 665.7L1746.7 675.1L1752.6 684.4L1761.9 690.3L1773.6 691.5L1778.3 684.4L1779.5 675.1L1787.7 672.7L1794.7 665.7L1806.4 666.9L1813.4 675.1L1814.6 686.8L1822.8 696.2L1836.9 703.2L1853.3 705.5L1865 714.9L1872 728.9L1874.3 740.7L1886 745.3L1900.1 743L1906.8 741.8L1920.9 736L1937.3 731.3L1963 712.6L1977.1 705.5L1991.1 691.5L2000 684.5L2005.7 665.9L2017.2 654.4L2012.9 641.5L2032.9 639.4L2042.9 627.2L2046.5 604.3L2051.5 602.2L2057.2 607.2L2057.9 617.2L2060.8 623.7L2055.1 630.1L2053.6 641.5L2042.9 647.3L2040.8 654.4L2048.6 660.1L2049.4 668.7L2041.5 674.4L2034.3 684.5L2032.9 695.9L2025.8 703.1L2022.9 711.6L2018.6 720.2L2017.2 728.8L2021.5 736L2028.6 738.8L2034.3 736L2035.8 728.8L2040.1 724.5L2038.6 715.9L2041.5 705.9L2045.8 697.3L2048.6 688.8L2054.4 688.8L2057.2 695.9L2054.4 704.5L2052.9 714.5L2048.6 721.7L2045.8 731.7L2042.9 738.8L2040.1 744.5L2045.8 744.5L2048.6 737.4L2051.5 728.8L2055.8 736L2061.5 740.3L2067.2 744.5L2070.1 750.3L2074.4 756L2084.4 757.4L2091.6 753.1L2090.1 746L2094.4 741.7L2100.1 734.5L2098.7 728.8L2093 723.1L2085.8 718.8L2077.3 715.9L2080.1 705.9L2088.7 708.8L2091.6 715.9L2097.3 720.2L2110.2 720.9L2105.9 726L2105.9 737.4L2108.7 746L2114.4 747.4L2121.6 741.7L2125.9 728.8L2127.3 717.4L2121.6 707.4L2125.9 695.9L2131.6 685.9L2135.9 673L2143.1 660.1L2148.8 651.6L2153.8 645.8L2158.8 648.7L2158.8 660.1L2157.4 674.4L2148.8 681.6L2140.2 688.8L2134.5 697.3L2135.9 708.8L2144.5 711.6L2150.2 718.8L2144.5 727.4L2137.3 734.5L2133 744.5L2134.5 760.3L2143.1 761.7L2150.2 757.4L2151.6 748.8L2158.8 741.7L2167.4 731.7L2166 721.7L2171.7 710.2L2170.2 698.8L2164.5 693L2171.7 683L2173.1 671.6L2176 660.1L2170.2 653L2158.8 648.7M2027.2 679.5L2032.9 673L2038.6 665.9L2047.2 660.1L2049.4 668.7L2041.5 674.4L2027.2 679.5M2040.1 724.5L2047.2 715.9L2050.1 704.5L2052.9 695.9M1981.8 15.5L1986.5 23.4L1998.2 30.4L2009.9 39.8L2019.3 49.2L2028.6 50.4L2038 58.5L2047.4 64.4L2061.4 65.6L2075.5 67.9L2094.2 72.6L2112.9 76.1L2129.3 77.3L2141 80.8L2149.2 89L2152.7 103L2150.4 117.1L2145.7 127.6L2150.4 138.2L2159.8 152.2L2155.1 163.9L2155.1 175.6L2143.4 185L2129.3 189.7L2120 192L2117.6 203.7L2121.1 220.1L2118.8 236.5L2117.6 248.2L2129.3 247.1L2138.7 255.3L2148.1 264.6L2159.8 274L2171.5 270.5L2178.5 278.7L2176.2 295.1L2171.5 306.8L2162.1 313.8L2162.1 323.2L2171.5 334.9L2180.8 337.2L2194.9 332.6L2211.3 334.9L2228.9 343.1L2220.7 356L2208.9 365.3L2204.3 374.7L2211.3 384.1L2204.3 398.1L2211.3 408.1L2225.3 419.8L2231.2 430.4L2225.3 440.9L2223 454.9L2227.7 473.7L2234.7 487.7L2237 497.1L2244.1 522.9L2246.4 539.3L2253.4 555.6L2256.1 568.6L2261.8 577.2L2266.1 580L2267.5 591.5L2269 602.2L2264.7 605.8L2261.8 614.4L2263.2 625.8L2270.4 634.4L2276.1 643L2269 651.6L2261.8 657.3L2267.5 665.9L2264.7 675.9L2269 684.5L2277.5 693L2286.1 703.1L2290.4 714.5L2287.6 724.5L2279 730.2L2271.8 730.2L2267.5 721.7L2261.8 711.6L2257.5 700.2L2253.2 691.6L2247.5 695.9L2244.6 705.9L2246.1 717.4M2164.5 572.9L2161.7 580L2168.8 585.8L2174.5 591.5L2171.7 601.5L2164.5 607.2L2160.2 614.4L2168.8 620.1L2176 621.5L2171.7 631.5L2163.1 641.5L2155.9 648.7M2164.5 574.3L2166 582.9L2170.2 592.9L2168.8 601.5L2164.5 607.2M2214.6 584.3L2203.1 591.5L2193.1 601.5L2184.5 611.5L2178.8 621.5L2186 617.2L2197.4 607.2L2207.4 595.8L2214.6 587.2L2214.6 584.3M2176 621.5L2184.5 622.9L2193.1 627.2L2190.3 635.8L2184.5 643L2193.1 647.3L2187.4 653L2188.8 660.1L2197.4 665.9L2203.1 677.3L2208.9 683L2216 678.7L2221.7 687.3L2228.9 691.6L2236.1 687.3L2243.2 686.6L2236.1 691.6L2230.3 700.2L2227.5 708.8L2231.8 717.4L2240.3 723.1L2246.1 723.8" fill="none" stroke="#2b2b2b" stroke-width="3.0" stroke-linejoin="round" stroke-linecap="round"/>
<path d="M1833.9 146.5h25.6v25.6h-25.6zM1749.1 177.4h25.6v25.6h-25.6zM1651.9 227.2h25.6v25.6h-25.6zM1759.7 242.5h25.6v25.6h-25.6zM1773.7 273.4h25.6v25.6h-25.6zM1800.6 281.8h25.6v25.6h-25.6zM1742.6 303.4h25.6v25.6h-25.6zM1625.5 335h25.6v25.6h-25.6zM1574.6 346.7h25.6v25.6h-25.6zM1598.1 356.1h25.6v25.6h-25.6zM1715.9 361.9h25.6v25.6h-25.6zM1964.3 45h25.6v25.6h-25.6zM2029.9 72.7h25.6v25.6h-25.6zM1944.4 140.6h25.6v25.6h-25.6zM2038.8 150h25.6v25.6h-25.6zM1977.9 168.7h25.6v25.6h-25.6zM2024 187.9h25.6v25.6h-25.6zM2079.1 183.5h25.6v25.6h-25.6zM1958.4 205h25.6v25.6h-25.6zM1991.7 244.3h25.6v25.6h-25.6zM2055.6 244.8h25.6v25.6h-25.6zM2046.3 296.3h25.6v25.6h-25.6zM1901.1 302.9h25.6v25.6h-25.6zM1962 307.6h25.6v25.6h-25.6zM2008.3 315.1h25.6v25.6h-25.6zM2102.5 315.1h25.6v25.6h-25.6zM2075.5 331.5h25.6v25.6h-25.6zM2127.1 331.5h25.6v25.6h-25.6zM1902.9 355.3h25.6v25.6h-25.6zM2157.5 355.3h25.6v25.6h-25.6zM1500.4 370.7h25.6v25.6h-25.6zM1657.3 380.1h25.6v25.6h-25.6zM1702.3 456.2h25.6v25.6h-25.6zM1848.5 453.9h25.6v25.6h-25.6zM1547 484.3h25.6v25.6h-25.6zM1779.6 512.4h25.6v25.6h-25.6zM1628.5 545.7h25.6v25.6h-25.6zM1682.4 564.6h25.6v25.6h-25.6zM1813.5 586.2h25.6v25.6h-25.6zM1719.4 623.2h25.6v25.6h-25.6zM1675.3 638.4h25.6v25.6h-25.6zM1773 630.2h25.6v25.6h-25.6zM1813.5 631.8h25.6v25.6h-25.6zM1962 371.9h25.6v25.6h-25.6zM1935 429.3h25.6v25.6h-25.6zM2028.7 438.6h25.6v25.6h-25.6zM2086.1 441.7h25.6v25.6h-25.6zM2118.9 472.6h25.6v25.6h-25.6zM2155.9 466.7h25.6v25.6h-25.6zM2205.5 472.6h25.6v25.6h-25.6zM2013.5 489h25.6v25.6h-25.6zM2038.8 490.2h25.6v25.6h-25.6zM2234.8 497.2h25.6v25.6h-25.6zM1880.7 500.2h25.6v25.6h-25.6zM1904.6 518.3h25.6v25.6h-25.6zM2238.3 579.8h25.6v25.6h-25.6zM2268.7 575.6h25.6v25.6h-25.6zM1971.3 635.3h25.6v25.6h-25.6zM1935 659.9h25.6v25.6h-25.6zM1867.1 678.7h25.6v25.6h-25.6zM1937.8 710.3h25.6v25.6h-25.6z" fill="#8acfe6"/>
<path d="M1874.3 152.3h25.6v25.6h-25.6zM1852.6 205h25.6v25.6h-25.6zM1709.3 242h25.6v25.6h-25.6zM1864.1 267.1h25.6v25.6h-25.6zM1505.1 287h25.6v25.6h-25.6zM1614.9 291.6h25.6v25.6h-25.6zM1651.5 288.1h25.6v25.6h-25.6zM1480.3 311.6h25.6v25.6h-25.6zM1523.8 331.5h25.6v25.6h-25.6zM1729.9 340.8h25.6v25.6h-25.6zM1827.6 340.4h25.6v25.6h-25.6zM1460.6 346.7h25.6v25.6h-25.6zM1655.4 356.8h25.6v25.6h-25.6zM1680 359.6h25.6v25.6h-25.6zM1772.5 356.1h25.6v25.6h-25.6zM1924.5 155.8h25.6v25.6h-25.6zM1900.6 217.9h25.6v25.6h-25.6zM1561.3 386.4h25.6v25.6h-25.6zM1849.4 395.9h25.6v25.6h-25.6zM1884.2 402.1h25.6v25.6h-25.6zM1689.4 414h25.6v25.6h-25.6zM1756.1 425.7h25.6v25.6h-25.6zM1735.8 453.9h25.6v25.6h-25.6zM1803.7 453.9h25.6v25.6h-25.6zM1571.1 500.7h25.6v25.6h-25.6zM1692.4 493.7h25.6v25.6h-25.6zM1827.1 506.1h25.6v25.6h-25.6zM1783.1 537h25.6v25.6h-25.6zM1817 537h25.6v25.6h-25.6zM1830.6 657.1h25.6v25.6h-25.6zM2005.3 367.2h25.6v25.6h-25.6zM2109 369.5h25.6v25.6h-25.6zM2127.1 435.1h25.6v25.6h-25.6zM1940.9 472.6h25.6v25.6h-25.6zM2082.6 495.5h25.6v25.6h-25.6zM1856.6 533.5h25.6v25.6h-25.6zM1874.1 531.1h25.6v25.6h-25.6zM2075.5 576.3h25.6v25.6h-25.6zM1951.4 586.2h25.6v25.6h-25.6zM1997.1 603.7h25.6v25.6h-25.6zM1907.6 607.2h25.6v25.6h-25.6zM2224.2 604.9h25.6v25.6h-25.6zM2271.6 597.9h25.6v25.6h-25.6zM1877.6 656.4h25.6v25.6h-25.6zM1919.3 686.9h25.6v25.6h-25.6zM1954.5 684.5h25.6v25.6h-25.6z" fill="#ab9fd6"/>
<path d="M1833.9 168.7h25.6v25.6h-25.6zM1813.5 235.9h25.6v25.6h-25.6zM1682.4 281.1h25.6v25.6h-25.6zM1709.3 297.5h25.6v25.6h-25.6zM1598.8 331h25.6v25.6h-25.6zM1883.4 325.6h25.6v25.6h-25.6zM1800.6 352.5h25.6v25.6h-25.6zM2002.5 87.4h25.6v25.6h-25.6zM1901.1 106.6h25.6v25.6h-25.6zM1945.1 170.6h25.6v25.6h-25.6zM1984.9 216.2h25.6v25.6h-25.6zM1924.5 269.4h25.6v25.6h-25.6zM2077.9 269.4h25.6v25.6h-25.6zM2109 290.9h25.6v25.6h-25.6zM2046.3 319.3h25.6v25.6h-25.6zM2132.9 355.3h25.6v25.6h-25.6zM1611.6 383.1h25.6v25.6h-25.6zM1830.6 368.4h25.6v25.6h-25.6zM1753.1 512.4h25.6v25.6h-25.6zM1803.7 558.1h25.6v25.6h-25.6zM1776.5 598.6h25.6v25.6h-25.6zM2155.9 438.6h25.6v25.6h-25.6zM1897.6 463.2h25.6v25.6h-25.6zM2028.7 465.6h25.6v25.6h-25.6zM2118.9 530h25.6v25.6h-25.6zM1998.3 533.5h25.6v25.6h-25.6z" fill="#ffeb12"/>
<path d="M1621.5 242.5h25.6v25.6h-25.6zM1783.1 242.5h25.6v25.6h-25.6zM1623.8 358.4h25.6v25.6h-25.6zM2025.2 116.5h25.6v25.6h-25.6zM2089.6 137.1h25.6v25.6h-25.6zM2042 342.7h25.6v25.6h-25.6zM1662 450.8h25.6v25.6h-25.6zM1726.2 483.1h25.6v25.6h-25.6zM1766.7 568.1h25.6v25.6h-25.6zM1742.1 592h25.6v25.6h-25.6zM2035.7 389.4h25.6v25.6h-25.6zM2116.5 403.5h25.6v25.6h-25.6zM2142.8 494.8h25.6v25.6h-25.6zM2207.2 497.2h25.6v25.6h-25.6zM2065.5 552.2h25.6v25.6h-25.6zM2152.8 545.7h25.6v25.6h-25.6zM2093.1 657.1h25.6v25.6h-25.6zM2062.2 678.7h25.6v25.6h-25.6z" fill="#9ade1c"/>
<path d="M1742.6 272.4h25.6v25.6h-25.6zM2028.2 229.6h25.6v25.6h-25.6zM1948.6 254.2h25.6v25.6h-25.6zM2102.9 345.5h25.6v25.6h-25.6zM2075.5 362.8h25.6v25.6h-25.6zM1726.2 506.1h25.6v25.6h-25.6zM2001.8 398.8h25.6v25.6h-25.6zM2079.1 414h25.6v25.6h-25.6zM2142.8 404.7h25.6v25.6h-25.6zM2055.6 444.5h25.6v25.6h-25.6zM2184 451h25.6v25.6h-25.6zM2075.5 464.4h25.6v25.6h-25.6zM2146.5 516.6h25.6v25.6h-25.6zM2092.6 531.1h25.6v25.6h-25.6zM2025.2 528.1h25.6v25.6h-25.6zM2173.4 540h25.6v25.6h-25.6zM2099.7 564.6h25.6v25.6h-25.6z" fill="#ee1c24"/>
<path d="M1682.4 301h25.6v25.6h-25.6zM1769.7 297.5h25.6v25.6h-25.6zM1995.4 51.1h25.6v25.6h-25.6zM1971.3 82h25.6v25.6h-25.6zM2042 87.9h25.6v25.6h-25.6zM2076.2 109.7h25.6v25.6h-25.6zM1927.5 198.7h25.6v25.6h-25.6zM2102.9 260.5h25.6v25.6h-25.6zM2052.1 269.4h25.6v25.6h-25.6zM2015.3 281.8h25.6v25.6h-25.6zM2075.5 294h25.6v25.6h-25.6zM2136.4 300.3h25.6v25.6h-25.6zM2005.3 337.3h25.6v25.6h-25.6zM1937.8 352.5h25.6v25.6h-25.6zM1635.5 404.7h25.6v25.6h-25.6zM1756.1 403.5h25.6v25.6h-25.6zM1783.1 411.7h25.6v25.6h-25.6zM1807.2 426.5h25.6v25.6h-25.6zM1635.5 450.8h25.6v25.6h-25.6zM1578.2 481.5h25.6v25.6h-25.6zM1776.5 485h25.6v25.6h-25.6zM1655.4 527.6h25.6v25.6h-25.6zM1722.7 530h25.6v25.6h-25.6zM1931.5 395.3h25.6v25.6h-25.6zM1969 395.3h25.6v25.6h-25.6zM2001.8 432.8h25.6v25.6h-25.6zM2180.9 427.6h25.6v25.6h-25.6zM1998.7 460.2h25.6v25.6h-25.6zM2180.9 474.9h25.6v25.6h-25.6zM2113 497.2h25.6v25.6h-25.6zM1928.7 524.6h25.6v25.6h-25.6zM1901.1 543.3h25.6v25.6h-25.6zM1957.7 545.7h25.6v25.6h-25.6zM2127.1 549.4h25.6v25.6h-25.6zM2130.1 598.6h25.6v25.6h-25.6zM1873.7 620.1h25.6v25.6h-25.6zM1904.6 638.4h25.6v25.6h-25.6zM2116.5 635.3h25.6v25.6h-25.6zM2059.1 650.6h25.6v25.6h-25.6z" fill="#4468e8"/>
<path d="M1945.1 229.6h25.6v25.6h-25.6zM1921 239h25.6v25.6h-25.6zM1851.9 568.1h25.6v25.6h-25.6zM1877.6 568.1h25.6v25.6h-25.6zM1984.9 561.6h25.6v25.6h-25.6z" fill="#08aee8"/><path d="M1426.3 22V810.3H2377" fill="none" stroke="#000" stroke-width="6.6" stroke-linejoin="miter"/>
<circle cx="1424.3" cy="811.8" r="4.6" fill="#000"/>
<path d="M1410.3 154.7H1426.3M1410.3 444H1426.3M1410.3 686.1H1426.3M1528.5 810.3V819.8M1777.2 810.3V819.8M2005.7 810.3V819.8M2251.4 810.3V819.8" stroke="#111" stroke-width="3.6" fill="none"/>
<text x="1327.3" y="172" font-family='"Liberation Serif", "DejaVu Serif", serif' font-size="35" font-weight="normal" text-anchor="start" fill="#262626" textLength="63" lengthAdjust="spacingAndGlyphs" stroke="#262626" stroke-width=".5">24N</text>
<text x="1314" y="458.1" font-family='"Liberation Serif", "DejaVu Serif", serif' font-size="35" font-weight="normal" text-anchor="start" fill="#262626" textLength="62.8" lengthAdjust="spacingAndGlyphs" stroke="#262626" stroke-width=".5">23N</text>
<text x="1316.9" y="699.8" font-family='"Liberation Serif", "DejaVu Serif", serif' font-size="35" font-weight="normal" text-anchor="start" fill="#262626" textLength="63.7" lengthAdjust="spacingAndGlyphs" stroke="#262626" stroke-width=".5">22N</text>
<text x="1498" y="856.1" font-family='"Liberation Serif", "DejaVu Serif", serif' font-size="32.5" font-weight="normal" text-anchor="start" fill="#262626" textLength="60" lengthAdjust="spacingAndGlyphs" stroke="#262626" stroke-width=".5">86E</text>
<text x="1727.6" y="850.4" font-family='"Liberation Serif", "DejaVu Serif", serif' font-size="32.5" font-weight="normal" text-anchor="start" fill="#262626" textLength="57.7" lengthAdjust="spacingAndGlyphs" stroke="#262626" stroke-width=".5">87E</text>
<text x="1981.4" y="850.8" font-family='"Liberation Serif", "DejaVu Serif", serif' font-size="32.5" font-weight="normal" text-anchor="start" fill="#262626" textLength="58.3" lengthAdjust="spacingAndGlyphs" stroke="#262626" stroke-width=".5">88E</text>
<text x="2224.4" y="859" font-family='"Liberation Serif", "DejaVu Serif", serif' font-size="32.5" font-weight="normal" text-anchor="start" fill="#262626" textLength="59.4" lengthAdjust="spacingAndGlyphs" stroke="#262626" stroke-width=".5">89E</text>
<path d="M1984.8 1080.4L1976 1085.9L1963.6 1094.9L1954.9 1107.3L1958.6 1119.6L1957.4 1135.4L1952.4 1148.9L1949.9 1160.2L1941.2 1161.3L1933.7 1167L1928.7 1178.2L1933.7 1187.2L1926.3 1195.1L1911.3 1198.5L1896.7 1198.5L1880.5 1203L1874.3 1214.3L1869.3 1228.9L1856.9 1228.9L1841.9 1225.5L1829.5 1221L1815.8 1223.3L1817 1227.8L1827 1232.3L1834.4 1241.3L1832 1257.1L1827 1268.3L1817 1270.6L1804.6 1265L1797.1 1268.3L1797.1 1275.1L1787.1 1281.9L1777.2 1280.7L1764.7 1272.8L1749.8 1268.3L1734.9 1267.2L1732.4 1276.2L1719.9 1277.4L1712.5 1284.1L1717.4 1293.1L1712.5 1302.1L1700 1310L1687.6 1306.6L1675.1 1308.9L1652.7 1322.4L1640.3 1325.8L1625.3 1324.7L1612.9 1329.2L1602.9 1338.2L1597.9 1347.2L1591.7 1356.2L1593 1365.2L1588 1373.1L1578 1373.1L1560.6 1368.6L1545.7 1363L1543.2 1349.4L1535.7 1341.6L1518.3 1341.6L1510.8 1342.7L1505.8 1349.4L1515.8 1358.5L1505.8 1365.2L1490.9 1366.3L1471 1367.5L1466 1372L1472.2 1377.6L1482.2 1381L1474.7 1385.5L1473.5 1394.5L1466 1401.3L1462.3 1412.5L1466 1423.8L1474.7 1426L1476 1435.1L1485.9 1444.1L1503.3 1442.9L1515.8 1448.6L1513.3 1443.5L1520.8 1450.3L1533.2 1455.9L1543.2 1462.7L1553.1 1471.7L1565.6 1476.2L1583 1471.7L1597.9 1477.3L1615.4 1475.1L1632.8 1477.3L1647.7 1480.7L1640.3 1487.5L1632.8 1494.2L1634 1507.7L1631.6 1521.3L1637.8 1530.3L1650.2 1534.8L1665.2 1539.3L1680.1 1546L1690.1 1553.9L1692.5 1560.7L1705 1565.2L1717.4 1573.1L1723.7 1582.1L1719.9 1590L1710 1594.5L1708.7 1599L1721.2 1603.5L1734.9 1605.7L1737.4 1615.9L1739.8 1628.3L1747.3 1630.5L1749.8 1637.3L1734.9 1639.5L1724.9 1644L1717.4 1653.1L1707.5 1657.6L1706.2 1664.3L1715 1668.8L1727.4 1669.9L1739.8 1676.7L1747.3 1681.2L1774.7 1685.7L1782.2 1694.7L1779.7 1706L1775.9 1715L1782.2 1724L1792.1 1729.7L1804.6 1730.8L1809.6 1724L1810.8 1715L1819.5 1712.8L1827 1706L1839.4 1707.1L1846.9 1715L1848.1 1726.3L1856.9 1735.3L1871.8 1742L1889.2 1744.3L1901.7 1753.3L1909.1 1766.8L1911.6 1778.1L1924.1 1782.6L1939 1780.3L1946.2 1779.2L1961.1 1773.6L1978.5 1769.1L2005.9 1751.1L2020.9 1744.3L2035.8 1730.8L2045.2 1724L2051.3 1706.1L2063.5 1695.1L2058.9 1682.7L2080.2 1680.7L2090.8 1669L2094.6 1647L2100 1644.9L2106 1649.7L2106.8 1659.3L2109.8 1665.5L2103.8 1671.7L2102.2 1682.7L2090.8 1688.2L2088.5 1695.1L2096.9 1700.6L2097.7 1708.9L2089.3 1714.4L2081.7 1724L2080.2 1735L2072.6 1741.9L2069.5 1750.2L2065 1758.4L2063.5 1766.7L2068 1773.6L2075.6 1776.3L2081.7 1773.6L2083.2 1766.7L2087.8 1762.6L2086.3 1754.3L2089.3 1744.7L2093.9 1736.4L2096.9 1728.2L2103 1728.2L2106 1735L2103 1743.3L2101.5 1752.9L2096.9 1759.8L2093.9 1769.4L2090.8 1776.3L2087.8 1781.8L2093.9 1781.8L2096.9 1775L2100 1766.7L2104.5 1773.6L2110.6 1777.7L2116.7 1781.8L2119.7 1787.3L2124.3 1792.8L2134.9 1794.2L2142.5 1790.1L2141 1783.2L2145.6 1779.1L2151.7 1772.2L2150.1 1766.7L2144.1 1761.2L2136.4 1757.1L2127.3 1754.3L2130.4 1744.7L2139.5 1747.4L2142.5 1754.3L2148.6 1758.4L2162.3 1759.1L2157.7 1763.9L2157.7 1775L2160.8 1783.2L2166.9 1784.6L2174.5 1779.1L2179 1766.7L2180.6 1755.7L2174.5 1746.1L2179 1735L2185.1 1725.4L2189.7 1713L2197.3 1700.6L2203.4 1692.4L2208.7 1686.9L2214 1689.6L2214 1700.6L2212.5 1714.4L2203.4 1721.3L2194.2 1728.2L2188.2 1736.4L2189.7 1747.4L2198.8 1750.2L2204.9 1757.1L2198.8 1765.3L2191.2 1772.2L2186.6 1781.8L2188.2 1797L2197.3 1798.4L2204.9 1794.2L2206.4 1786L2214 1779.1L2223.1 1769.4L2221.6 1759.8L2227.7 1748.8L2226.2 1737.8L2220.1 1732.3L2227.7 1722.7L2229.2 1711.6L2232.3 1700.6L2226.2 1693.8L2214 1689.6M2074.1 1719.2L2080.2 1713L2086.3 1706.1L2095.4 1700.6L2097.7 1708.9L2089.3 1714.4L2074.1 1719.2M2087.8 1762.6L2095.4 1754.3L2098.4 1743.3L2101.5 1735M2025.8 1080.4L2030.8 1088.1L2043.3 1094.9L2055.7 1103.9L2065.7 1112.9L2075.6 1114L2085.6 1121.9L2095.5 1127.5L2110.5 1128.7L2125.4 1130.9L2145.3 1135.4L2165.2 1138.8L2182.7 1139.9L2195.1 1143.3L2203.8 1151.2L2207.6 1164.7L2205.1 1178.2L2200.1 1188.4L2205.1 1198.5L2215 1212L2210.1 1223.3L2210.1 1234.5L2197.6 1243.6L2182.7 1248.1L2172.7 1250.3L2170.2 1261.6L2174 1277.4L2171.5 1293.1L2170.2 1304.4L2182.7 1303.3L2192.6 1311.1L2202.6 1320.2L2215 1329.2L2227.5 1325.8L2235 1333.7L2232.5 1349.4L2227.5 1360.7L2217.5 1367.5L2217.5 1376.5L2227.5 1387.7L2237.4 1390L2252.4 1385.5L2269.8 1387.7L2288.5 1395.6L2279.8 1408L2267.3 1417L2262.3 1426L2269.8 1435.1L2262.3 1448.6L2269.8 1458.2L2284.7 1469.4L2291 1479.6L2284.7 1489.7L2282.3 1503.2L2287.2 1521.3L2294.7 1534.8L2297.2 1543.8L2304.7 1568.6L2307.1 1584.3L2314.6 1600.1L2317.4 1612.6L2323.5 1620.8L2328.1 1623.6L2329.6 1634.6L2331.1 1644.9L2326.5 1648.3L2323.5 1656.6L2325 1667.6L2332.6 1675.9L2338.7 1684.1L2331.1 1692.4L2323.5 1697.9L2329.6 1706.1L2326.5 1715.8L2331.1 1724L2340.2 1732.3L2349.4 1741.9L2353.9 1752.9L2350.9 1762.6L2341.7 1768.1L2334.1 1768.1L2329.6 1759.8L2323.5 1750.2L2318.9 1739.2L2314.4 1730.9L2308.3 1735L2305.3 1744.7L2306.8 1755.7M2220.1 1616.7L2217 1623.6L2224.7 1629.1L2230.7 1634.6L2227.7 1644.2L2220.1 1649.7L2215.5 1656.6L2224.7 1662.1L2232.3 1663.5L2227.7 1673.1L2218.6 1682.7L2211 1689.6M2220.1 1618.1L2221.6 1626.3L2226.2 1636L2224.7 1644.2L2220.1 1649.7M2273.3 1627.7L2261.2 1634.6L2250.5 1644.2L2241.4 1653.8L2235.3 1663.5L2242.9 1659.3L2255.1 1649.7L2265.7 1638.7L2273.3 1630.4L2273.3 1627.7M2232.3 1663.5L2241.4 1664.9L2250.5 1669L2247.5 1677.2L2241.4 1684.1L2250.5 1688.2L2244.4 1693.8L2245.9 1700.6L2255.1 1706.1L2261.2 1717.2L2267.2 1722.7L2274.8 1718.5L2280.9 1726.8L2288.5 1730.9L2296.1 1726.8L2303.7 1726.1L2296.1 1730.9L2290 1739.2L2287 1747.4L2291.6 1755.7L2300.7 1761.2L2306.8 1761.9" fill="none" stroke="#2b2b2b" stroke-width="3.0" stroke-linejoin="round" stroke-linecap="round"/>
<path d="M1867.8 1205h27.4v24.8h-27.4zM1778.8 1236.1h27.4v24.8h-27.4zM1674.6 1283h27.4v24.8h-27.4zM1850.3 1344.6h27.4v24.8h-27.4zM1732 1366.1h27.4v24.8h-27.4zM1646.5 1387.2h27.4v24.8h-27.4zM1591.9 1398.2h27.4v24.8h-27.4zM1617.7 1405.9h27.4v24.8h-27.4zM1513 1421.6h27.4v24.8h-27.4zM1679.8 1431.7h27.4v24.8h-27.4zM1743 1428.2h27.4v24.8h-27.4zM2007.4 1109h27.4v24.8h-27.4zM2077.7 1135.4h27.4v24.8h-27.4zM2087.1 1210.4h27.4v24.8h-27.4zM1982.4 1236.1h27.4v24.8h-27.4zM2043.7 1246.2h27.4v24.8h-27.4zM2071.9 1246.2h27.4v24.8h-27.4zM2043.7 1267.7h27.4v24.8h-27.4zM2129.7 1242h27.4v24.8h-27.4zM2018.5 1318.8h27.4v24.8h-27.4zM2129.7 1324.6h27.4v24.8h-27.4zM1899.7 1336.1h27.4v24.8h-27.4zM1932.5 1342.2h27.4v24.8h-27.4zM2144.4 1377.8h27.4v24.8h-27.4zM2213.5 1407.1h27.4v24.8h-27.4zM1842.5 1457.6h27.4v24.8h-27.4zM1728.9 1503.7h27.4v24.8h-27.4zM1750 1503.7h27.4v24.8h-27.4zM1832 1513.1h27.4v24.8h-27.4zM1809.7 1557.6h27.4v24.8h-27.4zM1706.7 1607.5h27.4v24.8h-27.4zM1846.7 1627.8h27.4v24.8h-27.4zM1746 1664.1h27.4v24.8h-27.4zM1803.4 1671.2h27.4v24.8h-27.4zM1846.7 1673h27.4v24.8h-27.4zM1961.1 1441.2h27.4v24.8h-27.4zM2176.5 1442.8h27.4v24.8h-27.4zM1925 1481h27.4v24.8h-27.4zM2140.5 1481h27.4v24.8h-27.4zM2208.9 1474.4h27.4v24.8h-27.4zM2247.5 1492.7h27.4v24.8h-27.4zM1993.4 1513.1h27.4v24.8h-27.4zM2108.2 1507.2h27.4v24.8h-27.4zM1918 1547h27.4v24.8h-27.4zM2118.7 1548.2h27.4v24.8h-27.4zM2169 1542.4h27.4v24.8h-27.4zM2295.5 1542.4h27.4v24.8h-27.4zM1943 1563.4h27.4v24.8h-27.4zM2297.8 1622h27.4v24.8h-27.4zM2330.6 1616.8h27.4v24.8h-27.4zM2014.5 1675.8h27.4v24.8h-27.4zM1975.1 1699.3h27.4v24.8h-27.4zM1903.9 1718h27.4v24.8h-27.4zM1978.9 1748h27.4v24.8h-27.4z" fill="#8acfe6"/>
<path d="M1867.8 1226.8h27.4v24.8h-27.4zM1760.6 1297.7h27.4v24.8h-27.4zM1699.7 1327.5h27.4v24.8h-27.4zM1792.9 1327.5h27.4v24.8h-27.4zM1617.7 1383.7h27.4v24.8h-27.4zM1631.3 1434h27.4v24.8h-27.4zM2047.3 1150.2h27.4v24.8h-27.4zM1939.1 1168.2h27.4v24.8h-27.4zM1899.7 1285.3h27.4v24.8h-27.4zM1835.5 1602.1h27.4v24.8h-27.4zM1806.9 1640.2h27.4v24.8h-27.4zM2043 1578.2h27.4v24.8h-27.4z" fill="#ffeb12"/>
<path d="M1874.8 1253.7h27.4v24.8h-27.4zM1814 1270.1h27.4v24.8h-27.4zM1641.8 1297.7h27.4v24.8h-27.4zM1732 1325.1h27.4v24.8h-27.4zM1463.1 1342.2h27.4v24.8h-27.4zM1570.4 1368h27.4v24.8h-27.4zM1513 1395.4h27.4v24.8h-27.4zM1645.8 1409.4h27.4v24.8h-27.4zM1968.3 1130h27.4v24.8h-27.4zM2072.6 1177.6h27.4v24.8h-27.4zM1903.9 1197.5h27.4v24.8h-27.4zM2140.5 1198h27.4v24.8h-27.4zM2022 1206.9h27.4v24.8h-27.4zM2089.9 1395.4h27.4v24.8h-27.4zM2082.9 1437.5h27.4v24.8h-27.4zM1785.6 1448.2h27.4v24.8h-27.4zM1782.1 1476.8h27.4v24.8h-27.4zM1684.9 1499h27.4v24.8h-27.4zM1628.2 1522.4h27.4v24.8h-27.4zM1782.1 1557.1h27.4v24.8h-27.4zM1796.2 1611h27.4v24.8h-27.4zM1771.1 1634.2h27.4v24.8h-27.4zM2265.8 1542.4h27.4v24.8h-27.4zM2115.2 1596.2h27.4v24.8h-27.4zM2206.5 1590.4h27.4v24.8h-27.4zM2111.7 1717.5h27.4v24.8h-27.4z" fill="#9ade1c"/>
<path d="M1846.7 1268.9h27.4v24.8h-27.4zM1732 1301.7h27.4v24.8h-27.4zM1760.6 1325.1h27.4v24.8h-27.4zM1552.6 1395.4h27.4v24.8h-27.4zM1710.2 1432.8h27.4v24.8h-27.4zM1978.6 1156.5h27.4v24.8h-27.4zM2018 1183.4h27.4v24.8h-27.4zM1968.1 1191.6h27.4v24.8h-27.4zM1929.2 1265.4h27.4v24.8h-27.4zM1753.1 1474.4h27.4v24.8h-27.4zM2047.3 1448.2h27.4v24.8h-27.4zM2071.9 1572.1h27.4v24.8h-27.4zM2229.9 1583.3h27.4v24.8h-27.4zM2151.5 1607.5h27.4v24.8h-27.4z" fill="#ee1c24"/>
<path d="M1720.7 1274.8h27.4v24.8h-27.4zM1846.7 1297.7h27.4v24.8h-27.4zM1825 1323.9h27.4v24.8h-27.4zM1874.8 1318.1h27.4v24.8h-27.4zM1517.5 1341.5h27.4v24.8h-27.4zM1635.3 1345h27.4v24.8h-27.4zM1672.3 1342.2h27.4v24.8h-27.4zM1764.1 1351.3h27.4v24.8h-27.4zM1491.7 1364.9h27.4v24.8h-27.4zM1699.7 1366.1h27.4v24.8h-27.4zM1817.9 1366.1h27.4v24.8h-27.4zM1817.9 1391.4h27.4v24.8h-27.4zM1470.6 1398.9h27.4v24.8h-27.4zM1678.1 1408.3h27.4v24.8h-27.4zM1699.7 1410.6h27.4v24.8h-27.4zM1774.6 1418.8h27.4v24.8h-27.4zM1577.9 1436.4h27.4v24.8h-27.4zM1903.9 1233.3h27.4v24.8h-27.4zM1936.3 1230.3h27.4v24.8h-27.4zM1985.9 1271.3h27.4v24.8h-27.4zM1932.5 1292.3h27.4v24.8h-27.4zM2083.1 1292.3h27.4v24.8h-27.4zM2116.3 1288.8h27.4v24.8h-27.4zM2143.3 1288.8h27.4v24.8h-27.4zM2026.2 1345h27.4v24.8h-27.4zM2054.3 1345h27.4v24.8h-27.4zM2083.1 1362.6h27.4v24.8h-27.4zM1896.9 1362.6h27.4v24.8h-27.4zM1961.1 1372h27.4v24.8h-27.4zM1925 1383.7h27.4v24.8h-27.4zM2172.6 1377.8h27.4v24.8h-27.4zM2244.7 1386h27.4v24.8h-27.4zM2003.9 1398.2h27.4v24.8h-27.4zM2050.8 1416.5h27.4v24.8h-27.4zM1890.4 1431.7h27.4v24.8h-27.4zM2011 1434h27.4v24.8h-27.4zM1685.6 1466.2h27.4v24.8h-27.4zM1713.7 1463.9h27.4v24.8h-27.4zM1874.8 1457.6h27.4v24.8h-27.4zM1782.1 1506.1h27.4v24.8h-27.4zM1860.8 1492.7h27.4v24.8h-27.4zM1807.4 1530.6h27.4v24.8h-27.4zM1717.7 1539.5h27.4v24.8h-27.4zM1860.8 1551.7h27.4v24.8h-27.4zM1814.4 1581h27.4v24.8h-27.4zM1850.3 1581h27.4v24.8h-27.4zM1864.3 1696.5h27.4v24.8h-27.4zM2115.2 1453.4h27.4v24.8h-27.4zM1957.8 1469.3h27.4v24.8h-27.4zM2018 1477.5h27.4v24.8h-27.4zM2086.4 1477.5h27.4v24.8h-27.4zM1893.2 1499h27.4v24.8h-27.4zM1893.2 1520.8h27.4v24.8h-27.4zM1982.4 1492.7h27.4v24.8h-27.4zM2140.5 1509.6h27.4v24.8h-27.4zM2076.1 1518.9h27.4v24.8h-27.4zM1946.6 1527.1h27.4v24.8h-27.4zM2000.4 1545.4h27.4v24.8h-27.4zM2057.8 1545.4h27.4v24.8h-27.4zM2229.9 1542.4h27.4v24.8h-27.4zM2151.5 1571.6h27.4v24.8h-27.4zM2201.8 1559.9h27.4v24.8h-27.4zM1888 1577.5h27.4v24.8h-27.4zM1911 1576.3h27.4v24.8h-27.4zM2180 1592.7h27.4v24.8h-27.4zM2076.1 1607.5h27.4v24.8h-27.4zM2125.7 1619.6h27.4v24.8h-27.4zM1992.9 1627.8h27.4v24.8h-27.4zM2041.9 1645.4h27.4v24.8h-27.4zM1946.6 1648.9h27.4v24.8h-27.4zM2122.2 1648.9h27.4v24.8h-27.4zM2283.8 1645.4h27.4v24.8h-27.4zM2334.1 1639.5h27.4v24.8h-27.4zM2151.5 1664.6h27.4v24.8h-27.4zM2151.5 1687.1h27.4v24.8h-27.4zM1914.5 1696.5h27.4v24.8h-27.4zM1959.4 1724.6h27.4v24.8h-27.4zM1996.9 1723.2h27.4v24.8h-27.4z" fill="#ab9fd6"/>
<path d="M1789.4 1299.4h27.4v24.8h-27.4zM1774.6 1386h27.4v24.8h-27.4zM1861.3 1430.5h27.4v24.8h-27.4zM2040.2 1115.5h27.4v24.8h-27.4zM2014.5 1144.8h27.4v24.8h-27.4zM2089.9 1150.6h27.4v24.8h-27.4zM2126.2 1171h27.4v24.8h-27.4zM2054.3 1209.2h27.4v24.8h-27.4zM2072.3 1265.4h27.4v24.8h-27.4zM2133.2 1259.5h27.4v24.8h-27.4zM2054.3 1297.7h27.4v24.8h-27.4zM1993.4 1354.4h27.4v24.8h-27.4zM2119.2 1357.2h27.4v24.8h-27.4zM2190.8 1354.4h27.4v24.8h-27.4zM2050.8 1389.5h27.4v24.8h-27.4zM1975.8 1398.2h27.4v24.8h-27.4zM1885.7 1404.7h27.4v24.8h-27.4zM2122.2 1404.3h27.4v24.8h-27.4zM2180 1415.7h27.4v24.8h-27.4zM1918 1422.3h27.4v24.8h-27.4zM2144.4 1427.5h27.4v24.8h-27.4zM1656.8 1453.8h27.4v24.8h-27.4zM1656.8 1499h27.4v24.8h-27.4zM1678.1 1572.1h27.4v24.8h-27.4zM2229.9 1442.8h27.4v24.8h-27.4zM2047.3 1480.3h27.4v24.8h-27.4zM2172.6 1490.8h27.4v24.8h-27.4zM2043.7 1507.2h27.4v24.8h-27.4zM2212.4 1516.1h27.4v24.8h-27.4zM2262 1518.9h27.4v24.8h-27.4zM2029.2 1545.4h27.4v24.8h-27.4zM1970 1569.3h27.4v24.8h-27.4zM1939.5 1583.3h27.4v24.8h-27.4zM2000.4 1589.9h27.4v24.8h-27.4zM2276.3 1578.2h27.4v24.8h-27.4zM2183.6 1639.5h27.4v24.8h-27.4zM1911 1660.6h27.4v24.8h-27.4zM1943 1678.9h27.4v24.8h-27.4zM2108.2 1690.6h27.4v24.8h-27.4zM2269.3 1684.7h27.4v24.8h-27.4zM2309.1 1677h27.4v24.8h-27.4z" fill="#4468e8"/>
<path d="M1884.5 1610.3h27.4v24.8h-27.4zM1914.5 1610.3h27.4v24.8h-27.4zM2029.2 1604.4h27.4v24.8h-27.4z" fill="#08aee8"/><path d="M1434.3 1087.3V1844.6H2447.4" fill="none" stroke="#000" stroke-width="6.6" stroke-linejoin="miter"/>
<circle cx="1432.3" cy="1846.1" r="4.6" fill="#000"/>
<path d="M1418.3 1214.7H1434.3M1418.3 1492.6H1434.3M1418.3 1725.6H1434.3M1543.5 1844.6V1854.1M1807.7 1844.6V1854.1M2050.5 1844.6V1854.1M2312.4 1844.6V1854.1" stroke="#111" stroke-width="3.6" fill="none"/>
<text x="1328.6" y="1231.3" font-family='"Liberation Serif", "DejaVu Serif", serif' font-size="35" font-weight="normal" text-anchor="start" fill="#262626" textLength="67.8" lengthAdjust="spacingAndGlyphs" stroke="#262626" stroke-width=".5">24N</text>
<text x="1314.8" y="1506" font-family='"Liberation Serif", "DejaVu Serif", serif' font-size="35" font-weight="normal" text-anchor="start" fill="#262626" textLength="67" lengthAdjust="spacingAndGlyphs" stroke="#262626" stroke-width=".5">23N</text>
<text x="1318.4" y="1738" font-family='"Liberation Serif", "DejaVu Serif", serif' font-size="35" font-weight="normal" text-anchor="start" fill="#262626" textLength="67" lengthAdjust="spacingAndGlyphs" stroke="#262626" stroke-width=".5">22N</text>
<text x="1511.4" y="1889" font-family='"Liberation Serif", "DejaVu Serif", serif' font-size="34" font-weight="normal" text-anchor="start" fill="#262626" textLength="61.8" lengthAdjust="spacingAndGlyphs" stroke="#262626" stroke-width=".5">86E</text>
<text x="1755.2" y="1884.5" font-family='"Liberation Serif", "DejaVu Serif", serif' font-size="34" font-weight="normal" text-anchor="start" fill="#262626" textLength="63" lengthAdjust="spacingAndGlyphs" stroke="#262626" stroke-width=".5">87E</text>
<text x="2026.2" y="1884" font-family='"Liberation Serif", "DejaVu Serif", serif' font-size="34" font-weight="normal" text-anchor="start" fill="#262626" textLength="64.8" lengthAdjust="spacingAndGlyphs" stroke="#262626" stroke-width=".5">88E</text>
<text x="2285.4" y="1897" font-family='"Liberation Serif", "DejaVu Serif", serif' font-size="34" font-weight="normal" text-anchor="start" fill="#262626" textLength="63.2" lengthAdjust="spacingAndGlyphs" stroke="#262626" stroke-width=".5">89E</text>
</svg>
</body></html>
